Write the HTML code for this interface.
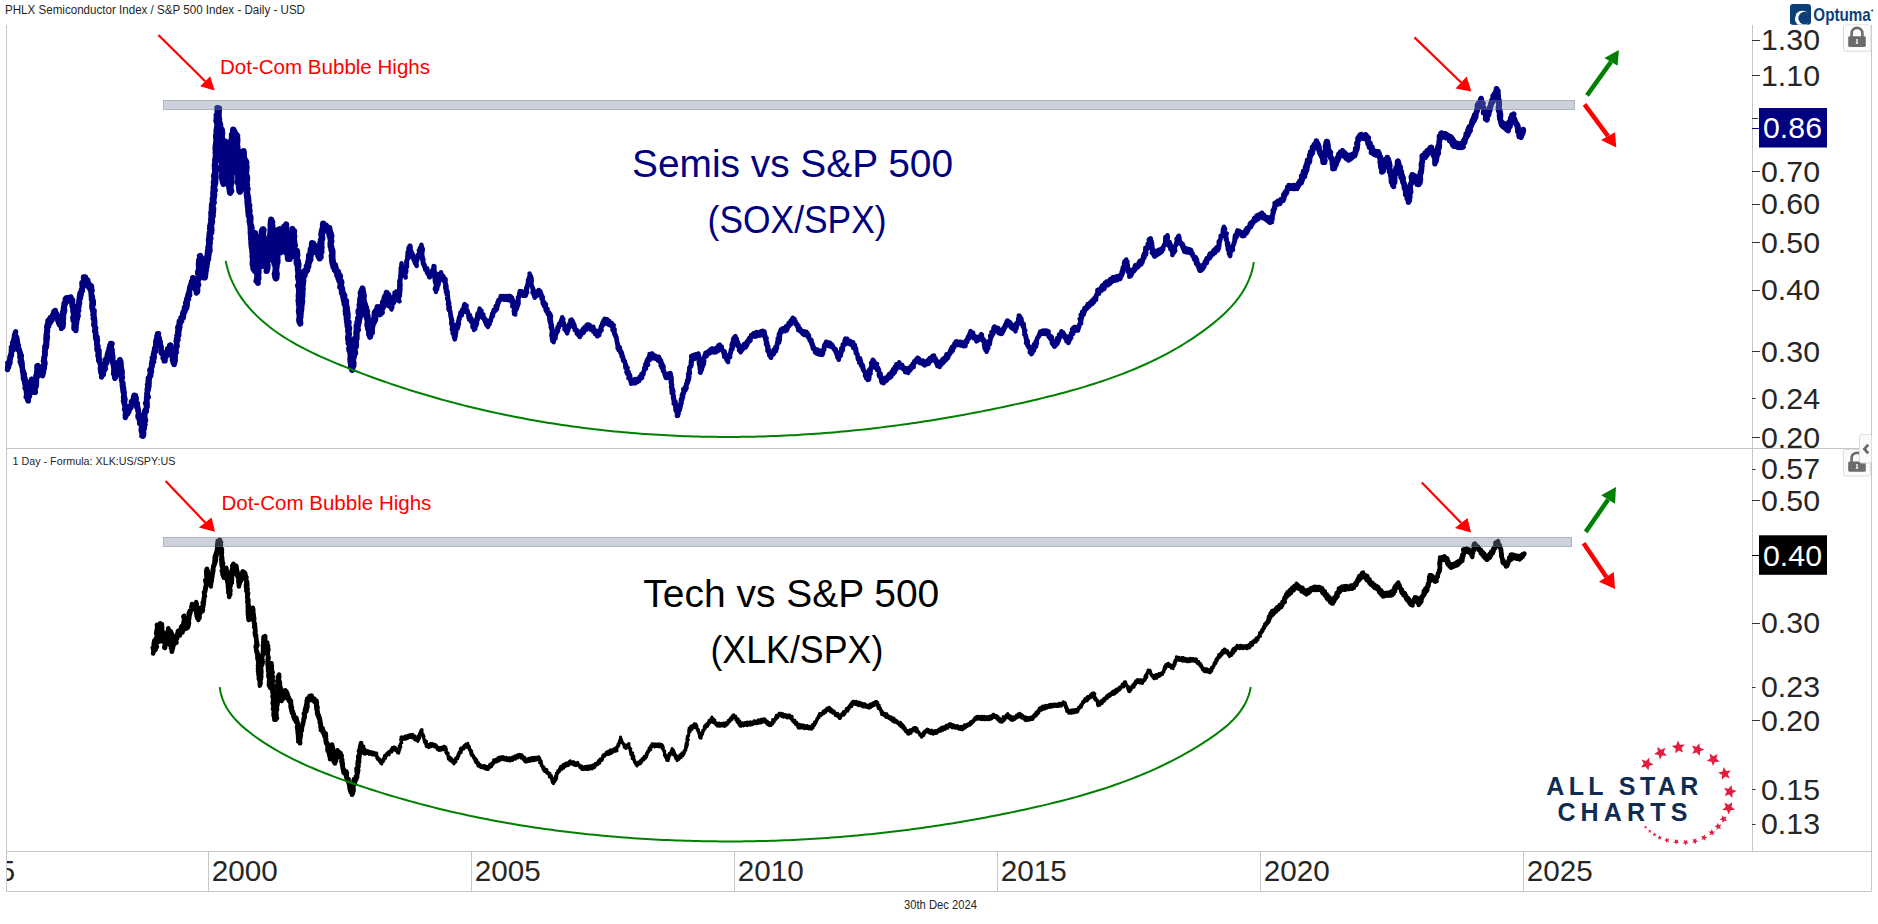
<!DOCTYPE html>
<html><head><meta charset="utf-8"><title>SOX/SPX vs XLK/SPX</title>
<style>html,body{margin:0;padding:0;background:#fff;width:1878px;height:924px;overflow:hidden}svg{display:block}</style>
</head><body>
<svg width="1878" height="924" viewBox="0 0 1878 924">
<rect width="1878" height="924" fill="#fff"/>
<text x="5" y="13.6" font-size="12" fill="#262626" font-family="Liberation Sans, sans-serif" textLength="300" lengthAdjust="spacingAndGlyphs">PHLX Semiconductor Index / S&amp;P 500 Index - Daily - USD</text>
<text x="12.5" y="465" font-size="11" fill="#262626" font-family="Liberation Sans, sans-serif" textLength="163" lengthAdjust="spacingAndGlyphs">1 Day - Formula: XLK:US/SPY:US</text>
<g stroke="#c6c6c6" stroke-width="1" fill="none">
<path d="M6.5,25 V891.5 H1871.5 V25"/>
<path d="M6,448.5 H1871 M6,851.5 H1871 M1752.5,25 V851"/>
<path d="M208.5,851 V891"/>
<path d="M471.5,851 V891"/>
<path d="M734.5,851 V891"/>
<path d="M997.5,851 V891"/>
<path d="M1260.5,851 V891"/>
<path d="M1523.5,851 V891"/>
</g>
<text x="211.7" y="880.6" font-size="29" fill="#262626" font-family="Liberation Sans, sans-serif" textLength="66" lengthAdjust="spacingAndGlyphs">2000</text>
<text x="474.7" y="880.6" font-size="29" fill="#262626" font-family="Liberation Sans, sans-serif" textLength="66" lengthAdjust="spacingAndGlyphs">2005</text>
<text x="737.7" y="880.6" font-size="29" fill="#262626" font-family="Liberation Sans, sans-serif" textLength="66" lengthAdjust="spacingAndGlyphs">2010</text>
<text x="1000.7" y="880.6" font-size="29" fill="#262626" font-family="Liberation Sans, sans-serif" textLength="66" lengthAdjust="spacingAndGlyphs">2015</text>
<text x="1263.7" y="880.6" font-size="29" fill="#262626" font-family="Liberation Sans, sans-serif" textLength="66" lengthAdjust="spacingAndGlyphs">2020</text>
<text x="1526.7" y="880.6" font-size="29" fill="#262626" font-family="Liberation Sans, sans-serif" textLength="66" lengthAdjust="spacingAndGlyphs">2025</text>
<svg x="7" y="851" width="201" height="40"><text x="-8" y="29.6" font-size="29" fill="#262626" font-family="Liberation Sans, sans-serif">5</text></svg>
<text x="904" y="908.6" font-size="12" fill="#262626" font-family="Liberation Sans, sans-serif" textLength="73" lengthAdjust="spacingAndGlyphs">30th Dec 2024</text>
<line x1="1752" y1="40.5" x2="1760" y2="40.5" stroke="#333" stroke-width="1"/>
<text x="1761" y="50.1" font-size="29.5" fill="#262626" font-family="Liberation Sans, sans-serif" textLength="59" lengthAdjust="spacingAndGlyphs">1.30</text>
<line x1="1752" y1="75.5" x2="1760" y2="75.5" stroke="#333" stroke-width="1"/>
<text x="1761" y="85.6" font-size="29.5" fill="#262626" font-family="Liberation Sans, sans-serif" textLength="59" lengthAdjust="spacingAndGlyphs">1.10</text>
<line x1="1752" y1="171.5" x2="1760" y2="171.5" stroke="#333" stroke-width="1"/>
<text x="1761" y="181.5" font-size="29.5" fill="#262626" font-family="Liberation Sans, sans-serif" textLength="59" lengthAdjust="spacingAndGlyphs">0.70</text>
<line x1="1752" y1="204.5" x2="1760" y2="204.5" stroke="#333" stroke-width="1"/>
<text x="1761" y="214.3" font-size="29.5" fill="#262626" font-family="Liberation Sans, sans-serif" textLength="59" lengthAdjust="spacingAndGlyphs">0.60</text>
<line x1="1752" y1="242.5" x2="1760" y2="242.5" stroke="#333" stroke-width="1"/>
<text x="1761" y="253" font-size="29.5" fill="#262626" font-family="Liberation Sans, sans-serif" textLength="59" lengthAdjust="spacingAndGlyphs">0.50</text>
<line x1="1752" y1="290.5" x2="1760" y2="290.5" stroke="#333" stroke-width="1"/>
<text x="1761" y="300.4" font-size="29.5" fill="#262626" font-family="Liberation Sans, sans-serif" textLength="59" lengthAdjust="spacingAndGlyphs">0.40</text>
<line x1="1752" y1="351.5" x2="1760" y2="351.5" stroke="#333" stroke-width="1"/>
<text x="1761" y="361.5" font-size="29.5" fill="#262626" font-family="Liberation Sans, sans-serif" textLength="59" lengthAdjust="spacingAndGlyphs">0.30</text>
<line x1="1752" y1="398.5" x2="1755.5" y2="398.5" stroke="#333" stroke-width="1"/>
<text x="1761" y="408.9" font-size="29.5" fill="#262626" font-family="Liberation Sans, sans-serif" textLength="59" lengthAdjust="spacingAndGlyphs">0.24</text>
<line x1="1752" y1="437.5" x2="1760" y2="437.5" stroke="#333" stroke-width="1"/>
<text x="1761" y="447.6" font-size="29.5" fill="#262626" font-family="Liberation Sans, sans-serif" textLength="59" lengthAdjust="spacingAndGlyphs">0.20</text>
<line x1="1752" y1="118.5" x2="1758" y2="118.5" stroke="#333"/>
<line x1="1752" y1="469.5" x2="1755.5" y2="469.5" stroke="#333" stroke-width="1"/>
<text x="1761" y="479.2" font-size="29.5" fill="#262626" font-family="Liberation Sans, sans-serif" textLength="59" lengthAdjust="spacingAndGlyphs">0.57</text>
<line x1="1752" y1="500.5" x2="1760" y2="500.5" stroke="#333" stroke-width="1"/>
<text x="1761" y="510.7" font-size="29.5" fill="#262626" font-family="Liberation Sans, sans-serif" textLength="59" lengthAdjust="spacingAndGlyphs">0.50</text>
<line x1="1752" y1="623.5" x2="1760" y2="623.5" stroke="#333" stroke-width="1"/>
<text x="1761" y="633.4" font-size="29.5" fill="#262626" font-family="Liberation Sans, sans-serif" textLength="59" lengthAdjust="spacingAndGlyphs">0.30</text>
<line x1="1752" y1="687.5" x2="1755.5" y2="687.5" stroke="#333" stroke-width="1"/>
<text x="1761" y="697.2" font-size="29.5" fill="#262626" font-family="Liberation Sans, sans-serif" textLength="59" lengthAdjust="spacingAndGlyphs">0.23</text>
<line x1="1752" y1="720.5" x2="1760" y2="720.5" stroke="#333" stroke-width="1"/>
<text x="1761" y="730.8" font-size="29.5" fill="#262626" font-family="Liberation Sans, sans-serif" textLength="59" lengthAdjust="spacingAndGlyphs">0.20</text>
<line x1="1752" y1="789.5" x2="1755.5" y2="789.5" stroke="#333" stroke-width="1"/>
<text x="1761" y="799.9" font-size="29.5" fill="#262626" font-family="Liberation Sans, sans-serif" textLength="59" lengthAdjust="spacingAndGlyphs">0.15</text>
<line x1="1752" y1="824.5" x2="1755.5" y2="824.5" stroke="#333" stroke-width="1"/>
<text x="1761" y="834.2" font-size="29.5" fill="#262626" font-family="Liberation Sans, sans-serif" textLength="59" lengthAdjust="spacingAndGlyphs">0.13</text>
<line x1="1752" y1="128.5" x2="1759" y2="128.5" stroke="#000080"/>
<rect x="1759" y="108" width="68" height="39.5" fill="#000080"/>
<text x="1763" y="138.3" font-size="29.5" fill="#fff" font-family="Liberation Sans, sans-serif" textLength="59" lengthAdjust="spacingAndGlyphs">0.86</text>
<line x1="1752" y1="555.5" x2="1759" y2="555.5" stroke="#000"/>
<rect x="1759" y="535.3" width="68" height="39.5" fill="#000"/>
<text x="1763" y="565.6" font-size="29.5" fill="#fff" font-family="Liberation Sans, sans-serif" textLength="59" lengthAdjust="spacingAndGlyphs">0.40</text>
<path d="M7.5,369.6 L8,365.3 L8.7,367 L7.8,363 L8.4,365.1 L10,361.4 L9.9,363.3 L9.7,359.7 L9.9,361.7 L10,356.9 L10.4,358.7 L10.8,355 L10.2,356.6 L11.4,353.1 L11.4,355.5 L11.6,350.5 L11.2,353.4 L11.5,348.5 L12.5,350.5 L11.4,347.2 L13.1,348.8 L12.7,345.1 L12.7,346.7 L12.6,342.7 L13.2,345.3 L13.6,340.2 L14.2,343.3 L14,339 L14.6,341.2 L14.9,336.5 L14.7,338.3 L15.2,334.5 L14.4,336 L15.6,331.9 L14.5,336.9 L15.4,335 L15.4,339 L16.7,337.2 L16.5,340.3 L17,339 L17.5,343.4 L17.1,340.3 L17,344.5 L17.8,343.5 L17.4,347 L18.4,345.5 L17.6,349.6 L18.3,346.7 L19.7,351.2 L19.1,349.3 L19.7,353.5 L19.8,351.3 L20.8,355.5 L20.1,353.2 L19.9,357.3 L21.4,355.5 L20.8,359 L20.7,357.5 L20.2,361.8 L21.5,360.1 L21.7,363.7 L21.9,361.8 L22.2,366 L21.1,364.2 L22.5,368.3 L21.9,365.8 L22.7,369.6 L22.4,368 L22.6,372 L22.7,370 L23.7,373.4 L23.5,371.6 L23.2,375.6 L24.3,374.2 L23.3,377.9 L24.4,376.4 L23.9,379.9 L25,378.1 L25.3,381.7 L24.5,379.9 L25.7,384.1 L24.7,382.6 L25.4,385.8 L26.1,383.8 L25.1,388 L26.4,386 L26.6,390.1 L25.6,388.5 L26.9,392.1 L26.3,390.4 L26.6,394.3 L27.7,392.7 L26.2,396.9 L28,393.8 L27.3,399 L28.4,396.8 L28.3,400.9 L28.3,398.5 L27.8,400.3 L27.8,396.9 L28.6,398.1 L29.2,394.8 L29.5,396.5 L29.7,391.7 L29.8,394.2 L28.4,389.8 L28.8,391.8 L29.9,387.9 L29.6,390.5 L30.1,386 L29.6,388.3 L30.2,383.4 L30.1,385.4 L30.6,381.3 L30.1,384 L31.6,379.2 L31.6,381 L31.6,379.1 L30.9,383.4 L31.7,381.7 L32.3,385.9 L33.3,384.5 L32.4,387.6 L32.9,386.6 L34.8,390.7 L33.5,388.3 L34.3,392.2 L34.7,390.3 L35.3,392.3 L34.7,388.6 L34.7,390.5 L35.9,386.5 L34.8,388 L35.5,384.1 L36.3,386.1 L36.5,382 L36,384 L36.2,379.8 L36.2,382.3 L36.4,378.3 L36.6,380.2 L35.9,376 L36.7,378.4 L37.7,374 L37.8,376.2 L36.7,371.8 L36.6,374.1 L37.7,369.2 L38,371.9 L38.1,367.5 L37,369.7 L37,365.9 L38.5,367 L37.6,365.5 L39.4,368.3 L38.2,365.8 L38.7,370.2 L40.1,366.9 L41,371 L41,369 L41.3,372.1 L41.6,370.1 L42,373.7 L41.1,371 L42.4,374.8 L42.2,372.3 L42.5,375.7 L43.6,371.6 L43,373.4 L43,369.5 L42.7,371.4 L44.4,367.5 L44.1,369 L44.1,365 L44.1,367.4 L43.9,363.1 L44.7,364.9 L43.4,361 L45,363.3 L44.2,359 L43.9,361 L44,357.1 L44.3,358.9 L45.1,354.6 L44.5,357.4 L44.8,352.7 L45.2,354.8 L44.6,351.6 L45.2,352.9 L44.8,349.2 L45.1,351.3 L44.9,346.4 L45.6,349.1 L45.7,344.5 L46.4,347 L45.9,342.6 L46.7,344.8 L46.6,340.3 L46.2,342.6 L45.9,338.6 L46.8,341.4 L47.2,337.1 L46.1,338.5 L46.2,334.5 L47.5,337.2 L46.5,332.3 L46.7,334.6 L47.6,331.1 L46.6,333.1 L47,328.8 L47.6,330.8 L46.7,326.7 L47.6,328.6 L47.3,324.4 L48.7,326.4 L48.1,322.9 L47.9,325.1 L48,320.8 L49.8,323.3 L50.2,320.2 L50.2,322.8 L49.7,318.7 L50.7,321.7 L50.4,317.4 L52,320.3 L51.6,316.9 L51.8,318.8 L52.6,315.1 L52.7,317.4 L53.2,313.9 L52.7,317 L53.9,313.3 L54.7,314.9 L54,311.4 L54.8,314.2 L55.3,310.5 L55,313.9 L54.9,311.8 L56.5,316 L56.8,313.8 L56.3,317.4 L57.8,315.8 L57.5,318.8 L58.3,317 L57.8,320.6 L58.6,318.2 L58.6,322.7 L58.5,320.3 L58.8,323.5 L60.4,321.4 L59.7,325.2 L60.4,323 L61.5,327.4 L61.5,325.3 L61.5,328.4 L62,326.4 L61.6,328.2 L62.7,324.9 L62.9,326.9 L63.3,322.5 L62.7,324.4 L62.9,319.7 L63.1,322 L63.5,318.2 L63.2,320.5 L62.2,315.8 L63.5,318.1 L63.4,314.1 L62.9,316.1 L62.7,312 L63.9,313.9 L63.9,309.4 L64.6,311.5 L64.5,307.7 L63.3,309.7 L63.7,306.2 L64.4,308.2 L64.1,303.2 L64.9,305.2 L65.3,301.5 L65.5,303.8 L65.3,299.7 L65.6,302 L66,298.5 L66.2,301.3 L65.3,298.7 L65.6,300.8 L66.1,298 L67.5,301 L67.3,297.6 L67.4,300.7 L68.6,297.7 L67.9,301 L69.2,297.5 L69,300.4 L69.7,297.5 L69,299.8 L70.8,297.4 L70.5,299.6 L70.4,297.2 L71.1,299.3 L70.8,297 L71.4,299.5 L71.3,298.1 L72.1,301.5 L72.7,300.1 L72.2,303.5 L71.6,301.1 L72.1,305.2 L72.6,304.1 L73,307.6 L72.2,306.3 L73.4,309.6 L73.6,307.9 L73.9,311.7 L72.8,310.2 L73.9,314.1 L73.2,312.4 L73.9,316.6 L73.8,314.6 L72.9,317.6 L73.2,316.6 L73.1,320.3 L74.8,318.5 L75,322.2 L74.8,319.7 L75.1,323.8 L74.1,322.2 L75.3,325.9 L74.2,323.9 L74,328.3 L74.5,326.2 L75.7,330.1 L75.4,328.2 L75.8,330.6 L76.1,326.6 L75.3,328.1 L76.1,324.4 L75.4,326 L76.4,322.2 L76.5,324.2 L76.3,320.6 L76.8,321.7 L76.6,317.9 L77.1,319.7 L76.5,315.7 L77.4,318.5 L77.9,314.1 L78.1,316.3 L77.3,312.1 L77,313.9 L78.7,310.4 L78.2,311.5 L77.5,307.7 L77.9,309.3 L77.9,305.6 L78.9,307.2 L78.4,303.2 L78.5,305.8 L79,301.3 L79.5,304 L79.6,299.9 L79.1,301.1 L80.4,298 L79.1,300.1 L79.7,295 L79.7,297.4 L80.1,292.9 L81,295.5 L81.5,290.8 L81,293.3 L81.4,289.6 L82.3,291.2 L82.5,287.3 L82.2,289 L82.7,285.4 L82.2,286.9 L82,282.7 L83.4,284.7 L83.4,280.6 L82.9,282.5 L84.5,278.8 L83.7,280.1 L83.5,276.9 L85.1,280.3 L85.4,276.9 L85.3,281.5 L85.5,278.6 L86.6,282.5 L86.9,279.5 L86.9,282.9 L87.7,280 L86.8,284.5 L86.9,281.9 L88.3,284.8 L88.2,282.3 L87.7,286.3 L88.5,283.6 L89,287.3 L90,284.7 L89.2,287.8 L90.1,286 L90,289.3 L91.4,285.9 L92,291 L91,288.9 L91,292.6 L91.4,290.5 L91.2,295.1 L91.2,292.7 L92.4,297 L91.4,295 L92.4,298.2 L91.3,296.7 L92.1,300.4 L91.4,299.1 L92.8,302.8 L93.2,300.5 L93.3,304.4 L92,303.4 L92.5,306.8 L91.9,304.9 L92.1,308.8 L92.5,306.6 L92.9,310.8 L92.3,309.1 L93.5,313.3 L94.1,310.7 L93,314.7 L94,312.8 L93.7,317.6 L93.8,315.4 L93.2,318.7 L94.2,316.8 L94.8,321.2 L94.4,318.8 L94.8,323.4 L94.2,321.3 L93.8,325 L94.8,322.8 L94.7,327.3 L94.4,325.5 L95.4,329.4 L95.7,327.9 L94.7,331.5 L95,329.1 L95.9,334.1 L95.7,332.1 L95.8,335.7 L95.8,333.8 L96.3,338.1 L95.4,335.4 L96,339.7 L97.1,337.1 L96.8,341.4 L97.5,340.1 L96.7,344.2 L96.7,342 L98,346.3 L97,343.9 L97.1,347.5 L97.2,345.3 L97,349.6 L97.4,348.4 L98.2,352.2 L98.9,349.8 L99,353.4 L98.2,351.5 L98,355.8 L98.9,354.3 L99.1,357.6 L98.7,355.5 L98.7,360.6 L98.9,357.6 L100,362.4 L99.2,360.7 L100.4,363.9 L99.6,361.8 L101,365.8 L101.3,364.2 L100.4,367.9 L100.6,365.7 L100.5,369.9 L100.4,368.8 L101,372.9 L100.6,370.7 L102.3,375 L102.6,372.7 L101.6,377 L102,374.2 L102,375.9 L102.3,372.1 L103.4,374.5 L103.1,370.3 L103.3,372.4 L104.3,368.6 L104.2,370.8 L104.9,366.6 L105.4,368.6 L104.3,364.4 L104.7,365.7 L106.3,362.2 L106.4,363.7 L105.2,359.6 L106.9,362.6 L107,357.9 L107.4,359.5 L107.3,356 L106.9,358 L107.5,353.8 L107.9,355.6 L108.1,351.7 L109.5,354.3 L109.6,349.3 L108.9,352.3 L109.1,348.1 L109.8,349.9 L109.8,345.4 L110,348.1 L110.6,343.5 L111.1,346 L112,343.5 L111.1,347.7 L110.6,345.7 L112.1,350 L110.8,347.2 L111.5,352.3 L111.6,350 L112.1,354.2 L112,351.3 L112.6,355.7 L112,353.8 L112.3,357.7 L112.8,355.4 L112.8,359.5 L112.3,358.1 L113.1,361.6 L112.3,360.2 L112.8,363.5 L113.4,361.6 L113.5,366.4 L114.1,363.7 L114.4,368.1 L114.1,366.6 L114.6,370.1 L114,367.8 L113.8,372 L114.9,370.2 L113.6,373.8 L114.2,372.9 L115.2,376.1 L114.4,374.5 L114.9,378.4 L115.2,376.3 L115.2,378 L116.5,374.1 L115.1,376.3 L116.6,371.7 L115.7,373.7 L116.7,370.2 L117.8,372.5 L117,368.1 L117.8,370.4 L117.4,366 L117.5,368 L117.7,363.3 L118.9,365.8 L118.4,362 L119.4,364.1 L119.8,359.8 L120.9,361.7 L120.2,359.9 L119.9,364.1 L119.7,361.6 L120.7,365.5 L121,363.2 L121.3,368 L120.2,366.2 L120.8,369.6 L120.4,367.4 L120.6,372.3 L122,370.3 L122.1,373.8 L120.9,372.3 L120.7,376 L121.5,373.6 L122.4,377.6 L121.7,376.2 L121.4,379.9 L121.7,378 L121.9,381.8 L121.8,380.3 L122.6,384 L122.9,382.7 L123,386.5 L122.2,384.1 L122.7,388.5 L123.2,386.3 L123,390 L123.7,388.1 L123.3,392.7 L123,390.2 L123.9,394.4 L124.2,392.1 L123.5,397.4 L123.9,395.1 L124.4,398.7 L124.5,396.8 L123.5,401 L125,398.9 L124.5,403.4 L124.5,401 L124.8,405.5 L124.2,403.5 L125.4,407.2 L124.6,404.7 L125.8,409.3 L126.1,406.8 L125.8,411.1 L124.6,409.1 L126,413.2 L125.6,411.3 L125.3,415.7 L126,413.6 L125.3,417.6 L126,413.4 L126.1,415.9 L126.5,412.3 L127.5,414 L126.9,410.7 L127.5,412.9 L127.8,409.6 L128.8,411.9 L129.8,407.5 L129.3,409.3 L129.4,406.2 L130.9,407.8 L131.3,404.5 L130.7,406.5 L132,403.3 L131.7,405.2 L131.3,401.7 L133.1,404 L133,399.4 L132.2,402.4 L133.7,398.6 L133.5,401.1 L133.6,396.5 L133.7,399.3 L134.2,395.2 L134.8,398 L135.6,395.5 L135.7,399.5 L136.2,397.8 L135.9,401.7 L135.8,400.1 L135.6,403.8 L135.9,401.4 L136.6,406.3 L137.5,403.4 L136.8,407.3 L137.4,405.5 L138.2,409.5 L137.1,407.3 L138.3,411.9 L138.5,410.3 L138.4,414.1 L138.7,412.3 L138,416.1 L139.6,414.4 L138.2,417.6 L139.8,416.1 L139.4,420.7 L139.9,418.3 L140.3,421.6 L139.7,419.9 L139.7,423.6 L140.6,422.4 L141.6,425.8 L141.5,424.3 L141.7,428.2 L141.7,426.5 L141.1,430.3 L142.3,428.5 L141.5,432.3 L141.5,430.6 L142.5,434.5 L142.8,432.7 L141.9,435.9 L142.7,434.8 L143.2,436.2 L143.7,432.3 L143.6,434.7 L143.5,430.4 L143.2,431.8 L144.2,428.3 L143.1,430.8 L144,426 L143.9,427.8 L145,424.5 L144,426.7 L143.7,422 L144.4,423.7 L145.3,420.1 L143.8,421.9 L143.9,417.6 L145.6,420.4 L144.2,415.6 L144.8,417.8 L144.9,414 L144.7,415.9 L144.7,411.1 L144.7,414.2 L145.1,410.1 L146.2,411.6 L146.4,407.5 L146.2,409 L146.4,405.4 L147.1,406.9 L145.6,403.2 L147.2,405.3 L146.9,401.2 L146.5,403.3 L147,399.8 L146.5,401.5 L146.6,397.2 L146.7,399 L147.5,394.8 L148.2,397.1 L146.9,393.2 L146.8,394.7 L147.8,390.8 L147.3,392.6 L147.2,389.2 L148,390.6 L148.8,386.7 L147.9,388.7 L147.5,384.4 L148.9,386.6 L149,382.9 L148.2,384.3 L148.2,380.4 L149.1,382.8 L148.3,378.2 L149.2,380.4 L149.4,376.5 L149.1,378.3 L150.1,374.1 L150.7,376.1 L150.9,372 L150.8,374.9 L149.9,370 L151.5,371.9 L151.2,367.7 L150.8,370.7 L152.1,366.3 L151,367.9 L152.4,364.3 L151.7,366.1 L153,362.4 L151.5,364.7 L152.3,360.2 L153.7,361.8 L152.3,357.6 L152.7,359.7 L154.2,356.3 L154.3,357.8 L153.4,354.3 L154.1,356 L154,351.9 L154,354.3 L155.4,349.6 L155.4,351.4 L154.6,348.2 L154.6,350.4 L156.1,345.3 L155.7,347.3 L155.7,344.2 L156.7,345.5 L155.8,341.2 L155.9,344.2 L156.3,339.4 L156.1,342.1 L156.8,337.8 L157.5,339.7 L157,336 L157.7,337 L158.5,333.7 L157.4,335.3 L157.5,333.7 L158.6,337.5 L158.4,335.8 L158.9,340 L159.1,337.4 L159.4,341.3 L159.1,339.4 L159.9,343.7 L160.2,341.4 L160.2,345.8 L160.4,344.5 L161,348 L161.1,346.1 L161.3,350.3 L161,347.5 L161.1,352.6 L161.5,349.8 L161.9,353.8 L162.6,351.8 L163.4,356.8 L163.9,354.8 L163.1,357.9 L164,356.5 L164.2,360.8 L164.9,358.3 L165,360.8 L164,356.4 L164.3,358.6 L166,355.4 L166.1,356.9 L165.6,353.3 L165.6,355.8 L167.6,352.2 L167.5,354.4 L167.7,349.9 L168.2,351.9 L167.7,348.6 L169.4,350.5 L169.1,347.4 L169.9,349.1 L169.7,345.1 L169.3,347.8 L170.8,345.1 L170.1,349.3 L170.1,347.2 L170.8,351.6 L171.2,349.5 L171.1,353.7 L172.1,351.6 L171.5,355.5 L172.9,353.7 L172.5,358 L173.4,356.2 L172.3,359.8 L172.8,358.1 L173.1,362.9 L173.8,360.4 L174.1,364.6 L174.2,362.5 L174.2,364.5 L174.9,360.8 L174.9,362.2 L175.2,358.9 L174.6,360.3 L175.2,356.7 L174.5,357.9 L175.2,354.2 L174.3,355.9 L174.8,351.7 L175.4,354.3 L175.2,350 L176.3,352.4 L175,348.2 L176,349.6 L176.7,346.3 L175.9,348.2 L176.6,344 L177.2,346 L176.4,342.4 L176.9,343.8 L177,340.1 L176.2,341.4 L176.6,338.3 L178,339.9 L177,335.5 L177.9,337.3 L178.2,334 L178.8,335.3 L177.7,332 L178.8,334.1 L178.5,330 L178.3,331.9 L177.8,327.1 L179.3,330.1 L179.2,325.4 L179.9,327.3 L179,323.9 L179.1,325.9 L179.3,321.2 L180.2,324 L181.2,319.3 L181.7,321 L181,317.6 L181.7,319.7 L182.8,315.2 L183.3,317.7 L182.6,313.5 L183.6,315.9 L183.3,311.6 L184.1,313.2 L184.9,310.1 L184.9,311.5 L184.4,307.4 L185.3,310.1 L186.3,305.4 L186.7,308 L185.6,303 L187.1,306 L187.2,301.4 L186.4,303.5 L186.7,298.9 L187.5,301.5 L187.4,297.3 L188.6,299.2 L187.9,294.9 L188.2,297.1 L188.6,293.1 L189.7,295.3 L189.5,291 L188.7,293 L190.1,288.4 L189.2,290.8 L190,286.6 L190.5,288.4 L190.9,284 L191.9,285.7 L191.5,281.5 L191.9,284.1 L192.6,280.4 L192.9,281.9 L192.8,277.8 L193.2,279.1 L193.4,277.8 L194.4,282 L193.9,279.4 L194,283.9 L193.9,281.4 L195.3,286.3 L194.4,283.6 L194.6,288.2 L195.7,286.7 L195.9,290.7 L196.6,288.5 L197.3,292.3 L197.7,290.6 L196.3,293 L196.4,288.7 L197.7,290 L197.4,285.9 L197.6,288.2 L198,283.9 L197.7,286.5 L197.4,282.4 L198.7,284.8 L197,280.5 L197.4,282.5 L197.5,278.5 L198.6,279.8 L199.1,276.1 L199,278.5 L197.8,273.7 L198.3,275.7 L197.7,271.7 L198.7,273.8 L199.3,270.3 L198.7,271.4 L198.6,267.4 L199,269.5 L198.6,265.6 L198.7,268.3 L198.4,263.3 L199.5,266.1 L199.1,262.2 L198.9,263.8 L198.7,260.1 L200.2,262.1 L200.4,257.2 L199.9,260 L200.3,255.4 L199.9,257 L199.5,255.8 L200.3,259.1 L201.5,257.5 L201.3,262.1 L200.5,259.2 L202.1,263.4 L200.8,261.3 L202.3,266.1 L201.7,263.6 L201.4,267.5 L202.1,265.5 L201.7,270.4 L201.8,267.3 L202.4,272.3 L203.6,269.4 L203.2,274.2 L203.1,271.6 L203,276.5 L204.1,274.5 L204.9,277.9 L203.5,276.4 L203.6,277.8 L205,273.4 L205,276.4 L205.5,271.7 L204.9,273.6 L204.7,269.8 L204.9,272.1 L205.3,267.6 L205.9,269.9 L205.3,265.9 L206.4,267.3 L206.6,263 L206.2,266.1 L206.8,260.9 L206.8,263.7 L207.2,259.7 L207.1,261.5 L207.2,257.1 L208.1,259.6 L208.1,255.6 L208.1,257.3 L208.7,253.7 L207.5,255.6 L208,250.8 L208.5,252.9 L208.4,248.9 L209.6,251 L209.3,247.1 L209.3,248.9 L209.4,244.3 L208.4,247.3 L209.4,242.9 L209.3,244.2 L208.9,240.1 L209.9,243 L209,238.9 L209.5,240.4 L210.2,236.6 L210.4,238.4 L209.7,233.9 L209.4,236.4 L209.7,232.7 L210.3,234.2 L210.7,230.2 L211.3,232.4 L210,228.5 L211.6,229.9 L210.2,226.2 L211.3,227.5 L210.8,223.6 L210.9,225.9 L212.1,221.3 L211.6,223.8 L211.1,219.4 L211.9,221.7 L211.7,217.2 L211.3,219.7 L212.8,215.9 L211.5,217.9 L211.3,212.9 L212.3,214.8 L212.5,211.8 L212.9,213 L213.2,208.7 L211.8,211.1 L211.9,206.8 L211.9,208.6 L212,204.6 L212.4,206.8 L212.8,202.9 L212.8,205.5 L212.8,200.9 L213.8,202.6 L212.7,198.4 L213,201.3 L214,196.9 L213.2,198.3 L214.3,194.7 L213.4,196.3 L213.3,192.2 L213.2,194.7 L214.1,190.5 L214,192.4 L213.5,188.1 L214.8,190.5 L213.7,185.9 L213.7,188 L214.5,184 L214.5,185.9 L215.3,182.7 L214.2,184.9 L215.1,179.9 L213.8,182.7 L214.5,178.7 L215.3,180.7 L214,176.2 L215.6,177.9 L214.6,173.7 L214.9,176.7 L215.7,171.6 L215.5,173.7 L215.5,169.9 L215.2,172 L214.9,168.2 L216.1,169.8 L214.7,165.3 L215.5,168.1 L215.2,164.2 L215.3,166.2 L215.2,161.3 L215.4,164.2 L215.2,159.7 L215.2,161.3 L215.9,157.8 L216,159.3 L215.7,155.8 L216.8,157.1 L216,153.1 L216.3,155.2 L217.1,151.9 L215.6,152.9 L216.2,149 L215.9,151.2 L216.9,147.8 L215.5,149.6 L215.7,145.3 L215.8,147.4 L217.1,143.3 L216.1,145.4 L216.9,141.7 L216.1,143.1 L216.7,139.4 L217,140.9 L217.4,137.3 L216.2,138.6 L216.1,135.4 L217.5,137 L216.7,132.4 L217.7,135.3 L216.5,131.1 L217,132.7 L216.7,129.2 L216.6,131.2 L217.2,126.9 L217,129 L217.5,125.3 L217.8,126.7 L216.9,122.2 L217.7,124.6 L216.4,120.7 L217.2,122.5 L216.6,118.5 L216.9,120.9 L217.4,116.8 L218,118.5 L216.7,114.8 L216.7,116.4 L218.4,111.9 L218.1,114 L217.5,110.7 L217.9,112.5 L217.4,108.2 L218.3,110.4 L219.1,108.4 L218.7,112.1 L218.5,110.3 L217.9,114.6 L218.8,113 L218.4,117.1 L218.6,115.1 L218.6,118.9 L218.9,117.1 L218.8,120.8 L219.2,119 L218.5,123.4 L219,120.8 L220.2,125 L219.9,123.7 L218.8,128 L220.3,125.2 L219.8,130.2 L219.7,127.4 L219.9,132.1 L220.3,129.9 L219.2,133.8 L219.9,131.9 L220.4,136.2 L220.2,133.7 L220.2,137.5 L220.4,136.3 L220.6,140 L219.6,138.2 L220.2,141.9 L220.4,140.4 L220.7,143.9 L220,141.7 L220.3,146 L219.8,144.1 L219.3,147.9 L220.8,146.6 L219.5,150.6 L220,148.1 L220.5,152.5 L220,149.9 L219.5,154.7 L220.1,152.2 L220.1,156.7 L220.2,154.2 L220.2,158.8 L221,156.8 L221,161 L220.1,158.8 L221.4,161 L220,156.1 L221.5,158.1 L221.2,154.6 L221.3,156.4 L220.7,152.7 L221.1,154.5 L220.5,150.7 L220.1,151.9 L221.8,147.9 L221.7,150.4 L220.3,146.2 L221.8,148.5 L221.9,143.6 L221.4,146.3 L221.8,142 L220.3,143.7 L220.3,140.1 L221.4,141.6 L220.8,138.3 L221,139.8 L221.4,135.2 L220.5,137.4 L220.6,133.2 L221.6,135.8 L222,132.2 L222.2,133.4 L221.7,129.6 L221.9,131.3 L221.1,129.8 L222,133.6 L221,131.8 L221.7,135.5 L221.8,133.3 L221.9,138.1 L221.3,135.3 L222.5,139.9 L220.9,138.3 L222.2,142.3 L222.2,139.9 L221.9,143.6 L222,141.4 L221.3,146.2 L222.5,143.9 L221.6,147.9 L222.3,145.7 L222.6,150.1 L222.4,147.9 L221.8,152.6 L221.8,150.7 L221.1,154.7 L222.5,152.9 L221.3,156.3 L221.6,154.2 L221.6,158.7 L222.2,156.7 L222.8,160.6 L222.2,158.4 L222,162.4 L223.1,160.4 L222.3,164.8 L222.5,163 L221.5,166.9 L223.1,165.3 L223.2,168.8 L223.3,166.6 L222,170.7 L223.1,168.5 L223,173.2 L222.6,170.8 L223.1,175.6 L222.2,172.8 L223.4,177.4 L221.7,175.6 L222.9,179.3 L223.4,177.2 L223,181 L222.7,179.2 L223.5,184 L222.3,179.4 L223.6,181 L222,177.7 L223.3,179.2 L223.3,174.9 L223.5,176.8 L223.3,172.9 L223.3,175.7 L223.6,171.1 L223.7,173.3 L222.4,169.4 L223.9,170.9 L223.1,166.6 L223.5,169.4 L223.2,165 L222.5,166.7 L222.7,162.9 L223.4,164.4 L223.6,161.3 L223.2,162.3 L223.4,159.2 L224.3,160.7 L224.1,156.8 L223.2,159.1 L223.2,154.7 L223.9,157.3 L224,153.1 L223.6,155.1 L224.4,150.7 L223.1,152.3 L224.3,148.8 L224.7,150.1 L224.5,145.9 L223.9,148 L224.8,144.1 L224.8,145.8 L225.7,141.7 L224.3,145.6 L225.1,143.6 L225.7,147.3 L225.1,145.6 L224.5,149.6 L225,147.8 L225.6,152.3 L226,150.1 L225,154.3 L224.5,152.3 L224.5,156.4 L225.3,153.9 L224.6,158.4 L226.3,155.7 L226.2,160.1 L225.1,158.4 L225.2,161.7 L225.3,160.6 L224.7,164.6 L226.2,161.8 L225.4,166.1 L225.8,163.9 L225.4,168.3 L225.8,165.9 L225.5,169.8 L225.6,167.9 L225.3,172.5 L225.2,170.6 L226.2,174 L225.9,172.3 L225.8,176.8 L226.7,172.7 L226.6,174.7 L226.3,170.2 L226.3,172.6 L226.6,168.5 L226.5,170.5 L226.2,165.7 L226,168.2 L226.5,164 L225.8,166.3 L225.8,162 L226.4,164.2 L227.2,159.4 L226.1,162.4 L226.6,157.8 L225.8,160.3 L226.2,156 L226.4,157.5 L226.4,153.9 L226.9,155.5 L227.3,151.1 L227.7,153.5 L227.3,149.3 L227.4,151.4 L226.8,147.4 L228,149.8 L228.4,146.6 L228.6,150.6 L229,148.6 L228.5,152.6 L227.6,150.1 L227.7,154 L227.4,152.6 L228.9,156.5 L228.9,153.8 L227.7,158.9 L229.1,156.3 L228.1,160.2 L228.4,158.7 L228.1,162.8 L228.8,160.9 L228,164.7 L229,162.5 L228.9,167.2 L229.1,164.8 L229.1,169.1 L228.4,167.2 L228.5,171.2 L229.2,169.2 L228.9,172.5 L229,171.1 L229.3,175.5 L228.1,172.6 L228.3,177.7 L229.8,175.5 L228.6,178.8 L229.8,176.9 L229.9,181.7 L228.8,179 L228.8,183.2 L229,181.2 L228.8,185.6 L229.3,183.1 L229.4,187.6 L229.7,185.9 L230.3,189.7 L229.5,188.8 L230.1,192.9 L230.5,188.3 L231.2,190.8 L230,186.7 L230.5,188.1 L230.7,184.8 L230.3,186.6 L230.1,182.6 L231.1,183.9 L231.4,180 L231.4,182.2 L230.7,178.4 L230,180.6 L230.3,176.5 L231.6,178.1 L231,173.5 L231.4,175.7 L230.6,171.7 L231.3,173.6 L230.6,169.8 L230.3,172.2 L231.4,168.2 L231.3,169.9 L230.5,165.8 L231.8,167.7 L231.7,164 L232.2,165.9 L231.5,162.1 L231.2,163 L231.4,159.9 L231,161.3 L230.9,157.7 L231.6,159 L231.7,154.8 L232.1,157.9 L231,153.1 L231.3,155.8 L231.8,150.9 L232.3,152.8 L231.2,148.7 L232.5,151 L231.1,147.6 L232.5,149.2 L231.8,144.7 L232.6,146.4 L232.6,142.3 L232.8,145.3 L232.1,140.6 L231.6,143.1 L232.6,138.8 L231.5,140.3 L232.2,136.1 L232.4,139 L231.9,134.8 L232,136.3 L233.3,132.5 L232.7,134.4 L233.2,129.5 L234,132.2 L233.5,129.9 L233.6,134.5 L234.5,131.8 L233.7,135.5 L234.4,133.9 L233.7,137.7 L233.8,135.8 L233.5,139.9 L234,138.2 L233.1,141.8 L233.8,140 L233.8,143.8 L233.6,142.7 L234.6,146.1 L235,144.7 L233.6,148 L234.2,146.5 L234.8,150.8 L234.4,149.1 L235.1,152.4 L233.9,151.1 L234.6,155 L234.1,153.1 L233.6,157 L234.9,155.3 L234.1,159.3 L235,157.4 L235.5,161.3 L235.1,159.3 L235.5,163.1 L235,160.6 L235.4,164.9 L234.1,163.6 L234.2,167.8 L235,165.4 L234.7,169.4 L234.8,167.2 L234.8,171.9 L235.7,167 L235.5,169.1 L235,165 L234.9,167.5 L234.7,162.9 L234.9,165.2 L235.8,161.7 L234.4,163.2 L235.2,159.6 L235.2,161.5 L236.1,156.6 L235.9,158.6 L235.2,155.1 L234.6,157.4 L235.1,152.6 L235.9,154.7 L235.3,150.9 L235.1,152.3 L235.5,149.1 L235.2,151.2 L236.2,146.9 L234.9,149.1 L235.4,145.1 L236.3,147.2 L235.4,142.6 L236.6,144.6 L235.7,140.9 L235.1,143 L236.6,138.8 L236.4,140.1 L236.8,136.5 L236.8,138.3 L235.9,134.1 L237.1,135.6 L236,134.4 L237.3,138.7 L236.8,135.8 L237.3,140 L236.9,137.9 L237,142.3 L237.4,140.7 L237,144.4 L237.2,142.2 L236.7,146.5 L237.1,144.9 L237.7,149.1 L237.3,146.6 L237,150.6 L237,148.9 L238.1,152.5 L236.8,150.5 L236.5,154.6 L237.5,152.4 L237.1,156.3 L238.3,155.4 L237.3,158.9 L238.4,157.1 L237.1,160.7 L237.3,159.4 L238.3,163.1 L238.1,161.3 L238,165.6 L237.2,162.6 L237.3,167.5 L238.5,165.2 L238.6,169.2 L237.7,166.8 L238,170.8 L237.2,169.3 L237.6,172.9 L238.5,171.6 L238.7,175.3 L237.4,173.6 L238.7,178.1 L238.3,176 L238.4,179.6 L238.2,178.5 L237.7,182.6 L239.1,180.4 L239,183.8 L239.5,182.2 L239.4,186.4 L239.1,184.3 L239.1,188.4 L238.9,186.6 L239.4,190.8 L240.1,189.9 L239.9,191.8 L239.6,187.5 L240.9,189.8 L240.8,185.9 L241.1,187.4 L239.6,182.7 L239.6,185.8 L239.5,181.6 L240.3,183.3 L240.6,178.7 L239.7,181.3 L240.2,176.5 L240.7,179.2 L239.9,174.4 L240.2,176.6 L240.5,172.5 L240.4,174.8 L240.9,171 L240.1,172.7 L241.2,168.5 L240.3,170.9 L241.5,166.4 L240.3,168.1 L241.8,164.3 L240.6,166.8 L241.3,162.2 L241,164.5 L241.2,160.3 L241.2,162.4 L242.3,158.2 L241,159.6 L242.4,155.9 L241.2,158 L242.1,154 L243,155.5 L243.6,151.1 L243.9,154 L243.1,151.2 L243.4,155.8 L242.9,153.4 L242.7,158.1 L242.9,155.6 L244.1,160.1 L244.2,157.8 L242.8,162.3 L243.3,159.3 L243.5,163.8 L243.8,161.8 L244.2,166 L243.1,163.8 L243.1,168.4 L243.2,166.1 L244,169.8 L244.6,167.7 L243.6,172 L244.4,170.1 L244.2,174 L244.1,172 L244.8,176 L244.6,174.5 L243.7,178 L244.9,176.7 L243.8,180.3 L244.6,178.1 L243.6,182.3 L244.7,180.8 L243.7,184.8 L243.5,182.9 L243.8,186.9 L244.2,182.5 L244.6,184.9 L243.7,180.6 L244.4,182.4 L244,178.2 L244.8,179.7 L244.4,176.6 L245.5,177.5 L244.2,173.8 L244.4,176 L244.6,171.2 L245.1,173.6 L244.4,169.7 L245.6,171.9 L245.5,167.5 L245.9,169.4 L245.3,164.9 L245.8,167.4 L245.8,163 L245,165.2 L245.9,161.3 L245.2,163.2 L244.7,159.4 L246.4,162.9 L246.2,161.7 L245.3,165.3 L245.4,162.8 L246.6,167.1 L245.2,164.9 L246.4,169.5 L245.1,168 L246.3,171.8 L246,169.8 L245.7,173.5 L246,171.5 L246,175.6 L245.8,173.6 L247.1,177.5 L246.8,175.7 L245.9,179.6 L247.1,178.4 L245.8,181.6 L247.1,180.2 L245.7,183.9 L246.7,182.2 L246.1,186.7 L247.1,184.5 L246.5,188.1 L246,186.3 L246.5,190.7 L247.6,188.7 L246.7,192.4 L247.2,191.2 L247.1,194.5 L246.7,192.4 L247.9,196.9 L246.8,194.7 L247.5,199.5 L248.1,197.4 L248.4,201.3 L247.7,198.9 L247.8,203 L247.4,201.3 L247.9,205.1 L247.6,203.2 L248.1,208.1 L249.3,205.3 L248.2,210.3 L249,207.4 L249.6,211.7 L248.8,209.5 L248.7,213.6 L248.4,212 L249,216.6 L248.6,214.2 L249.9,218.3 L250.3,216 L250.4,220.8 L250.5,218.2 L249.8,222.4 L249.6,220.7 L250.2,224.4 L250.1,223 L251.3,226.4 L250.5,224.8 L250.7,229 L251.5,226.6 L251.6,230.6 L250.9,229 L251.9,232.5 L250.7,230.6 L250.8,234.5 L251.1,233 L251.4,236.8 L251.3,235.3 L251.1,239.2 L251.3,237.5 L252.7,241.7 L251.8,239.2 L251.3,242.8 L252.2,240.8 L251.5,245.4 L252.8,244 L252.5,247.3 L252.9,245.2 L253.2,249.9 L251.8,247.4 L252.7,251.5 L252.2,249.7 L252.6,253.7 L253.7,252.1 L253.6,255.5 L253.3,253.9 L252.9,257.9 L252.5,256.3 L253.1,259.7 L253.9,257.8 L253.6,262.4 L252.8,260.7 L252.7,264.7 L253.5,261.7 L253.3,266.2 L254,263.9 L253.7,268.4 L253.6,266.7 L254.7,270.9 L253.9,268.9 L254.7,270.5 L254.5,266.5 L253.4,268.7 L253.5,263.9 L253.6,266.2 L253.4,262.6 L254.6,263.8 L253.7,260.7 L253.5,262.3 L253.9,257.9 L254.8,260.2 L255.3,255.6 L254.2,258.5 L255,254.4 L255.2,255.5 L255,251.5 L255,254.3 L255.1,250.1 L254.1,251.8 L254.5,247.5 L255.6,250.4 L254.7,245.4 L255.7,247.3 L255.1,244.2 L254.3,245.7 L255.5,242.1 L254.9,243.7 L255.3,240.1 L254.7,241.1 L255,237 L254.8,239.9 L255.7,235.1 L256,237 L255.2,233.1 L255.8,238 L254.7,235.1 L255.4,239.9 L255.8,237.7 L255.8,241.1 L256.5,239.2 L256.1,243.8 L256.3,241.7 L255.4,245.9 L256.8,243.3 L256.5,247.4 L255.7,246 L256.2,250.3 L256.3,247.7 L256,251.5 L255.7,249.3 L256.9,254.1 L256.6,252.2 L255.4,255.4 L255.5,254.3 L257.2,258.1 L255.9,256.4 L255.6,259.5 L255.8,258.2 L255.9,261.8 L256.8,260.5 L256,264.4 L256.3,261.9 L256.3,266.4 L255.9,264.4 L257.4,268 L257.1,266.5 L256.2,270.2 L256.8,268.8 L257,272.2 L256.7,270 L257.7,274.2 L256.7,272 L257.6,276.4 L257.4,274.5 L257.6,278.5 L257.9,276.6 L256.5,280.9 L257.5,278.1 L257.8,282.8 L257.1,280.1 L257.7,282.4 L256.9,278.9 L257.1,280.2 L257.3,276.2 L258.5,278.4 L258,274.8 L258.1,276.3 L258.3,272.4 L258.1,274.2 L258.4,270.2 L258.6,272.6 L258.1,268.1 L258.4,270.1 L259,265.5 L258.2,268.3 L257.5,263.5 L258.5,265.4 L257.4,261.5 L258.9,264 L258.3,260.1 L258.5,262.3 L258.8,258.3 L258.1,259.3 L259.3,255.3 L259.5,257.6 L258.4,254.1 L258.4,255.5 L258.6,251.8 L259.3,254 L258.7,249.1 L258.6,251.3 L259.6,250 L258.4,254.2 L259.3,251.8 L259.9,256.3 L259.3,253.5 L259,258.4 L259.6,256.1 L259,259.6 L259.8,258.6 L260.4,262.8 L259.8,260 L260.4,264.5 L260.9,262.4 L261.1,266.1 L260.9,262.4 L260.1,264.2 L261.5,260.2 L260.8,262.4 L261.5,258.2 L260.4,260.9 L261.6,255.9 L261.4,258.5 L260.8,253.7 L261.6,255.8 L261.8,252.2 L260.5,254.6 L260.9,250.2 L260.7,252.1 L261.6,247.7 L262.4,250.5 L262,246.1 L262.5,247.7 L261.5,243.8 L261.6,246 L261.2,242.2 L261.1,243.8 L261.6,239.4 L261.7,241.5 L262.6,238.1 L262.9,239.8 L261.7,235.5 L263.3,237.5 L262.6,233.6 L263.3,236.2 L261.8,231.7 L263.2,233.5 L262.7,229.4 L261.9,231 L263.6,229.6 L262.8,233.7 L263.4,231.1 L262.3,235.8 L262.2,233.6 L263.7,237.7 L262.9,235.4 L263.5,240.3 L263.3,238.1 L263.6,241.9 L262.5,240.4 L264.2,244.2 L262.6,241.7 L264,245.6 L264.4,244.5 L263.6,248.4 L263.6,246.4 L263.7,250.4 L264.6,247.8 L264.7,252.7 L263.8,250.5 L264.6,254.9 L263.6,252.1 L263.7,256 L264.1,251.9 L264.3,254.7 L264.9,249.9 L264.1,252.7 L263.8,248.1 L263.9,250 L265.4,245.6 L265.7,248 L265,244.2 L265,246.3 L264.9,241.3 L264.9,244 L264.8,239 L264.8,241 L265.7,239.2 L266,243.5 L266.1,241.9 L265.4,245.4 L265.3,244.2 L265.3,247.8 L266.1,245.9 L266.2,249.6 L266.6,248.4 L266.6,252.3 L266.3,249.7 L267.1,253.5 L265.5,251.9 L266.7,256.1 L266.3,254.1 L266.3,258.5 L265.7,255.9 L265.8,260.6 L266.2,257.8 L266.3,262.4 L266.7,259.7 L266.7,264.3 L266.8,262.6 L267.7,266.2 L266.3,264.7 L267.4,268.9 L267.2,265.9 L266.6,271 L267.6,266.8 L266.5,268.4 L267.1,264.4 L267.7,266.1 L266.9,262.5 L266.8,264.2 L267.6,260.5 L266.8,262.5 L266.8,257.7 L267.8,259.8 L266.8,255.7 L266.8,258.4 L267.8,253.8 L267.3,256.3 L267.4,251.8 L268.7,254.1 L267.3,250.2 L267.8,252.3 L268.6,247.9 L268.3,249.6 L268.1,245.9 L269,247.6 L267.9,243.5 L267.8,245.2 L268.3,241.2 L268.2,243.3 L268.1,239.4 L268.1,241.6 L268.6,240.1 L268.4,244 L268.3,241.4 L268.2,245.8 L268.9,243.7 L268.3,247.5 L269.1,245.5 L269.4,250.5 L269.5,247.6 L268.8,252.7 L269.2,250.6 L269.8,254.3 L270.8,251.9 L270.4,256.2 L269.6,252.5 L269.8,254.2 L269.6,250.7 L269.8,252 L269.9,247.8 L270.9,250.5 L271.1,245.8 L269.6,247.8 L270.1,244.2 L271.4,245.8 L270.9,241.9 L270.1,244.6 L271.3,240.7 L270.9,242.2 L271.2,238.6 L271,239.6 L269.9,236.2 L270.5,238.1 L270.3,233.5 L270.8,236.1 L270.7,231.6 L270.4,234.6 L270.5,229.6 L271,232.1 L270.7,227.6 L270.7,230.3 L271.5,225.4 L272.2,228.3 L270.7,223.5 L270.6,226.2 L272.2,222.2 L270.6,224.2 L271.2,219.6 L272.1,224.4 L271.6,221.5 L272.4,226.3 L271.4,223.5 L271.6,228.5 L271.5,226.1 L270.9,229.7 L272.6,228.2 L272.3,232.2 L272.3,230.2 L271.3,234.1 L272.2,232.7 L272.8,235.9 L272.2,234 L272.5,238.1 L271.4,236.3 L272,240.1 L271.6,238.4 L271.4,242.5 L273.1,241 L273,244.2 L271.9,243.3 L272.8,247 L273,244.5 L272.9,248.5 L272.5,247.5 L273.1,250.9 L272.6,248.6 L273.6,253.3 L272.5,250.7 L273.4,254.9 L272.7,252.7 L273.7,257.8 L272.9,255.7 L273.6,259.1 L273.1,257.6 L273.6,261.4 L272.8,257 L273.5,260 L272.5,255.8 L273.6,257.4 L274,253.3 L272.6,255.2 L273,250.8 L274.1,253.6 L272.9,249 L273.1,251.7 L273.1,246.8 L274.1,248.7 L274,245.4 L273.1,246.7 L273.2,242.9 L274.3,245.3 L273.6,240.8 L274.5,242.6 L273.8,238.8 L274.9,240.5 L274.8,237 L274,238.4 L273.9,234.9 L274.3,236.9 L274.8,233.9 L274.2,238.4 L274.1,236.6 L273.9,241 L274.5,239.2 L274.7,242.7 L274.2,241 L275.1,245.4 L275,243.1 L274,246.7 L274.4,245 L274.8,248.7 L274.3,246.5 L275.8,251.3 L275.7,249 L275.4,253.1 L275.3,250.7 L275.4,255.6 L275.3,253.4 L275.7,257.8 L274.7,255.7 L274.3,259.1 L274.7,257.7 L274.7,261.2 L274.7,258.9 L274.6,263 L276.1,261.7 L275.8,265.4 L274.5,264.1 L276.2,267.2 L275.4,266 L275.8,269.6 L276.1,268.1 L275.6,272.4 L275.7,269.3 L274.8,274.4 L275.5,271.3 L276.1,275.7 L276.2,274.4 L275.8,278.4 L275.2,276.6 L276.5,277.7 L276.4,274 L275.4,276.4 L275.8,272.1 L276.8,274.4 L275.8,269.2 L275.5,272.1 L276.4,268 L276.1,269.4 L276.7,265.7 L276.3,267.7 L276.2,263.9 L276.5,265.9 L276.1,261.6 L277.4,263 L277.5,259.5 L276.2,261.5 L277.5,257.2 L276.4,258.7 L276,254.8 L277.4,256.8 L277,252.6 L277.4,255.1 L277.9,251.1 L278,253 L276.9,248.5 L276.9,250.6 L277.9,246.3 L277.6,249 L278.1,244.7 L276.7,247 L276.8,242.5 L277,244.4 L278.3,240.8 L277.9,242.1 L278.3,237.7 L278.5,239.6 L278,236 L277.7,238.4 L278.2,234 L278.1,235.9 L279.2,232.1 L278.8,233.4 L278.1,229.7 L279.2,231.7 L280,229.3 L280,233.9 L279.6,231.2 L280,236 L279.2,234 L280.2,237.3 L279.5,235.4 L279.4,239.9 L279.6,237.7 L280.5,241.5 L279.9,239.6 L280,244.6 L279.8,242.1 L279.7,246.6 L280.4,243.8 L280.9,248 L281.3,246.8 L281.5,250.7 L280.4,248.3 L280.6,252.4 L281.8,250.5 L281.3,251.9 L280.4,248.4 L281.2,250.9 L281.5,245.8 L281.7,248.8 L281.3,244.7 L282.2,246.3 L281.3,242.4 L281.9,244.5 L282.4,240 L282.3,241.8 L282.1,238.2 L282.7,239.3 L282.5,236.2 L281.9,238 L283.3,233.6 L283.6,235.9 L283,231.4 L282.1,233.1 L283.8,229.7 L284.6,231.4 L283.7,228.1 L285.2,229.9 L284.3,226.4 L285.3,227.5 L286.2,224.5 L286,228.6 L285.3,226.1 L286,230.3 L285.6,227.9 L285.4,232.5 L285,230.4 L286.8,234.4 L286.4,232.8 L285.9,236.5 L286.8,234.9 L285.4,238.8 L286.4,236.7 L286.3,240.7 L286.8,239.2 L286,242.7 L285.7,241.4 L286.9,245 L286.6,243.5 L286.3,247.5 L287.6,245.7 L287.2,249.9 L287,247 L286.4,251.9 L286.6,249.9 L286.8,253.2 L288.2,252.1 L287.8,256.4 L287.8,253.8 L288,258.9 L289.5,256.5 L289.7,258.9 L289.8,254.6 L288.9,256.2 L289,252.2 L289.8,254.1 L289.4,250.5 L289.2,251.7 L289.5,248 L289.7,250.5 L289.6,246.3 L290.5,247.9 L289.2,243.9 L290.2,245.7 L289.4,242.3 L290.1,243.7 L290.6,240.1 L290.3,241.3 L289.6,238.1 L290.5,239.9 L290.2,235.2 L291,238 L290.8,233.5 L290.5,237.9 L290.3,235.9 L291.7,240.2 L291.2,237.4 L290.2,242.2 L291.3,240.1 L290.9,244.2 L292.1,241.8 L290.6,246.3 L291.3,244.5 L290.9,248.4 L291.4,246.5 L291.9,250.9 L291.6,248.4 L292.3,250.8 L292.7,246.7 L292.8,247.9 L292.2,244 L293,246.1 L292.7,241.9 L291.6,244.4 L293.1,240.5 L292.2,242 L293.4,237.4 L292.1,239.8 L292,236.4 L292.2,238.3 L293.5,234.1 L293.1,235.9 L292.8,231.2 L292.2,233.4 L292.3,229.1 L293.6,231.5 L292.4,229.1 L293.8,234 L294.1,231.4 L293.4,236 L292.8,233.3 L293.2,237.7 L294.3,236.3 L293.4,240.2 L293.6,237.4 L294.3,241.6 L294,240.1 L294.3,244.3 L294.1,242.5 L294.9,245.7 L294.5,243.7 L294.3,247.7 L294.5,246.6 L293.9,249.9 L294,248.2 L295.1,252.3 L295.6,250.8 L294.5,254.2 L295,252.2 L294.6,256.4 L295.1,252.8 L294.9,255.1 L295.2,251 L295.9,253 L296.9,250.8 L297.3,255.3 L296.4,253.7 L296.2,257.7 L296.8,255.3 L296.8,259.1 L296.7,257.5 L297.3,261.2 L296.7,259.7 L296.7,263.3 L297.9,260.9 L297.6,265.5 L298.4,263.3 L298.1,267 L298.5,265.1 L297.9,269.7 L297.9,267.9 L298.2,271.6 L298.3,269.8 L299.4,273.8 L298.2,272.1 L299,276.2 L299,273.5 L299.5,278 L298,275.8 L298.6,279.9 L298.2,277.7 L299.2,281.7 L299.1,280.1 L299.2,284 L299.7,282 L298.1,285.6 L299.3,284.5 L299.5,288.2 L298.7,286.3 L299.7,290.3 L298.9,288.3 L299.2,292.3 L299.5,290.4 L298.8,294 L299.1,292.8 L298.7,296.1 L299,294 L299.3,298.3 L299.3,296.6 L298.5,301 L299.4,298.1 L299.6,302.4 L300.3,301.2 L298.9,304.4 L298.9,303.2 L300.2,306.5 L299.5,305.3 L299.2,308.5 L299.4,307.2 L300,311.6 L299.1,309.1 L299.9,313.7 L298.9,310.9 L299.6,315.2 L300.2,313 L299.6,317.6 L300,315.6 L299.3,319 L300.5,316.9 L299.3,321.5 L299.2,319.9 L300.3,323.6 L299.9,319.5 L300,321.3 L299.8,316.9 L299.5,319.5 L299.7,315.5 L299.6,317 L300.7,313.9 L300.4,315.5 L300.7,311.7 L300.5,313.1 L301.3,308.8 L300.9,311.6 L300.7,306.6 L301.3,309.7 L300.4,304.9 L301.3,307.4 L301.8,303.4 L300.5,305.2 L300.7,300.5 L302,303.1 L301.9,298.9 L302.2,301.1 L301,296.4 L301.1,298.6 L302.1,294.8 L302.4,296.6 L302.5,292.5 L302.1,294.4 L302.4,291 L301.3,292.7 L302.8,289 L302,291.3 L302.5,286.9 L301.9,288.8 L302.4,284.5 L302.6,286.4 L303.1,282.3 L302.5,284.3 L302.5,280.2 L302.2,282.4 L303,278.3 L303.3,280.5 L303.2,276.9 L302.1,278.8 L302.5,274.1 L302.7,276.3 L304,273.6 L304.6,275.4 L303.3,272.3 L303.8,274.4 L304.8,271.1 L304.6,274.4 L304.9,270.8 L305.5,272.3 L307,269.8 L305.8,272.1 L306.7,268.9 L307.2,270.1 L306.7,266.4 L307.2,268.2 L307.9,263.7 L308.4,266.4 L308.1,262.3 L308.3,264.6 L309.7,259.8 L309,262.4 L309,257.7 L310.5,259.7 L309.1,255.4 L310.2,258.3 L311,253.6 L309.9,255.6 L310.6,251.4 L311.5,253.5 L310.7,249.4 L312.2,251.2 L311.5,248.1 L311.9,249.1 L312.1,246 L311.7,248.1 L312.1,243 L313.4,245.3 L313.1,243.3 L313.3,246.9 L313.4,244.3 L314.4,247.8 L315.6,246 L315.3,249.7 L315.9,246.9 L315.7,250.6 L316.6,248.8 L316.6,252.4 L316.8,249.6 L317.5,253.6 L317.2,250.8 L318.5,254.8 L317.7,251.7 L318.3,256.1 L318.1,253.3 L319.4,257.7 L319.2,255.4 L319.7,258.4 L320.4,254.7 L320.7,256.9 L319.4,251.8 L319.6,254.1 L319.7,250 L321.4,252.1 L320.8,247.7 L321.3,250 L320.8,245.7 L321.6,248.2 L321.2,244.6 L321,246.5 L320.4,242.4 L321.5,243.5 L320.9,239.7 L321,242 L322.4,237.9 L322.1,239.4 L321.9,235.8 L321.9,237.9 L321.3,233.7 L321.9,236 L321.8,231.3 L322.3,234.1 L322.5,229.9 L322.4,231.4 L322.7,227.8 L322.3,230.2 L323.7,225.5 L323,227.9 L323.2,223.6 L323.4,227.2 L322.9,224.2 L323.3,227.5 L323.5,224.7 L324.1,227.8 L326,225.6 L325.2,229 L325.3,226.2 L326,229.4 L326,226.8 L326.1,229.6 L327,227 L327.2,230.5 L328.4,227.9 L328.6,231.3 L329.4,228 L329.2,231.8 L329.1,228.4 L329.1,232.1 L329.3,229.5 L330.8,233.7 L329.3,231.1 L329.5,235.3 L330.3,234.2 L331,237.9 L331.4,235.5 L330.5,239.4 L330.4,237.6 L331.4,241.4 L331,239.6 L330.5,244.1 L330.7,242 L330.7,246.4 L330.5,244.1 L331.6,248 L331,246 L331.5,250.1 L331.6,248.4 L332.1,251.9 L332.4,250.3 L332.6,253.9 L332.3,251.6 L331.8,256.6 L332.3,254.8 L332.5,258.2 L331.7,255.9 L332.9,260.9 L332,258.5 L332.9,262.2 L332.1,260.6 L332.8,264.5 L332.9,262.6 L333.4,266.5 L333.3,264 L334.7,268.1 L334.9,265 L334.7,269.7 L335.6,267.2 L335.9,270.9 L335.9,269 L336.6,272.2 L336.4,270.1 L337.4,274.5 L337.9,271.5 L337.2,275.5 L338.2,273.4 L339,276.8 L338.7,274.2 L338.5,278.4 L340,276 L339.4,280.8 L339.9,279.1 L340.7,283.1 L341,281 L340.6,285.1 L341.4,282.3 L340.2,287 L341,285.2 L341.5,288.4 L341.4,286.9 L341.8,290.7 L342.2,288.9 L341.9,292.7 L342.4,291.6 L343,295.6 L342.8,292.6 L343.3,297.1 L344.3,295.2 L344,299.7 L343.5,297.3 L344.1,301.3 L344.8,299.1 L344.6,303.9 L346.1,301 L345.7,305.8 L344.9,303.3 L345.9,307.3 L346.4,305.7 L346.9,309.1 L345.9,307.6 L345.7,311.2 L346.8,309.9 L345.9,314 L347.3,311.6 L347,315.5 L347.6,313.4 L347.6,317.9 L346.6,315.9 L347,320.1 L346.7,318.3 L347.5,321.6 L346.9,319.9 L347.5,324.4 L348.6,322 L348.1,326 L348.1,324.3 L348.7,328.2 L347.6,326.3 L348.8,329.7 L349.2,328 L348.4,332.1 L348.1,330.5 L349,334.5 L348.7,332.5 L348.7,336 L348.7,334.2 L348.1,339 L348.2,336.6 L348.8,340.6 L348.9,338.5 L348.6,343.1 L350.3,340.2 L350,344.3 L349.9,342.6 L350.3,346.7 L350.4,345 L349.2,348.5 L351,347 L349.5,350.5 L351.1,348.6 L350.3,352.5 L351,351.6 L351,355 L350.4,353.6 L351.1,357.6 L350.8,354.7 L350.4,359 L351,357.5 L352.1,361.3 L350.4,359.1 L350.8,363.2 L352.1,361.5 L351.2,365.8 L351.3,362.9 L351,367 L352.8,365.3 L352.1,369.9 L351.8,365 L351.9,367.9 L352.4,362.9 L353.4,365.7 L352.1,361.3 L353.6,363.2 L352.5,359.2 L352.5,360.7 L353.4,357.7 L353.2,358.9 L354.1,355.2 L353.6,357.2 L353.2,353 L353.4,354.8 L354.7,350.4 L355.1,353.2 L353.6,348.9 L354.3,350.7 L354.6,346.5 L353.9,348.8 L354.1,344.4 L355.9,346.8 L355.7,342 L356.1,344.3 L355.7,340.5 L355.7,342.4 L354.9,338.6 L355.1,340.8 L356.6,336.8 L356.5,338.8 L356.6,334.1 L356.5,336.1 L356.3,332.6 L356.4,333.8 L356.8,330.2 L356.7,332.7 L356.7,328.1 L357.9,329.8 L356.6,325.8 L357.3,328.3 L357.4,324 L357.9,326 L357.4,322.3 L358.6,323.5 L359.1,319.3 L358.5,321.2 L358.1,318.2 L358.9,319.7 L359.3,315.7 L359.7,318 L359.5,313.4 L360,315.4 L358.5,310.9 L358.7,313.2 L359.4,308.9 L359.9,311.3 L360.7,306.8 L360.2,309.1 L359.6,304.7 L360.6,307.6 L360.2,302.5 L359.7,304.8 L361.4,300.6 L360.1,302.8 L360.3,298.7 L361.3,301 L360.9,297.3 L360.9,299.3 L361.7,294.6 L361.6,296.6 L360.7,293 L361.3,294.1 L361.5,290.8 L361.7,292.5 L362.5,288.5 L362.9,292.6 L362.1,290.6 L362.9,294.2 L363.2,292.1 L363.4,296.9 L363.8,295.3 L363.5,298.7 L363,296.9 L363,301.1 L363.3,299 L363.5,303.5 L363.9,300.9 L363.7,304.8 L364.6,303.6 L365.7,307.3 L364.4,305.2 L364.7,309.1 L366.1,307.5 L366.4,311.3 L366.2,308.7 L365.6,313.6 L367.1,311.4 L366.1,315.8 L366.7,314 L367.7,317.1 L367.6,315.9 L367.3,319.7 L367.1,317.6 L368.5,321.5 L368,319.2 L367.4,324.3 L368.9,321.7 L367.5,325.7 L368,324 L368.1,328.6 L369.7,326.6 L369.6,330.1 L369.2,328.3 L369.1,332.3 L369.7,330.5 L369.2,334.3 L369.3,332.3 L370.1,336.8 L370.5,332.3 L370.1,334.3 L370.1,330 L371.9,332.6 L371.4,328.5 L371.8,330.6 L372,326.1 L371.5,327.9 L372.6,323.7 L372.4,326.1 L372.8,322.5 L373,324.3 L373.4,320 L374,322.1 L374.4,317.7 L375.2,320 L374.9,315.3 L374.9,317.8 L374.6,313.6 L375.8,316.2 L375.1,311.9 L376.6,314 L376.7,309.9 L377.5,311.6 L377.6,307.1 L377.7,311.1 L378,309.1 L378.6,312.7 L378.7,309.6 L379.3,313.6 L378.6,310.5 L380.1,314.2 L380.1,312.5 L379.9,314 L380.7,309.8 L381.8,312.6 L381.1,308.5 L381,310.4 L381.9,306.3 L382.3,308.6 L383.3,304.5 L383.1,306.7 L383,302.4 L383.1,304.4 L384.1,300.6 L384.3,303.1 L384.5,298.4 L385.7,300.5 L385.2,296.5 L386.1,299 L386.9,295.3 L386.1,297.5 L386.7,292.8 L386.9,296.6 L388.2,294.8 L387.5,298.7 L388.7,297.4 L389,300.9 L389.7,299.6 L388.9,303 L389.7,301 L389.1,305.4 L390.9,303.5 L390.8,307.7 L390.3,305 L391.5,309.5 L390.8,305.8 L392.3,307.4 L392,303.3 L391.4,304.8 L391.9,300.6 L393.8,302.9 L393.5,298.8 L394.5,301.4 L393.3,296.2 L394.5,298.5 L395.1,295.1 L395.5,296.9 L394.5,292.6 L396.5,294.8 L396.2,291.5 L395.6,295.8 L397.4,294.2 L396.8,297.1 L397.7,294.7 L397.9,299.5 L397.5,297 L399.5,301.3 L398.5,298.9 L398.6,301 L398.4,296.7 L398.8,298.4 L399.7,294.3 L399.8,296.3 L399.9,292.5 L399.6,294.2 L399.3,290.6 L400.2,292.1 L400.4,288 L398.9,290.7 L400.3,286 L399.3,288.5 L399.4,283.6 L400.6,285.6 L399.7,281.4 L400.5,283.7 L399.9,279.5 L399.2,281.6 L400.6,278 L400.5,279.8 L400.3,275.6 L400.8,277.4 L400.6,273.2 L401.3,275.3 L400.6,272.1 L401.5,273.5 L401.4,269.8 L401.5,271.2 L400.8,267.5 L400.7,269.4 L401.5,266 L401.5,268 L401.6,263.3 L401.2,267.4 L401.3,265.7 L402.1,268.9 L401.6,267.1 L403.7,271.5 L402.4,269.7 L402.8,273.3 L404.4,271.2 L403.5,275.6 L405.1,273.4 L405.7,277.5 L404.8,272.9 L404.4,274.7 L404.9,270.3 L406.1,272.5 L406.2,269.1 L405.2,270.6 L406.7,266.1 L405.9,268.3 L406.3,264.6 L407,266.5 L406.3,262.6 L407,263.9 L406.5,260.6 L406.7,261.7 L407.5,258 L407.2,260.7 L407.4,256.1 L408.2,258.2 L408.8,254.5 L407.5,255.5 L407.7,252 L408.6,254.2 L409.3,249.6 L408.9,251.7 L408.5,248 L408.9,249.2 L409.6,245.8 L410.3,247.3 L410.3,245.8 L409.7,249.5 L410.6,246.9 L410.3,251 L410.5,249.1 L410.8,254 L411.3,251 L412,256 L412.5,253.6 L412,257.4 L413.2,255 L413.6,259.9 L413.9,257.3 L414.5,261.1 L414.8,259.2 L414.8,263.2 L414.7,261.6 L416.5,265.5 L415.5,263.5 L416.7,265.9 L415.9,261.4 L416.1,263.1 L417.2,259.6 L416.9,261.6 L417.4,256.8 L417.5,258.7 L417.9,254.7 L418.1,256.7 L419.3,253 L420.1,254.7 L418.9,250.6 L419.9,252.8 L419.8,248.2 L421.2,250.4 L420.7,247 L422.1,248.2 L421.4,244.8 L421.7,248.7 L421.3,246.5 L422.2,250.4 L422.8,248.9 L422.2,253.4 L421.8,251.4 L421.8,254.5 L421.6,252.5 L422.6,256.7 L422.3,255.2 L421.9,258.9 L421.8,256.7 L422.7,261.4 L423.4,259.3 L422.9,263.7 L423.1,261.7 L423.8,264.8 L423.8,263.3 L424.1,266.3 L424.4,264.5 L425.1,267.8 L424.4,265.6 L425.3,269.7 L426,267.6 L426.3,270.3 L427.2,268.4 L427,272.1 L426.4,270.1 L427.2,273.2 L428.8,271.6 L428.3,274.7 L429.2,273.1 L429.8,276 L428.9,274.1 L429.3,277.3 L430.5,276 L430,277.1 L429.9,273.8 L431.2,275.2 L431.4,272 L432.7,274.5 L432.4,269.8 L431.7,272.2 L433.6,267.8 L433.7,270.6 L434.4,266.3 L433.4,268.7 L433.6,266.1 L433.6,271 L434.5,268.4 L433.8,272.7 L434.5,270.1 L434.9,275.1 L435.5,272.9 L434.9,276.9 L434.7,275.1 L434.6,278.5 L435.8,277.2 L435.7,280.9 L434.8,279.6 L435.2,282.8 L435.1,280.8 L436.2,284.7 L435.9,282.8 L436.2,287.7 L436.1,285.3 L434.9,289 L436.4,287.5 L435.9,291.7 L435.8,289.8 L435.9,291.9 L436.5,287 L437.2,289.1 L437,285.2 L437.5,287.2 L437.2,283.1 L438.5,284.7 L438.2,280.5 L438.9,282.9 L438.2,278.5 L439.7,280.2 L438.9,276 L439.7,278.8 L439.3,273.9 L440.6,276 L441,272.2 L440.6,276.4 L440.6,273.5 L442.4,277.4 L441.6,274 L441.8,278 L443.4,276.1 L442.9,279.2 L443.6,277 L443.5,280.4 L444.2,277.8 L443.9,281.1 L445.5,279 L445.5,283.4 L444.5,281.7 L446.3,285.4 L445.4,283.1 L445.3,288.1 L446.4,285.9 L446.6,289.7 L445.9,288.1 L445.9,291.8 L446.5,289.3 L446.5,294 L447.6,291.6 L447.4,296.5 L447.6,293.7 L447.8,297.8 L447.9,295.9 L448.2,300.2 L447.1,298.2 L448.7,302.8 L448.5,300.4 L448,304.2 L449.2,303.1 L448.7,306.3 L448.9,304 L448.4,308.9 L449.8,307.1 L449,310.4 L449.1,308.8 L450.5,313.3 L450.2,310.8 L450.4,314.6 L450.5,313 L450.6,316.8 L450.9,314.8 L451.2,318.8 L450.9,317 L451.4,320.5 L451.8,318.8 L451.2,323.5 L452.2,320.6 L451.9,325.6 L451.8,323.1 L452.4,326.9 L452.5,324.6 L451.9,329.5 L452.3,327.2 L453.4,331.3 L453.9,328.9 L452.6,333 L454,331.1 L453.8,334.9 L453.4,333.6 L454.2,337.7 L453.9,335.3 L454.8,339.4 L455.4,335.7 L455.5,337.1 L455.8,333.4 L455.2,335.7 L455.6,330.9 L456.1,332.7 L456,329.4 L455.9,330.6 L457,327 L457.4,328.9 L456.5,324.5 L458.1,327.3 L457.8,323.1 L458.9,324.3 L458.5,321.2 L458.3,323.2 L459.6,318.6 L458.4,320.6 L460.2,316.1 L458.9,318.2 L460,315.2 L460.2,317 L460.3,312.8 L461.9,315.1 L461.5,311.2 L461.2,313.7 L462.3,309.5 L462.7,312.6 L463.3,308.7 L463.7,310.5 L463.7,306.7 L464.1,308.8 L464.2,304.7 L464.1,307.2 L464.8,304.1 L464.6,307.6 L466.6,305.6 L465.7,309.2 L466.1,307.3 L466.5,312.3 L467.4,310.4 L468.4,314 L467.2,311.6 L468.6,315.5 L468.5,313.8 L468.5,317.7 L470,315.1 L469.2,319.7 L470.3,317.3 L471,321.3 L471.3,318 L471.1,321.9 L472.2,320 L472.7,324.6 L472.4,322.3 L473.2,325.2 L472.6,323.5 L472.5,327.1 L473.9,325.5 L474.1,328.6 L473.5,326.2 L474,330 L475,326.4 L475.2,328.9 L475,324.2 L476.2,326 L476.1,322.4 L477,323.7 L476,319.8 L476.1,322.3 L476.8,317.8 L477.6,320.2 L478.5,316.2 L477.2,317.6 L477.4,313.9 L479.4,315.4 L478.6,312.2 L479.5,313.5 L479.5,309 L479.3,311.7 L479.6,308.6 L481.3,312.7 L481.5,310.8 L480.3,314 L481.1,312.1 L481.4,315.1 L481.8,312.8 L482,316.8 L483.4,314.4 L482.4,317.8 L482.8,315.9 L484.2,319.6 L484.1,317.5 L484.7,321.2 L484.8,318.2 L485.3,321.9 L486.4,320.1 L485.8,323.8 L485.6,320.4 L486.7,324.5 L487.7,321.7 L486.7,325.6 L486.9,323.7 L488.1,327 L488.6,323.9 L487.9,325.5 L488.7,321.9 L489.7,324.1 L488.9,320.6 L489.3,322.7 L491.3,318.1 L490.7,321.1 L491.3,317.4 L490.8,319.5 L491.9,315.1 L492,317.3 L492.1,313.7 L492.9,316 L493.2,311.8 L492.9,314.8 L493.5,310.6 L493.9,312.3 L493.9,309.7 L495.1,311 L495.7,307.6 L496.4,309.7 L495.7,306 L497,309 L497.6,304.5 L496.3,307.2 L497.8,303 L497.8,305.6 L497.4,302.4 L497.8,304.4 L498.3,300.3 L498.6,303.2 L499.2,299.5 L499.4,301.5 L500.8,297.8 L500.6,299.9 L500.7,296.1 L500.6,299.7 L502.2,296.4 L501.7,299.2 L502.7,296.3 L502.1,299.3 L503.6,297 L504.1,299.7 L503.2,296 L503.8,299.7 L504.4,296.9 L504.5,299.1 L505.5,296 L504.7,299.2 L505.7,296.4 L506,299.7 L507.4,296.9 L506.3,299.5 L507.5,296.2 L507.6,300 L508.8,296 L508,300.1 L508.7,296.1 L509.5,299 L510.2,296.1 L509.9,299.8 L509.7,296.4 L510.1,299.3 L510.5,296.6 L511.6,299.5 L510.7,296.2 L512.1,300 L512.2,298.1 L511.5,302.1 L512.7,299.7 L513.3,303.2 L513.4,302 L512.2,306.2 L513.9,304.3 L513.8,308.4 L514.4,305.8 L514.5,310.3 L514.2,307.4 L513.8,311.7 L514.4,309.6 L514.1,313.9 L515,311.5 L515.3,314.6 L514.8,310.1 L515.1,311.6 L516.7,308.1 L516.2,309.9 L515.6,305.3 L517,308.3 L516.3,303.6 L517.8,306 L517.3,301.3 L518.5,303.9 L518.5,300 L518.4,301.8 L518,297.3 L518.1,299.8 L518.8,296 L518.9,297.8 L519.3,293.3 L519.7,294.9 L520,291.3 L520.8,294.1 L519.8,291.1 L521.4,294.1 L520.8,291.3 L521.4,294.6 L522.3,291.5 L522.8,294.5 L522.6,291.6 L523.4,295.4 L523.8,292.1 L523,295.9 L523.6,292.6 L524.1,295.2 L524.3,292.8 L525.6,295.8 L525.5,292.6 L526,295.2 L526.3,291.1 L527.1,292.6 L526.1,288.3 L526.7,291 L527.1,287 L527.1,288.5 L527.4,284.6 L526.9,286.2 L528.4,282.4 L527.8,284.7 L528.1,279.9 L529.6,282.4 L528.9,277.7 L529.5,279.7 L529.6,275.7 L530.2,278.4 L529.6,273.5 L530.7,277.9 L530.9,276.1 L530.1,280.2 L531.4,277.8 L531.5,282.7 L531.7,279.6 L531.3,284 L531.3,282.3 L531.6,286.2 L531.2,284.2 L532.4,288.1 L532,285.7 L533.1,290.7 L533.2,288.8 L532.6,292.7 L533.7,290.8 L533.6,294.7 L534.2,292.9 L534.3,296.6 L534.8,295 L534.8,297.7 L535.3,294.2 L534.9,297.2 L535.5,293.4 L535.6,296 L535.4,292.9 L537.2,295.9 L536.3,291.9 L537.9,294.5 L537.2,291.5 L537.5,294.5 L538.7,291.1 L539.2,294.3 L538.4,290.2 L538.6,293.3 L538.8,289.9 L540.4,292.7 L540.2,290.9 L541.3,294.8 L540.5,292.3 L541.8,297 L541.6,294.6 L541.5,298.7 L542.8,297.1 L542.5,300.6 L542.6,298.9 L542.7,303.4 L543.7,301.4 L544,306 L545.4,303.5 L545.5,307.3 L545.9,304.5 L545.4,309 L545.7,306.4 L545.9,310.9 L547.5,308.7 L547.4,311.6 L546.6,310.4 L547.8,314.1 L547.5,311 L548.4,315 L549.2,312.7 L549.2,316.9 L550.3,314.2 L549.3,318.7 L551,316.1 L549.6,321.1 L550.7,318.1 L550.3,323.3 L551.1,321 L550.8,324.3 L551.3,322.7 L550.7,326.9 L551.9,325.2 L551.2,328.7 L552,327.3 L552.4,331.2 L552.6,329.3 L551.6,332.8 L552.4,331.6 L551.4,335.6 L552.8,332.8 L552.6,337 L552,334.9 L552,339.1 L553.3,337 L552.4,341.1 L553.8,339.8 L553.6,342.2 L552.9,338.2 L554.1,339.6 L555.3,336.1 L555.5,338.5 L554.7,334.7 L555.5,336.5 L556.6,332.9 L555.8,334.6 L556.9,330.7 L557,332.8 L557.4,329.2 L558,331.2 L557.5,327.1 L557.3,330.2 L559,325.5 L558.8,327.8 L558.9,324 L558.9,326.8 L560.6,322.5 L560.8,325 L561.3,320.2 L560.1,323.3 L561.9,318.5 L562,320.8 L562.2,317.2 L561.9,320.9 L563.3,319.1 L562.5,323.2 L563.1,320.7 L564.1,325 L563.7,322.7 L564.6,327.3 L564.9,325.5 L564.4,329.2 L565.1,326.7 L565.9,331 L567,328.9 L567.2,333.4 L567.4,330.7 L567.1,333.2 L567.3,328.8 L567.9,331.2 L568.7,327.9 L567.9,329.9 L568.5,325.4 L569.2,327.6 L569.3,323.5 L569.3,325.4 L571,321.5 L570.9,323.6 L570.3,320.3 L572.3,322.6 L571.6,319.5 L572.1,323.8 L572.4,320.7 L572,325.2 L573,321.9 L573,325.8 L574.1,323.9 L573.7,327.3 L574.4,325 L575,329.3 L574.7,326.6 L574.7,329.9 L575.1,328.6 L576.9,332.4 L576.7,329.8 L576.7,333.6 L577.5,331 L577.9,334.7 L578.8,332.7 L578.8,335.6 L579.4,333.4 L579.8,337.1 L579.7,334.2 L579.6,336.8 L579.9,332.6 L579.6,335.6 L580.1,331.8 L581.3,335 L581.4,331.5 L580.9,333.8 L581.9,330.5 L582.8,332.7 L582.3,330 L583.7,332.7 L582.9,328.9 L583.3,331.1 L584.3,327.3 L584,330.1 L585.6,327.3 L586,330 L586.1,326.3 L586,328.9 L586.3,325.4 L586.9,328 L587.3,324.5 L586.6,327.2 L588.1,324.6 L588.9,327.5 L589,325.5 L588.3,327.7 L589.5,324.8 L589.2,328.3 L589.1,326.1 L589.9,328.5 L590.7,326.2 L590.1,329.6 L591.1,326.6 L592.3,329.5 L592.5,327.3 L593.1,329.7 L593.3,326.7 L592.7,330.6 L593.6,327.6 L593.3,331.8 L593.9,329.5 L594.7,333 L594.7,330.1 L595.2,334.1 L595.7,330.6 L596.3,334 L596.5,331.4 L596.8,335.2 L597,332.4 L597.1,336.3 L598.4,333.7 L597.7,336.2 L597.5,333 L599.3,335.1 L599.3,330.5 L599.1,333.9 L600.1,330.1 L600,332.1 L600.5,328.3 L601.6,330.3 L600.9,326.5 L601.1,328.7 L602.1,325.7 L601.5,327.1 L602.2,323.7 L602.2,326.4 L602.5,322.6 L604,324.3 L603.5,320.6 L603.4,322.7 L604.6,318.7 L604.8,321.8 L605.6,319.2 L605.9,322.4 L606.8,319.2 L606.5,322.8 L607.4,319.5 L607.8,323.7 L607.3,319.9 L608,324.2 L608.5,320.7 L608.9,324.2 L609.2,321 L608.6,324.9 L609.7,321.8 L610.4,325.2 L609.5,322.8 L611.4,326.2 L611.8,323 L612.1,326.3 L611.8,323.4 L611.8,326.6 L611.7,324.2 L612.3,327.4 L613.7,325.2 L612.5,329.7 L613.6,327.9 L613.3,331.2 L614.6,329.1 L614.3,334.1 L614.4,332.2 L615.6,335.6 L615.1,333.8 L616.5,337.4 L615.2,335.7 L616.7,339.3 L616.5,337.3 L616.7,341.5 L616.7,339.6 L617.2,344 L617.2,341.5 L618,346.3 L617.8,343.9 L617.6,348.2 L618.8,346.4 L618.6,350.1 L619.8,347.3 L620.2,352.2 L620,350 L620.6,353.1 L621,351.1 L622.1,355.6 L622,353 L621.6,356.4 L621.6,354.5 L622.9,358.3 L622.9,356.3 L623,360.5 L623.4,358.4 L624.2,361.8 L623.5,359.5 L625.2,363.1 L624.7,361 L625.5,365.7 L625.2,363.3 L625.4,367.9 L626,365 L626.7,368.9 L627.6,367.7 L626.4,372 L627.1,370 L627.2,373.8 L628.5,371.6 L628.4,375.4 L629.5,374.1 L628.4,378.1 L630.1,375.4 L630.6,380.2 L629.8,378.2 L630.5,381.3 L630.6,380.3 L631.5,383.4 L631.9,380.3 L631,383.7 L631.3,380.8 L631.6,383.4 L632.1,380.3 L633.6,383.3 L634.3,379.7 L634.5,382.8 L634.5,379.4 L635.4,383.2 L634.6,379.1 L635.2,382.9 L634.7,379.3 L636.2,382.8 L636.6,379.3 L636.5,382.2 L636.2,379.1 L638.1,381.5 L638,379.2 L637.4,381.1 L638.1,378.8 L637.7,381.9 L638.7,378.6 L638.7,380.7 L639.3,378 L639.3,381.1 L639.7,376.8 L640.2,379.4 L641.4,375.8 L642.1,377.9 L641.4,374 L642,376.7 L643,372.8 L643.4,374.6 L643.7,371.1 L643.2,373.5 L644.5,368.9 L644.2,371 L644.4,367.5 L644.8,369.7 L645.6,365.4 L646,368.5 L645.3,364.2 L646.1,366.1 L646.3,362.2 L648,364.8 L646.7,360.9 L647.1,363.1 L647.4,359.2 L648.1,361.3 L648.3,357.9 L649.6,360.3 L649,356.4 L650,358 L649.6,354 L650.8,356.4 L651.7,353.6 L651.5,356.9 L652.2,353.5 L651.4,357.3 L652.7,354 L653.3,357.1 L652.4,354.4 L653.1,358.4 L653.8,355.1 L653.8,357.8 L654.3,355.3 L654.2,358.4 L655.3,355.7 L655.7,358.6 L656.4,356.3 L657.1,359 L655.7,356.2 L657.7,359.5 L657.1,356.8 L657.8,360.3 L658.8,356.7 L657.4,360 L658.7,357.8 L658.4,360.9 L659.1,357.4 L660.6,361.7 L659.9,358.8 L660.4,362.6 L661.2,360.8 L660.6,365.3 L662,363.4 L661.6,367.5 L663,365.4 L662.6,368.9 L663.6,366.6 L662.9,371.1 L663.4,369.2 L664.5,372.6 L663.9,370.7 L664.7,374.9 L664.6,373.1 L665.5,377.4 L666.5,374.6 L666.2,378 L666.7,374.1 L667.4,377.9 L667.7,374.3 L667.4,377.2 L668.6,373.7 L667.6,377.5 L667.9,374 L668.1,376.3 L669.2,373.3 L669.1,376.2 L670.5,373.1 L671.1,376.7 L670,374.6 L670.2,378.7 L671.4,376.6 L671.7,380.9 L670.7,378.3 L670.9,383.1 L671.5,380.5 L671.5,384.7 L671.7,382.4 L671.1,387.2 L672.1,384.9 L671.7,388.9 L671.7,386.6 L671.5,390.7 L672.7,388.8 L671.7,393.1 L673.3,390.8 L673,395.4 L672.8,393 L673.9,397.6 L673.6,395.2 L674.1,399.5 L673,397.1 L673.9,401.9 L674.5,400.1 L673.7,403.8 L675.6,401.7 L675.7,405.7 L675.5,403.5 L675.3,407.8 L676.7,406.2 L675.5,409.9 L676.1,407.8 L676.5,412.3 L676.4,409.8 L678,413.9 L677.5,411.7 L676.9,415.9 L677.6,414.4 L678.1,415.7 L678.1,412.7 L678.5,414 L678.8,410 L678.3,412.4 L679.6,408.5 L679.6,410.5 L680.7,405.5 L679.5,408.3 L680.4,403.6 L680.8,406.2 L680.7,402.2 L681.6,403.3 L680.9,399.3 L681.1,401.7 L682.5,397.2 L682.2,399.9 L681.8,395.4 L683,397.1 L682.5,393.5 L682.6,396.1 L684.1,392.1 L683.7,393.6 L683.3,389.2 L684.4,391.3 L684.6,388 L685.5,390.3 L685.5,386.2 L686.6,388.1 L686.2,383.5 L686.2,386.2 L687.9,382.2 L687.2,383.7 L687.1,380.3 L687.9,381.3 L688.6,378.2 L688.7,380.3 L689.3,376.1 L688.2,377.9 L688.2,373.6 L688.5,375.7 L689.3,371.4 L689.9,373.3 L689.4,369.5 L689.1,370.9 L689.5,367.3 L689.3,369.6 L690.9,364.5 L691.1,366.5 L691,362.5 L691.5,365.2 L691.7,360.6 L690.8,362.6 L691.5,358.5 L691.7,360.1 L691.2,356.1 L692.1,359.3 L692.2,356.6 L692.9,359.4 L692.4,356.2 L693,359.1 L692.7,355.2 L694.8,358.9 L694.5,355.5 L695.2,357.7 L694.2,355 L694.8,357.7 L694.8,354.5 L696.6,357.8 L695.4,354.3 L697,357.3 L696.4,354.5 L696.9,356.8 L698.5,353.7 L698,356.7 L697.6,353.7 L698.4,356.9 L698.4,353.5 L699.2,357.7 L698.9,355.8 L699.8,359.9 L699.5,357.6 L699,362.3 L698.8,359.8 L698.9,363.3 L700.3,361.8 L699.7,366.3 L699.1,364.2 L700.9,368.4 L700.2,365.8 L701.1,370 L699.7,367.8 L700.6,372.7 L700.9,370.6 L700,372.4 L701.1,368.4 L701.8,370 L702.3,366.6 L701.1,367.9 L701.7,363.5 L702.8,366.5 L702.4,361.5 L703.9,364.3 L703.8,360.2 L704.3,361.3 L703.6,358 L703.5,360.2 L704.7,355.1 L704.5,357.4 L705.6,352.9 L705.8,356.7 L706.3,352.7 L706.8,356.1 L705.5,352.8 L706.5,354.9 L708,351.5 L707.5,354.4 L707.1,351.9 L707.6,353.9 L709.2,351.1 L708.9,353.8 L710.1,350.1 L709.2,353.1 L709.6,350.2 L710.8,352.7 L710.4,349.2 L710.3,352.2 L711.9,348.6 L711.7,351.8 L712.5,348.5 L712.1,351.9 L712.1,349.3 L713.5,352.2 L712.8,349.4 L713.2,352.3 L713.4,349.4 L714.2,352.5 L715.5,349.2 L715.7,351.8 L715,349.2 L716,352.3 L716.6,349 L715.8,351 L716.2,347.8 L718,351 L718,347.1 L717.5,350.3 L718.5,345.8 L718.8,348.7 L718.4,345.2 L718.7,348.2 L719.6,345 L720.8,348 L719.7,344.6 L720.8,348.4 L721.7,346.6 L721.3,349.8 L721.8,348 L722.9,351 L722.2,349.1 L723.4,352.7 L723.5,350.7 L723.9,354.1 L724.5,351.2 L724,355.4 L724.9,352.5 L724.3,356.7 L725.8,354.7 L726.4,358.1 L726.2,356.1 L726.2,359.3 L726.1,356.3 L727.1,360.4 L727.9,357.7 L727.3,361.3 L727.6,359.8 L728.1,362.1 L727.8,357.5 L728.1,359.2 L729.8,355.2 L730.1,357.1 L730,353.6 L730.1,354.8 L730.7,351.1 L730.7,353.3 L730.9,349.5 L731.1,351.5 L731.8,346.9 L732.5,349.1 L731.6,344.7 L733,346.6 L732.2,343.1 L733.8,344.5 L733.7,341.2 L732.7,343 L733.3,338.6 L734.4,340.3 L734.6,337 L734,338 L735.4,336.1 L735.4,340.2 L736.6,338.4 L736.7,342.7 L737,339.6 L736.7,344.1 L737.9,342.2 L737.6,346 L738.4,343.6 L739.1,348 L739.5,345 L739,350 L739.5,347.7 L739.9,351.3 L739.6,348.8 L740.7,352.3 L740.6,348.4 L741.2,351.4 L741.8,348.2 L742.2,350 L741.7,347.5 L742.9,349.2 L743.6,346.5 L742.6,349.2 L744.3,345.4 L743.6,348.2 L744.4,345.2 L744.1,347.8 L744.1,344.1 L745.7,347.4 L745.3,343.4 L745.8,346.4 L746,343 L747.1,345.3 L747.7,342.2 L746.8,344.7 L747,341.2 L747.7,343.4 L748.2,339.9 L748.5,342.1 L748.9,338.9 L749.8,341.1 L749.4,337.7 L750.5,340.7 L750.5,336.9 L750.8,338.4 L751.3,335 L751.1,337.4 L752.2,334.5 L752.1,336.8 L753.2,333.6 L752.2,336.6 L753.5,333.7 L753.4,336.5 L754.9,333.4 L755.1,336.2 L754.6,333 L755,336.7 L755.2,332.7 L756.5,335.6 L755.8,333.2 L756.5,336.4 L757,332.7 L756.7,335.5 L756.6,332.1 L757,335.7 L757.4,332.3 L759.1,335.4 L759.6,332.6 L760,335.7 L760.4,332.2 L759.9,335.5 L760.5,331.6 L759.7,334.5 L760.4,332 L761.5,334.3 L762,330.9 L761.9,334 L762.6,330.8 L762.3,334.8 L763.7,331.1 L763,334.1 L763.9,331.3 L764.8,334.1 L764.5,331.4 L764,336 L764.6,333.8 L765.9,337.6 L764.6,336.5 L765.7,340.6 L766.6,338.1 L765.9,342.5 L766.2,340.9 L766,344.4 L767.1,342.3 L767.6,346.1 L766.9,345 L767.6,349.1 L768.3,346.7 L767.4,350.7 L768.7,349.2 L768.6,352.8 L768.6,351 L769.3,355.5 L770.1,353.1 L770.5,357.3 L770.3,355 L771.1,357.8 L770.5,354 L771,356.7 L772,353.2 L771,356 L772.3,352.6 L773.4,354.5 L772.7,351.2 L773.1,354.1 L774.2,350.4 L774.2,353.6 L773.7,349.6 L773.8,352 L775.4,348.5 L776.1,351.1 L775.7,348.4 L775.2,350.7 L775.4,347 L777,348.2 L776.8,344.5 L776.8,346.3 L778.2,341.8 L777,344 L777.8,339.8 L779.1,342.6 L777.8,338.3 L779.7,340.3 L779.9,336.1 L778.7,338 L778.9,334 L779.7,335.3 L780.1,331.3 L780.4,333.9 L780.9,329.6 L781.2,332.4 L782.4,329.4 L781.6,332.3 L783.3,328.3 L782.1,331.6 L782.3,328.6 L783,331 L783.1,328.4 L785.1,331.1 L784.9,328 L784.6,331 L786,327.4 L784.9,330.2 L786.3,326.7 L786.8,330.4 L786,326.2 L786.9,329.6 L787.5,325.8 L787.6,328.8 L787.8,325.2 L788,327.1 L788.5,323.2 L789.1,326.1 L789.3,322.6 L789.6,325 L790.5,321.4 L790.9,324.4 L790.7,320.8 L791.4,322.6 L792,319 L792.4,321.5 L792.7,318.5 L791.9,321.4 L792.8,317.8 L793.2,321.1 L794.5,318.9 L794.6,321.7 L793.7,320.1 L795.1,323.5 L795.6,321.1 L795.7,324.4 L795.6,322 L796.9,325.2 L796.1,323.6 L797.1,326.2 L797.3,324.1 L797.5,327.4 L797.7,325.1 L798.6,329.2 L798.5,325.8 L798.2,330 L799.1,327.8 L799.8,331.1 L799.6,328 L800.7,331.6 L800.6,329.2 L801.8,332.4 L801.2,330.5 L802.7,334 L802.2,330.9 L802.5,333.8 L802.5,331.6 L804.3,334 L803.8,331.3 L803.5,334.2 L803.7,331.5 L804.2,335 L805.9,332.3 L806.2,335.2 L805.2,331.9 L806,334.9 L806.3,331.7 L806.7,335.3 L806.6,331.9 L807.3,335.3 L807.5,332.9 L807.7,337 L808.9,335.1 L809.3,339.2 L808.7,336 L809.8,340.7 L809.5,338.5 L811.2,341.5 L811.5,339.9 L811.8,343.8 L810.9,340.7 L811.9,345.4 L811.7,342.7 L812.5,346.2 L812.6,343.8 L812.8,348.7 L813.4,346.1 L814.2,349.9 L814.1,347.7 L815,350.9 L814.6,348.6 L815,352.3 L816.5,349.7 L815.3,352.7 L816.7,349.3 L817.6,352.9 L817.4,349.6 L816.6,353.6 L817.1,350.5 L817.5,353.7 L819.3,350.4 L818.1,353.1 L818.6,351 L819,354.4 L819.9,351.4 L821.1,354 L819.8,351.8 L820.7,354.6 L821.8,351.5 L822.5,354.9 L822.7,351.8 L822.1,354.6 L823.2,352.5 L822.8,353.9 L823,349.8 L823.4,351.5 L823.7,348.3 L824.3,349.4 L824.1,345.8 L824.1,347.3 L825,343.8 L825.6,345.5 L826.1,341.8 L826.3,344.2 L827.3,342.1 L826.2,345.5 L827.2,342.5 L826.9,344.8 L828,342.6 L828.3,346 L829.1,342.8 L829.1,346 L829.9,342.6 L830.5,346.6 L830.2,343.3 L830.9,346.8 L830.4,343.2 L831.7,346.8 L831,344.2 L832,346.7 L831.5,344.5 L832.9,347.6 L832.1,344.6 L832.7,347.6 L832.6,345.6 L834.1,349.5 L833.2,346.7 L834.7,350.4 L835.3,348.8 L835.4,351.8 L835.8,349.5 L836.7,353.8 L835.8,351.7 L837,355.4 L836.9,352.9 L837.3,356.3 L838.3,353.9 L837.4,357.5 L837.7,355.7 L838.8,359.8 L839.2,355.6 L839,358 L840.1,354.3 L840.8,355.8 L839.9,352.3 L841,354.3 L841.8,350.5 L841.3,352.6 L841.3,348.2 L842.9,350.1 L842.8,346.1 L842.9,349 L842.7,344.4 L843.1,346.4 L844.6,342.7 L845,344.7 L844.5,340.7 L844.7,343.5 L845.6,338.9 L846.4,341.1 L845.4,338.5 L846.6,342.1 L847.2,338.8 L847.2,342.2 L846.9,339.4 L847.4,343 L847.2,339.9 L847.8,343.4 L849,340.9 L849.2,343.9 L850.1,340.8 L849.9,343.7 L849.3,341.5 L851,344.7 L850.1,341.6 L850.6,344.4 L851.5,341.9 L852.3,344.6 L851.1,342.2 L852.6,345.4 L853.1,342.3 L853.9,345.5 L852.6,344.2 L853.2,347.8 L854.9,344.9 L855.2,348.8 L854,347.1 L855.8,351.4 L856.1,348.5 L855.8,353.2 L856.3,350.3 L856.6,354.2 L856.1,351.5 L857.4,355.7 L857.5,354.2 L857.7,358.1 L857.5,355.5 L858,359.5 L858.1,357 L859.5,360.7 L860,358.3 L859.2,362.8 L860.6,360 L861.2,364.7 L860.4,361.6 L861.1,365.6 L862,363.9 L862.5,367.5 L862.9,365.7 L863.5,369.3 L862.2,366.8 L863.2,370.2 L863.1,367.8 L864.2,371.6 L863.6,369.6 L865.4,373.7 L865.6,371.8 L865,375.9 L865.7,372.6 L866.7,377.4 L866.6,374.8 L866.1,378.3 L867.8,376.4 L867.7,380 L867.7,377.3 L869.1,379.4 L869.4,375.7 L868.9,377.8 L868.9,373.9 L869.2,375.7 L870,371.4 L870.6,373.5 L869.4,369.5 L870.6,371.4 L870.7,367.3 L870.4,369.1 L871.6,365.6 L872.2,367.7 L871.1,363 L872.8,366.1 L872.3,361.2 L871.8,363.2 L872.7,359.8 L873.6,363 L873.4,360 L873.7,363.9 L874.4,361.6 L875,364.6 L875,362.9 L875.6,365.5 L875.3,363.3 L876,366.7 L877,363.9 L875.8,368.1 L876.7,365 L877.1,370 L878.1,367.8 L878.9,371 L878.6,368.9 L879.6,372.9 L878.9,371.2 L878.9,375.8 L880.7,373.7 L880,377.2 L880.9,375.5 L881.5,379.1 L881.1,376.7 L881.1,381.1 L881.3,378.5 L881.7,382.6 L883,381 L883.8,383.2 L883.6,380.3 L883,383 L883.2,379.1 L884.5,381.9 L884.6,378.8 L885.5,381.3 L885.3,377.8 L886.3,380.9 L885.4,378 L886.9,380 L886.3,377.6 L886.9,380.3 L887.6,376.8 L887,379.7 L888,375.8 L888.1,378.7 L889.7,375.1 L889,378.4 L888.8,374.6 L890.7,377.2 L890,373.5 L890.9,376.9 L890.9,373.6 L891.5,376.3 L891.5,372.4 L892.7,374.6 L891.8,371.4 L893.4,373.9 L892.7,370.6 L893.3,373.4 L893.1,369.2 L894.9,372.3 L894.5,367.8 L894.4,370.4 L894.8,367.6 L896.2,369.6 L895.1,366.6 L896,369.4 L896.1,365.6 L896.3,367.6 L896.3,364.3 L897.1,366.8 L898.1,363.9 L897.5,365.5 L899.2,362.3 L898.7,365.3 L899.3,363.5 L900.2,366.9 L899.7,363.8 L899.7,367.4 L900,364.3 L900.3,367.3 L902.1,364.8 L901,367.7 L901.2,365.3 L902.7,368.4 L902,366.3 L903.9,369.6 L903.4,367 L903.3,369.3 L903.8,367.6 L904.7,370.7 L904.4,367.8 L904.7,370.8 L906.3,368.7 L905.2,372.1 L906.8,368.5 L905.8,372.2 L906.3,369.3 L908.1,372.7 L908.5,370.1 L908.1,373 L907.7,370.4 L907.9,372.1 L909.8,368.7 L909.6,370.9 L909.2,367.6 L910.7,369.9 L911.3,366.8 L910.4,370 L911.3,365.7 L911.7,368.2 L912.5,364.6 L911.5,367.4 L912.7,363.7 L913.6,367 L912.9,363.5 L913.3,365.2 L914.7,362.3 L914.1,364.5 L914.2,361.2 L914.3,363.1 L916.1,359.6 L915.2,362.5 L916.1,359.4 L916.6,361.2 L917.5,357.8 L916.7,361.1 L918.2,358 L917.1,361.3 L917.9,358.7 L918.9,362.2 L919.1,358.8 L919.8,361.9 L919.5,360.1 L919.7,363 L919.3,360.3 L920.2,362.5 L920.7,360.4 L920.7,362.8 L921.3,360.8 L921.9,363.3 L923.1,360.5 L922.4,364.1 L922.4,360.7 L924,364.8 L923.1,361.6 L923.6,364.7 L924.2,361.3 L924.6,365.4 L925.6,362.2 L924.7,365.4 L924.9,361.9 L925.2,364.6 L926.1,361.6 L927.4,363.9 L927,361 L927.2,364.3 L927.6,360.6 L928.9,363.6 L929.2,360 L929.6,362.2 L928.7,359.1 L930.1,361.9 L930.4,358.3 L930.2,361.4 L929.9,357.9 L931.4,360.7 L931.6,356.8 L931,359.7 L932.7,356.6 L932.7,359.4 L932.8,355.7 L933.5,357.6 L934,355.5 L932.9,359.3 L933.6,356.7 L933.7,359.9 L935.5,358.3 L934.9,361.1 L935.7,358.9 L936,362.9 L935.6,359.9 L937.1,363.4 L936.6,361.4 L936.9,364.8 L938.3,361.6 L937.4,366.1 L938.7,363.4 L938.9,366.5 L939.6,363.8 L939.7,367 L939.9,363.8 L939.5,366.1 L939.8,362.4 L941,365.2 L941.5,362.2 L941.9,364.1 L941.1,361.1 L941.5,364.3 L942.2,359.8 L942,363.2 L942.3,359.4 L943.8,362.4 L944.3,358.8 L944.3,361.2 L943.7,358.2 L944.3,360 L945,357.4 L946.2,360 L946.1,356.6 L947.2,358.5 L946.2,355.2 L946.6,358.7 L946.5,354.3 L948.2,357.7 L948.4,353.9 L948.4,355.9 L949.6,352.3 L949.1,355.4 L950.2,351.3 L950.2,353.6 L950.1,350.7 L950.2,353.2 L951.3,349.1 L951.5,352.2 L950.9,348.8 L952.7,350.9 L952,346.7 L952.8,349.4 L953.3,346.7 L953.2,348.5 L954.1,344.6 L953.9,348 L954.4,344.6 L954.4,346.9 L954.4,343.6 L955.4,345.5 L955.8,341.6 L956.5,344.1 L956.1,341.4 L956.5,345.2 L956.8,341.3 L957.5,344.9 L958.3,341.9 L958.9,344.6 L958.4,342.2 L959.6,345.2 L959.6,341.8 L959.7,345.1 L960,342.5 L960.3,345.5 L960.6,341.8 L961.4,345.2 L960.8,342.2 L962.3,345.5 L961.3,342 L962.5,345.1 L961.8,342.5 L963.4,346.2 L964.1,342.3 L964.3,345.9 L964.7,342.6 L964.3,345.4 L964.6,342.4 L965.5,346.1 L965.7,341.9 L965.3,344.8 L965.7,340.8 L965.6,343.3 L967.4,339.3 L967.3,342 L967.3,338.6 L967.5,340.5 L968,336.8 L969.1,338.6 L969.5,334.6 L968.5,337.4 L969.5,334 L970.4,335.9 L970,332.5 L970.7,334.7 L970.6,330.9 L971.8,334.7 L971.4,331.9 L972.2,335.9 L973.1,332.6 L972.3,336.1 L972.4,334.3 L973.7,337.2 L973.2,335.2 L973.5,338.3 L974.7,335.8 L975.4,339.2 L974.4,337.1 L976.3,340.6 L975.7,338.1 L976.5,341.4 L976,338.8 L977.4,340.9 L977.7,338.1 L977.1,340.8 L977.1,337 L979,339.6 L978.5,337.2 L979.5,339.7 L980.1,335.7 L978.8,339 L980.6,335.4 L979.9,337.9 L981,335.3 L980.3,338.1 L981.3,334.1 L981.1,337 L981.9,334.6 L981.8,339.6 L982.2,336.9 L983,340.9 L983.9,339.6 L984.6,343.9 L984.5,341.2 L984.5,345.1 L984,344.2 L984.6,348.2 L985.8,345.9 L985.5,350.2 L985.8,347.6 L986.6,351.8 L987.3,348.5 L987.3,350.2 L986.8,346 L988.3,348.1 L987.4,344.2 L988.2,346.3 L987.9,341.5 L989.8,344.2 L990.2,340.4 L989.9,342.3 L990.9,337.3 L990.6,339.5 L990.2,335.7 L990.9,338.3 L992.1,333.9 L992.2,335.6 L991.5,332 L993.4,333.7 L993.3,329.8 L993.5,331.1 L993.4,328 L994.7,330 L994.3,326.6 L995.3,330.1 L994.7,326.5 L994.6,330.4 L995.5,327.5 L996.2,330.7 L996,327.8 L997.5,331.3 L997.6,327.8 L997.8,331.9 L998.3,328.1 L998.3,331.4 L998.3,329.5 L999,332.7 L999.6,329.9 L998.6,333.1 L1000.5,330.1 L1000.4,333.7 L1001.1,330.8 L1000.8,334.1 L1001,330.8 L1002,333.8 L1001.8,330.1 L1002.7,332.5 L1002.8,329.3 L1002.5,330.9 L1003.3,328.1 L1003.7,330.6 L1004.5,326.9 L1004.6,328.7 L1004.8,325.4 L1004.9,327.1 L1005.7,323.9 L1005.7,326.8 L1006.6,322.3 L1005.9,324.7 L1006.7,321.3 L1007.6,324.2 L1007.5,320.4 L1008,324.1 L1008.8,321.4 L1007.8,324.1 L1008.9,321.5 L1009.2,325.6 L1010.3,322.4 L1009.8,325.6 L1010.5,322.8 L1010.6,327 L1010.6,323.6 L1011.7,326.9 L1012.3,324.9 L1011.3,327.8 L1013.2,325.6 L1012.6,328.7 L1013.8,326.2 L1014.2,329.4 L1013.8,326.8 L1014.8,329.9 L1014.3,327.4 L1015.5,331.4 L1015.1,326.8 L1016.5,328.5 L1016.6,325 L1016.9,326.5 L1016.1,323.4 L1016.9,325.2 L1017.8,321.2 L1018.2,323.3 L1018.2,318.7 L1019.1,321.1 L1019.1,316.8 L1019.2,319.1 L1018.8,315.5 L1019.6,317 L1019.4,315.8 L1021.5,319.2 L1020.9,318.1 L1022,322.1 L1021.5,320.2 L1021.2,324.1 L1021.6,322.2 L1022.9,326.5 L1023.7,324 L1024,328.2 L1023.5,326 L1024.2,330.2 L1024.1,327.9 L1024.4,332.2 L1025.2,330.3 L1024.3,334.6 L1024.5,332.6 L1025.6,336.2 L1025.8,335.2 L1026.4,338.3 L1025.6,337.4 L1026.6,340.8 L1026.4,338.4 L1026.1,343.2 L1027.7,340.8 L1027.5,345.6 L1027.1,343 L1028.6,347.5 L1027.9,344.4 L1029.6,348.4 L1029.6,346.8 L1030.3,350.6 L1030.2,348.9 L1029.8,352.3 L1031.4,350 L1031.4,354.2 L1031.7,350.7 L1032.2,353.4 L1032.7,349.3 L1031.5,352.2 L1032.6,348.4 L1033.8,350.7 L1034.3,346.2 L1033,349.4 L1033.6,345.2 L1034.8,347.9 L1034.2,344 L1036,346.7 L1036.3,343.3 L1035,345.4 L1035.7,341.5 L1036.9,343.4 L1036.5,340.1 L1036.6,341.3 L1037.4,337.8 L1037,339.5 L1038.4,336.4 L1037.9,337.8 L1038.9,334.9 L1039.2,336.2 L1039.9,332.2 L1039.8,334.6 L1040.3,331.4 L1040.5,334.1 L1041.2,331.4 L1040.7,334.3 L1042.4,331.1 L1041.3,333.8 L1042.6,331 L1042.3,333.5 L1043.2,330.8 L1042.8,333.7 L1044.7,330.6 L1044.6,334 L1044.6,331.3 L1045.3,333.7 L1044.9,331 L1045.1,334.1 L1045.8,330.5 L1045.8,333.6 L1045.8,330.9 L1047,333.5 L1047.2,330.8 L1047.8,333.5 L1048.6,331.4 L1048,335.1 L1048.6,333.3 L1048.7,336.6 L1048.6,333.7 L1049.5,337.9 L1049.3,335 L1050.6,339.3 L1051.4,336.3 L1051.1,339.8 L1052,337.6 L1052,341 L1052,338.7 L1051.9,343.1 L1052.9,340.7 L1052.7,344.4 L1053.1,341.1 L1053.8,345.4 L1053.9,342.2 L1053.9,346 L1054.3,343.6 L1054.7,346.7 L1056.5,342.7 L1056.1,345.3 L1057,341.5 L1057.4,343.7 L1056.8,339.9 L1057.8,342.3 L1057.2,337.9 L1058.7,340.9 L1059.1,337.3 L1059.2,339.3 L1060,336.2 L1059.5,338.3 L1059,334.4 L1059.8,336.8 L1060.8,333.3 L1060.5,335.2 L1061.3,331.5 L1061.2,333.7 L1061.5,331.3 L1062.2,334.8 L1062.1,331.9 L1062.9,335.3 L1063.2,332.5 L1064.1,336 L1064.3,334.3 L1064,336.8 L1064.4,335.1 L1065.1,338.4 L1064.6,335.8 L1066.5,338.5 L1066.2,336.2 L1066.4,339.8 L1067,337.2 L1066.5,341.2 L1066.9,337.9 L1068,342 L1068,338.9 L1068.2,343 L1068.6,339.3 L1068.6,342.9 L1068.8,339.7 L1069.2,341.4 L1069.7,337.4 L1070.4,339.1 L1070,335.8 L1071.2,337.6 L1071,333.2 L1071.3,335.2 L1072.3,331.4 L1073.1,333.8 L1072.1,329.1 L1072.8,331.8 L1074.3,327 L1073.7,330.8 L1073.4,327.7 L1073.9,330.4 L1074.6,327.3 L1075.4,330.8 L1076.3,327.4 L1076.5,330.5 L1076.7,327.7 L1076.8,330.1 L1076.2,327 L1076.7,329.8 L1078.5,327.3 L1077.9,330.5 L1077.5,327.7 L1078.1,330.3 L1078.2,327.7 L1078.3,329.5 L1078.9,325.7 L1079,327.4 L1080,323.3 L1079.1,325.3 L1080.8,321.1 L1081.1,323.3 L1079.7,318.8 L1081.3,320.5 L1081.3,316.2 L1081.8,318.6 L1080.7,314.8 L1082.3,316.4 L1082,312.1 L1082.1,315.3 L1082.1,312.1 L1083.7,314.7 L1083.2,310.9 L1083.8,313.8 L1083.8,310.1 L1084.5,312.1 L1084.3,308.4 L1084.3,311.9 L1084.8,307.8 L1085.2,310.4 L1086.3,307.5 L1086.3,309.2 L1087,306.5 L1087.1,308.7 L1087.4,304.7 L1086.8,308.3 L1088.7,304.2 L1087.8,306.7 L1087.8,304 L1089,306.8 L1090.1,303.2 L1089.5,306 L1090.4,302.4 L1089.7,305.1 L1091.1,302.3 L1092,304.2 L1091.6,301.1 L1092.4,303.8 L1091.6,300.9 L1092.7,302.9 L1093.2,299.2 L1093.2,302.9 L1093.9,298.9 L1094.1,302 L1094.9,298.5 L1094.2,300.7 L1094.9,297.2 L1096.1,299.8 L1096.2,295 L1096.2,297.1 L1096.6,294.2 L1096.3,296.5 L1098,292.3 L1097.5,294 L1097.4,290.1 L1099,293.8 L1098.6,289.7 L1098.2,292.4 L1099.7,289.4 L1099.3,291.4 L1100.2,288.5 L1100.6,291 L1100.9,287.7 L1101.5,290.8 L1101.5,287.1 L1101.1,290.1 L1102.1,286.1 L1102.9,289.3 L1102,285.8 L1104.1,289.1 L1103.2,284.7 L1104.7,288.2 L1104.9,284.8 L1104.5,286.7 L1105.2,283.9 L1104.8,286.8 L1104.9,282.8 L1105.9,285.6 L1105.9,283.1 L1106.4,285.5 L1106.4,281.6 L1108.1,285.2 L1106.9,281.5 L1107.3,284.3 L1108.4,281.2 L1109.5,283.4 L1109.6,280.1 L1110,283.8 L1109.6,279.9 L1109.7,282.9 L1109.8,279.4 L1111.7,282.2 L1110.6,278.8 L1111.1,281.5 L1112.2,278.1 L1113,280.9 L1112.8,277.3 L1113.9,280.6 L1113.5,277.8 L1114.5,280.8 L1114.2,277.1 L1114,280.7 L1115,277.4 L1115.5,280.5 L1116.3,277.1 L1115.1,280.4 L1115.8,277.1 L1117.4,280.2 L1116.8,276.3 L1116.4,279.3 L1117.3,276.3 L1117.2,279.9 L1118.7,276.3 L1118.8,278.8 L1118.9,275.8 L1119.4,279.1 L1119.3,275.5 L1120.4,278.9 L1120.9,276.1 L1120,278.1 L1121.8,273.4 L1121.8,275.8 L1121.6,272.1 L1122.7,273.8 L1122.4,269.5 L1123.2,271.6 L1122.8,267.6 L1123.7,269.7 L1124.4,265.2 L1124.8,267.8 L1124,263.2 L1124.2,265.3 L1124.5,261.3 L1125.1,262.8 L1126.2,259.5 L1126.9,262.8 L1127.4,261.6 L1127.1,265.1 L1127.3,263.4 L1127,267.6 L1127.8,265.1 L1127.5,269.2 L1128.4,268.2 L1127.9,271.7 L1128.7,270.2 L1129.2,274.4 L1129.6,272.4 L1130.1,276.1 L1129.7,274 L1129.3,276.7 L1130.1,273.1 L1130.9,276 L1131.1,272.5 L1131.5,274.8 L1132.1,271.2 L1132.4,273.1 L1132.4,269.8 L1132.9,272.1 L1133.8,268.7 L1134.2,271 L1134.8,268.2 L1133.8,270.7 L1134.9,266.8 L1134.9,269.9 L1134.8,266 L1136,268.8 L1135.2,265.1 L1136.6,267.9 L1137,265.4 L1137.9,267.2 L1138.3,264.1 L1138.4,266.9 L1138.3,263.8 L1138.3,266.8 L1139.6,262.7 L1139.7,265.1 L1139,262 L1139.9,265.2 L1140.6,261 L1141.3,264.4 L1140.1,260.7 L1141.6,263 L1142.3,260.2 L1141.3,262.9 L1142.6,259 L1142.3,262.5 L1143.7,257.7 L1142.7,259.9 L1143.2,255.9 L1144.4,257.9 L1143.9,253.7 L1144.8,255.9 L1145.4,252.3 L1146.1,254.6 L1146.2,249.8 L1145.2,251.7 L1145.4,247.7 L1146,250.1 L1147.5,246.6 L1147.5,248.8 L1147.7,243.8 L1148.1,246.8 L1149.1,241.7 L1149.5,243.6 L1148.8,239.6 L1150.2,242.2 L1149.5,238.7 L1150.2,240.6 L1150.8,238.4 L1150.1,241.9 L1151.5,240.8 L1150.4,244.6 L1152,242.8 L1152.2,246.5 L1151.5,244.6 L1151.4,248.8 L1152.2,245.9 L1153.1,251.1 L1152.6,248.4 L1151.8,252.8 L1153.6,250.1 L1153.5,254.1 L1152.6,252.4 L1154.2,256.3 L1154.8,253 L1154.7,256.8 L1154.9,253.3 L1154.2,255.7 L1154.5,253 L1155.6,256.1 L1155.6,252.8 L1157,254.7 L1155.9,251.8 L1156.7,254.8 L1156.8,251.2 L1157.6,254.7 L1157.4,250.6 L1159.1,253.8 L1158.8,251 L1158.8,253.4 L1158.8,249.8 L1160.1,253.2 L1160.5,250.3 L1159.8,252.4 L1160.6,249.3 L1161.1,252.4 L1161.4,249.5 L1160.9,252.3 L1162,248.4 L1162,251.5 L1162.6,247.7 L1163.1,249.6 L1163.6,246.3 L1162.9,247.9 L1164.6,244 L1164.9,245.3 L1165.3,241.3 L1165.4,244.2 L1165.3,240 L1165.2,241.1 L1165.4,237.1 L1165.9,239.7 L1167.4,235.2 L1166.5,238.9 L1167.8,236.6 L1167.5,240.7 L1167.6,239.2 L1167.9,242.9 L1167.8,240.9 L1168,244 L1169.8,242.1 L1169,246.1 L1170.6,244.2 L1170.7,248.2 L1170,245.5 L1170.4,249.2 L1171.9,247.4 L1171.9,251.7 L1172.7,249.7 L1172.9,253.3 L1173.3,250.5 L1172.4,255 L1173.7,250.6 L1174.1,252.5 L1174.5,248.5 L1175.2,250.9 L1174.5,246.8 L1174.2,248.4 L1175.7,244.8 L1175.1,246.5 L1176.6,242.1 L1176.4,244.8 L1177.1,240.1 L1176.8,242 L1176.6,238.7 L1178.6,240.1 L1178.9,235.8 L1178,237.8 L1178,236.4 L1178.6,240 L1179.5,237.7 L1179.4,241.1 L1179.3,238.8 L1179.8,242.7 L1180.3,241.3 L1180.9,244.2 L1180.9,242.4 L1182.4,246.7 L1182.6,243.8 L1182.7,247.9 L1183.4,245.4 L1183.7,250.1 L1183.1,247.4 L1184.3,251.6 L1183.6,247.9 L1184.5,251.4 L1185.6,248.3 L1184.5,251.1 L1185.8,248.2 L1185.9,252.3 L1186.1,248.4 L1186.3,251.4 L1188,248.8 L1187.7,252.5 L1187.5,249.6 L1189,251.8 L1188.5,249 L1189.6,252.7 L1189.9,249.5 L1190.2,252.1 L1189.3,249.4 L1190.7,252.4 L1190.8,249.7 L1190.4,252.7 L1191.2,250.2 L1191.5,254.1 L1191.6,251.6 L1192.1,255.2 L1192.5,253.2 L1193.5,256.6 L1193,255.3 L1194.5,258.4 L1193.3,256.7 L1194.4,259.7 L1195.6,257 L1195.5,261 L1196.4,258.4 L1196,262.4 L1197,259.8 L1196,263.6 L1197.4,261.7 L1197.3,265.3 L1197.8,262.9 L1198.3,267.3 L1198.4,264.1 L1199.4,267.5 L1199.7,266 L1199.1,269.5 L1199.8,267.2 L1199.6,270.7 L1201.3,268.9 L1200.6,270.8 L1202.1,267.2 L1201.6,270.1 L1202.2,266 L1203,268.8 L1202.4,265 L1202.9,267.7 L1203.3,264.7 L1204.3,266.9 L1204.5,263.1 L1203.7,266.1 L1204.8,261.8 L1204.2,264.8 L1205.5,261.3 L1204.9,263.3 L1205.8,260.2 L1206.8,263.1 L1206.4,258.8 L1207.1,261.9 L1207,258.1 L1207.1,260.9 L1207.9,257.7 L1208.2,259.4 L1209.1,256.2 L1208.9,258.9 L1209.1,255 L1210,258.2 L1209.9,253.7 L1210.2,257.2 L1211.1,253.8 L1211,256.4 L1211.1,253.1 L1211.5,255.8 L1212.8,252 L1213.1,254.3 L1213,251.4 L1213.2,254.5 L1213.2,251.1 L1214,252.9 L1213.6,250.3 L1215.4,252.7 L1215.7,248.6 L1215.9,251.6 L1215.2,248.9 L1216.6,250.9 L1216.4,247.4 L1217.4,250.7 L1217.7,247 L1218,250.1 L1217.7,246.4 L1218.8,248.6 L1219.5,244.1 L1218.9,246.3 L1218.7,241.6 L1219.1,244.2 L1219.8,240.4 L1219.8,241.9 L1220.6,238.3 L1220.5,239.6 L1220.7,235.7 L1220.9,237.4 L1222.8,233.4 L1223.2,235.6 L1223,230.9 L1222.7,233.3 L1223,228.9 L1223.3,231.8 L1224.3,227.5 L1225.1,229.1 L1223.9,226.8 L1224.8,231.6 L1224.2,229.2 L1224.6,233.1 L1224.8,231.6 L1225.4,235.5 L1226.7,233.4 L1225.5,236.8 L1225.7,235 L1225.8,239.5 L1226.3,236.9 L1226.8,241.2 L1226.7,239.9 L1227.1,243.3 L1226.9,241.4 L1227.2,245.7 L1228.2,243.2 L1227.6,247.5 L1228.1,245 L1227.9,249.8 L1228.3,247.8 L1229.6,251.1 L1229.6,249.2 L1228.9,253.6 L1229.7,251.6 L1229.6,255.3 L1229.7,253.5 L1230.2,256.1 L1230.6,251.9 L1230.4,253.4 L1231.1,249.8 L1230.9,251.5 L1231.4,247.7 L1232.9,249.9 L1232.6,245.7 L1232.2,247.5 L1233.9,243.7 L1233.5,245.3 L1234.7,241.5 L1233.8,243.1 L1235,239.3 L1234.8,240.7 L1235.9,237.3 L1234.5,239.3 L1235.1,235.2 L1236.6,237.2 L1236.8,232.9 L1236.1,235.4 L1237.4,231.1 L1236.6,233.1 L1237.5,230.4 L1238.1,233.7 L1238.2,230.8 L1239.3,233.1 L1239.4,231 L1239.9,233.6 L1239.7,231.2 L1240.6,233.8 L1239.6,231.1 L1240.2,234.2 L1240.7,232.2 L1241.2,234.8 L1242.2,232.4 L1241.8,235.9 L1242.7,232.8 L1243.1,235.4 L1243.7,232.8 L1243.1,236.3 L1243.9,233.1 L1244.5,235.7 L1244,232.8 L1244.8,234.7 L1245.8,231.3 L1245.2,234.3 L1245.5,230 L1246.7,233.1 L1245.8,229.4 L1246.5,232.2 L1246.9,228 L1247.8,231.3 L1248.5,227.4 L1248.5,229.9 L1249.1,226.3 L1248.2,229.2 L1250,225.5 L1249.7,227.7 L1249.7,224.1 L1250.9,227.2 L1250.1,223.4 L1251.7,225.5 L1250.8,222.4 L1251,224.2 L1252.8,221.3 L1252.7,223.8 L1253.6,219.6 L1253.5,222.8 L1254.2,218.2 L1253.1,221.2 L1254.6,217.8 L1254.9,220.6 L1255.4,218.1 L1255.9,220.8 L1255.2,217.7 L1256.7,219.7 L1257.1,216.9 L1257.2,219.4 L1256.6,215.5 L1258.4,219.2 L1258.6,215.3 L1257.9,218.6 L1258.2,214.8 L1259.2,217.7 L1260,214 L1259.1,217.5 L1260,214.4 L1261.2,217.1 L1260.8,213.4 L1261.1,215.7 L1262.2,212.9 L1262.6,216.6 L1261.5,212.9 L1263.2,216.3 L1262.2,213.6 L1262.8,217.4 L1263.3,215.1 L1262.9,218.3 L1263.9,214.6 L1265,219 L1264.5,215.6 L1265.5,219.3 L1266,216.8 L1265.1,219.2 L1266.7,217.1 L1266.9,220.6 L1267.2,217.3 L1267,220.3 L1268.4,217.5 L1268,221.3 L1267.5,218.9 L1268.3,221.4 L1268.9,219.2 L1269,222.4 L1268.8,219.7 L1270.5,222.4 L1270.7,220.1 L1270.2,222.9 L1271.8,220.2 L1272,222.1 L1271.7,219 L1272.2,220.3 L1271.5,216.2 L1272.6,218.7 L1272.5,214.1 L1272.4,216.5 L1272.7,212.5 L1273.3,214.1 L1272.7,210.3 L1273.7,212.3 L1274.6,207.8 L1273.3,210.3 L1274.5,206.1 L1275,208.6 L1274.6,204.8 L1275.7,205.9 L1274.6,203.1 L1275.5,205.4 L1276.9,202.9 L1275.7,205.2 L1276.2,202.1 L1276.3,205.2 L1277.3,202.2 L1278.4,204.3 L1277.6,200.9 L1278.5,204 L1278.6,200.9 L1279.8,203.8 L1279.3,200.3 L1280.3,203.8 L1281,200.2 L1279.9,203.1 L1280.1,200.2 L1280.3,202.4 L1280.8,199.1 L1281,201.9 L1283.1,199 L1283.4,200.7 L1283.2,197.4 L1284.2,199.2 L1283.2,195.1 L1284.4,197.5 L1283.5,194.1 L1284.8,196.4 L1284.4,192.7 L1285.5,195 L1285.4,191.3 L1286.6,193.7 L1286.6,189.5 L1287.3,192 L1286.9,188.9 L1287.2,190.5 L1287.2,186.8 L1289.1,188.8 L1288.8,185.1 L1289.3,188.4 L1288.9,185.2 L1289.7,188.8 L1289.4,185.2 L1291,188.3 L1290.6,185.2 L1290.4,188.3 L1292,186 L1291.1,188.6 L1292.6,185.8 L1293,188.7 L1293.3,185.3 L1292.8,188.6 L1293.4,185.1 L1294.3,189.1 L1293.5,185.2 L1293.8,188.6 L1294.2,185 L1294.8,189 L1296.4,185.9 L1295.4,188.4 L1296.1,185.2 L1297.2,188.7 L1297.3,185.9 L1297.3,188.9 L1298.5,185 L1298,187.6 L1297.9,183.2 L1298.8,186.2 L1300,182.1 L1299.1,184.5 L1299.5,180.8 L1301.2,182.8 L1301.2,179.4 L1301,181.8 L1301.9,177.9 L1302.2,180 L1301.6,175.9 L1301.8,178.3 L1303.4,174.9 L1304.1,176.9 L1303.2,172.8 L1304.6,176.2 L1303.5,171.4 L1305.3,173.5 L1305.7,169.9 L1305.9,171.9 L1305.3,168 L1306.8,169.9 L1306,165.9 L1307,167.8 L1307.6,163.7 L1306.4,166 L1307.4,161.3 L1308.1,163.8 L1307.5,160.1 L1309.4,161.9 L1309.8,157.3 L1309.7,160.1 L1309.6,155.2 L1309.8,157.1 L1310.7,153.4 L1310.5,156.4 L1310.5,152.2 L1311.5,154.3 L1312,150 L1312.5,152.9 L1312.5,148.4 L1312.8,150.8 L1312.4,147.3 L1313,149 L1314,145.1 L1314.3,148 L1314.1,144.6 L1314.3,145.7 L1315.9,142.6 L1316,144.2 L1316.4,140.9 L1316.7,144.9 L1317.6,143.1 L1317.7,146 L1318.2,144.4 L1317.9,148.4 L1318.9,146.2 L1318.8,149.8 L1319,147.8 L1319.6,151.9 L1318.9,150 L1320.1,153.6 L1319.8,151.8 L1320.9,155.3 L1321.7,153.7 L1322.1,157.6 L1321.9,154.5 L1322.9,158.5 L1323.2,157.1 L1323.3,160.7 L1322.8,159 L1323,162.4 L1324.5,159.8 L1324.6,162.2 L1324.6,158 L1325,160.7 L1324.2,156.6 L1324.3,157.9 L1325.1,154 L1325.6,155.6 L1324.8,152 L1325.1,153.6 L1325.6,150.2 L1324.9,151.5 L1325.6,148.5 L1325.8,149.5 L1325.3,146 L1325.5,147.9 L1327.1,143.8 L1325.9,145.8 L1326.5,141.4 L1326,143.5 L1327.4,141.6 L1328.1,145.7 L1327.6,144.2 L1327.2,148.2 L1328.1,145.9 L1327.6,150 L1327.9,147.9 L1329.8,151.9 L1328.4,150.1 L1330,154.3 L1330.5,152.4 L1329.7,155.9 L1329.6,154.5 L1330.9,158.4 L1330.9,156.7 L1332.1,160.8 L1332,158.7 L1332.7,162.6 L1332.7,160.6 L1332.4,165 L1332.2,162.8 L1333.5,167.3 L1332.9,165.5 L1332.9,168.8 L1334,166 L1334.6,168.4 L1334.6,163.8 L1334.6,165.9 L1334.6,162.8 L1336,165.3 L1336.1,160.8 L1336.4,163.8 L1336.4,160.2 L1336.7,162.5 L1337.1,158.3 L1337.8,160.7 L1338,156.7 L1338.3,159.1 L1339.3,155.4 L1338.8,157.5 L1338.8,154.3 L1339.5,156.8 L1340.4,152.2 L1340.3,155.1 L1341.5,151.5 L1340.9,153.8 L1342.5,150.7 L1342,154 L1342.4,151 L1343.1,154.4 L1343.1,151.9 L1343,155.6 L1343.4,152.1 L1344.7,155.8 L1344.4,152.8 L1344.2,156.3 L1345.3,153.5 L1346,156.7 L1346.1,154.1 L1346.6,157.9 L1346.2,154.6 L1346.1,158.1 L1346.5,155 L1347.6,158.9 L1347.9,156 L1348.7,159.1 L1348.1,156.7 L1348.6,160 L1350,156.5 L1349.6,159.4 L1349.2,155.5 L1351.1,158.3 L1350.2,155.3 L1350.7,158.1 L1351.2,155.3 L1351.3,158 L1352.8,154.9 L1352,157.4 L1353,154.2 L1352.7,157 L1354.4,153.6 L1354.3,155.7 L1355,153.1 L1354.7,155.8 L1355.7,152 L1354.6,154.3 L1355.5,150.3 L1355.8,152.8 L1355.6,148.7 L1356.7,150 L1357.2,146.3 L1357.1,148.7 L1357.6,144.2 L1357.4,146.3 L1357,142.6 L1356.7,143.7 L1358.4,140.4 L1357.6,141.8 L1358.9,138.4 L1358.5,140.4 L1359.4,136.1 L1358,138.3 L1359.9,135.5 L1359.3,137.5 L1360.1,135.1 L1360.3,138.3 L1360.8,135.1 L1360.8,137.5 L1361.4,134.4 L1362.2,138 L1362.3,135.5 L1361.8,138 L1363.4,135.3 L1362.7,138.3 L1363.7,135.5 L1364.4,138.5 L1363.8,135.3 L1363.9,137.8 L1364.4,135.5 L1364.8,137.8 L1365.8,134.8 L1365.2,137.5 L1365.6,134.9 L1366.6,137.7 L1366.4,135.7 L1367,139.8 L1368.4,137.7 L1367.7,141.9 L1367.6,139.6 L1368.1,144.1 L1368.8,141.8 L1369.6,145.6 L1370.1,143.2 L1369.4,147.3 L1369.6,144.7 L1371.2,149.2 L1372,146.9 L1371.8,150.5 L1372.1,148.3 L1371.3,152.5 L1372.4,150.2 L1373.6,153.8 L1373.9,151 L1374.3,153.6 L1374,151.2 L1374.7,154.4 L1374.8,151.3 L1375.2,153.8 L1376.1,151.6 L1376.2,153.9 L1376.6,151.8 L1376.1,155.2 L1376.7,152.3 L1377.8,154.6 L1377.4,152.2 L1378,155.6 L1378.3,151.7 L1379.1,155.7 L1378.2,152.1 L1379,155.3 L1379.1,153.3 L1379.9,158 L1379.2,155.3 L1380.2,159.6 L1380.7,157.2 L1380.8,161.9 L1380.9,159.5 L1380.3,163.5 L1380.1,161.8 L1381.8,166.2 L1380.5,163.5 L1381,168 L1380.9,165.8 L1382.3,170.4 L1381.6,168.5 L1382.7,171.7 L1382,170.2 L1381.7,172.1 L1383.3,168.9 L1383.3,171.2 L1384.3,167.3 L1383.7,169.5 L1385,165.2 L1384.1,167.4 L1384.8,163.8 L1385.1,165.5 L1386.3,161.6 L1385.1,164.1 L1385.7,160.3 L1387.1,162.6 L1386.1,158.8 L1387,160.6 L1387.3,157.4 L1388,159.9 L1387.7,157.9 L1388.6,162.1 L1388.5,159.7 L1388.2,163.3 L1389.1,161.7 L1389.9,165.7 L1388.9,164.2 L1389.9,168.3 L1389.1,165.7 L1389.9,170.5 L1389.6,167.9 L1389.5,171.8 L1390.4,170.6 L1390.6,174.6 L1391.2,172.5 L1390.8,176 L1391.3,174.8 L1392.1,178.9 L1391,176.2 L1392.1,180.9 L1391.2,178.5 L1391.4,182.2 L1392.8,180.4 L1392.6,185.1 L1392.2,182.1 L1393.6,186.5 L1392.4,182.4 L1393,184.6 L1393.4,180 L1394.7,182.7 L1393.8,178.1 L1394.8,180.9 L1394.7,175.7 L1394.4,178.3 L1394.7,174 L1394.6,176.1 L1395,171.5 L1395.8,174.3 L1396.4,170.2 L1395.6,172.3 L1396.1,167.6 L1397.1,170.2 L1397.5,165.5 L1397.6,167.6 L1397.4,163.1 L1397.7,165.8 L1397.5,161.6 L1397.6,162.9 L1398.1,161.1 L1398.8,165.7 L1398.7,162.9 L1399.2,167.2 L1399.1,165.2 L1398.8,169.9 L1400.4,167 L1400.6,171.4 L1400.1,169 L1400.9,173.1 L1401.5,171.9 L1401.3,175.7 L1401.1,173.3 L1401,177.2 L1402.2,175.1 L1402,179.2 L1403.2,177.6 L1402.9,182 L1403,179.4 L1403.8,183.9 L1402.8,182 L1404.7,186.2 L1404.3,183.5 L1404.3,187.9 L1404.2,185.8 L1405.3,190.4 L1405.1,187.6 L1406,192.1 L1405.7,189.7 L1405.6,194.5 L1406.8,191.9 L1407.1,196 L1407.5,194.4 L1407.1,198.3 L1407.4,196.4 L1408.1,200.2 L1408.8,198 L1408.4,202.3 L1407.9,197.8 L1409.4,200.7 L1408.2,196.4 L1409.8,197.7 L1409.8,194.2 L1408.7,195.8 L1409.6,192.4 L1409,193.9 L1410.5,190.3 L1410.8,191.9 L1409.5,187.6 L1410.5,189.7 L1409.9,186 L1410.1,187.5 L1410.7,183.6 L1410.4,185.5 L1411.9,181 L1411.4,183.7 L1412.4,179.2 L1412,181.6 L1411.2,177 L1412.3,179.2 L1412.2,174.7 L1413.1,177 L1412.4,174.8 L1412.5,177.6 L1413.1,175.1 L1414.1,179.1 L1413.8,175.9 L1415.1,179.7 L1415.4,176.3 L1415.5,180.1 L1415.4,178.2 L1415.4,181.5 L1416.8,178.3 L1417.3,182.5 L1417.5,179.4 L1418,183.2 L1417.2,179.8 L1417.1,184.1 L1418.7,181.5 L1418.8,184.6 L1419,181.6 L1419.8,183.3 L1419.6,179.2 L1420.2,181.9 L1419.5,177.3 L1420.5,179.8 L1420.2,175.3 L1419.5,177 L1421,173.1 L1420.3,175.5 L1421.4,171.8 L1420.2,173 L1421.7,169.2 L1421.4,171 L1421.7,167.1 L1421.3,169 L1422,165.4 L1421.4,166.4 L1421.6,162.5 L1421.3,164.9 L1422.2,160.7 L1422.4,162.5 L1422.2,158.4 L1422.3,160 L1422.2,156 L1422.7,159.4 L1422.8,155.4 L1423.4,158.2 L1424.3,154.5 L1425.2,157.7 L1425,153.3 L1425.1,156.6 L1425.3,152.8 L1426.7,155.6 L1427.3,152.7 L1427.3,154.7 L1427.8,151.6 L1427.2,153.5 L1427.2,150.6 L1428.2,152.6 L1429.1,149.8 L1428.7,152.3 L1429.8,148.1 L1429.3,151.3 L1430.1,147.9 L1430.7,150.6 L1431.3,147.2 L1431.6,149.9 L1431.6,147.4 L1432.2,151.2 L1432.3,149.9 L1432.6,153.8 L1432.4,151.6 L1433.6,155.2 L1432.8,153.8 L1434.4,157.3 L1433.9,155 L1435.2,159.7 L1435,157.9 L1434.9,161.4 L1435.4,159.3 L1434.9,163.9 L1436.2,159 L1436.3,160.9 L1436.7,157.5 L1436.4,159.1 L1437.2,155.1 L1436.6,157.6 L1436.6,153.1 L1437.3,154.8 L1437.5,151 L1438.4,153.2 L1437.5,148.4 L1437.4,150.4 L1438,146.3 L1438.9,148.8 L1439.5,145.1 L1439.4,146.2 L1439,142.2 L1439.1,143.9 L1439.2,140.6 L1439.6,141.8 L1439.5,138.5 L1439.7,140.3 L1439.3,136.2 L1440.8,137.9 L1440.9,133.5 L1441,135.6 L1441.5,133.5 L1440.8,136.5 L1441.6,133 L1442.5,136.3 L1442.3,133.9 L1442.4,136.3 L1444,134 L1443.5,136.8 L1443.8,133.9 L1444.6,136.7 L1445.1,134 L1445.7,136.9 L1444.6,133.9 L1445,137 L1446.1,134 L1445.7,137.9 L1446.4,134.4 L1447.1,137.5 L1446.9,134.7 L1447.8,137.6 L1447.3,135.3 L1447.6,137.4 L1448.3,135.5 L1449.6,138.4 L1448.8,136.1 L1450.5,139.8 L1451,136.8 L1449.8,141 L1451.2,137.7 L1451.1,141.2 L1452.4,138.6 L1452,142.8 L1452.5,139.8 L1452.7,143.7 L1453.5,140.5 L1452.4,144.2 L1454.2,141.5 L1453.1,145.5 L1454,142.2 L1454.2,146.4 L1454.7,142.4 L1455.8,145.7 L1455,142.8 L1456.7,146.3 L1456.2,143.2 L1456.6,146.5 L1456.3,143.9 L1457.4,147 L1457,143.4 L1458.4,146.6 L1458,143.5 L1458.8,147.4 L1458.5,144.1 L1458.8,146.9 L1459.2,143.8 L1460.6,147.2 L1460.6,144.6 L1461.2,147.5 L1462.1,144.5 L1461,147.3 L1461.3,144.7 L1463.2,146.9 L1461.9,143.4 L1462.6,145 L1463.4,141.1 L1463.1,143.6 L1464.1,140 L1464.7,142.7 L1465,138.3 L1465,141.1 L1465.8,136.4 L1465.2,139.4 L1466.7,135.5 L1466.6,137.2 L1466.1,133.9 L1467.9,135.2 L1467.6,131.6 L1468.3,133.9 L1467.9,130 L1469.1,132.3 L1468.4,128.9 L1470.2,130.7 L1469.2,126.8 L1470,129.6 L1470.7,125.9 L1470,127.4 L1471.8,124.2 L1471.4,125.7 L1472.3,122.5 L1471.5,124.2 L1472.3,120.4 L1472.5,123.3 L1473.2,118.6 L1473.9,121.1 L1473.6,117.7 L1474.5,119.7 L1474.5,115.2 L1475.7,117.5 L1476,113.8 L1475.5,115.8 L1476.8,111 L1475.8,113.2 L1477.4,109.5 L1476.9,111.8 L1477.2,107.8 L1477.5,108.7 L1477.3,104.9 L1479.2,107 L1478.7,103.1 L1479,104.8 L1480.3,100.6 L1480.2,102.6 L1481.1,98.5 L1480.4,100.5 L1481.5,99.2 L1481.4,103.3 L1481.3,100.6 L1481.9,105.2 L1483,103.2 L1482.3,106.7 L1481.8,105.2 L1483.5,108.8 L1483.8,107.7 L1483.9,111.4 L1483.9,109.8 L1483.5,112.9 L1484.5,111.5 L1485.7,115 L1485.6,113.5 L1486.1,117.2 L1485.9,115.2 L1485.5,119.1 L1486,118 L1487.1,120 L1487.3,114.9 L1486.6,117.7 L1487.6,113.3 L1488.7,114.8 L1489,111.4 L1487.8,113.6 L1489.5,109.2 L1489.9,110.6 L1489.9,106.7 L1489.3,108.8 L1490.7,105.5 L1490.6,107.1 L1490.8,103.5 L1491.2,105 L1491.7,100.5 L1491.7,103.6 L1492.8,99.6 L1493,101.7 L1493.1,98.1 L1493,99.7 L1493.1,95.7 L1493.5,98.5 L1494.3,93.9 L1494.5,96.5 L1495.4,92.4 L1495.6,94.9 L1496.2,91.2 L1496.2,93 L1496.4,88.7 L1496.4,90.9 L1496.8,88.8 L1496.7,93.2 L1498,90.7 L1497.9,95 L1498,93.6 L1497.4,97.1 L1498.4,96 L1497.9,99.7 L1497.4,98 L1498.3,101.4 L1499.1,100.1 L1499.4,104.1 L1498.6,101.6 L1499.3,105.8 L1499,104.1 L1498.4,107.8 L1499.3,106.1 L1498.4,110 L1498.6,107.9 L1498.9,111.8 L1499.8,109.8 L1500.1,114.3 L1500.2,112.1 L1499.4,115.6 L1500.6,114.1 L1500.5,117.6 L1499.6,116.8 L1500.6,120.6 L1499.8,118.8 L1501.3,121.9 L1500.2,119.8 L1501.5,124.9 L1501.4,121.4 L1502.5,125.6 L1501.7,122.1 L1502.6,126.2 L1503.2,123.2 L1502.2,125.6 L1503.3,123.1 L1503.7,126.9 L1504.1,123.5 L1504.7,127.8 L1505.5,124.8 L1505.7,128.5 L1505,124.9 L1506.3,128 L1506.4,126.3 L1506,128.6 L1507.2,126 L1507.1,130.1 L1507.1,127.2 L1508.3,130.7 L1507.8,125.8 L1509.1,127.9 L1509.4,124 L1510.1,126.3 L1509.1,121.8 L1510.2,124.7 L1510.6,119.9 L1511,122.5 L1510.6,118.3 L1512.1,119.9 L1512.4,116.6 L1512.2,118.4 L1511.9,115 L1512.2,116.3 L1513.8,114.2 L1513,118.2 L1513.3,116.7 L1513.3,120.1 L1513.7,117.6 L1514.9,122.1 L1514.7,119.2 L1515.9,124.2 L1515.3,121.6 L1517.1,125 L1517,123.9 L1517.4,127.9 L1518,125.9 L1518,129.2 L1518,127.2 L1517.7,131.6 L1519.2,129.6 L1519.9,134 L1518.9,132.3 L1519.1,136.5 L1519.6,134.4 L1521,137.4 L1521.6,134.3 L1521.6,136.1 L1522.1,132.5 L1521.8,135.5 L1521.8,131 L1522.8,133.4 L1523.3,129.4 L1523.5,130.6" fill="none" stroke="#000080" stroke-width="4.5" stroke-linejoin="round" stroke-linecap="round"/>
<path d="M205,273.4 L205,276.4 L205.5,271.7 L205.3,267.6 L205.9,269.9 L205.3,265.9 L206.4,267.3 L206.6,263 L206.2,266.1 L206.8,260.9 L206.8,263.7 L207.2,259.7 L207.1,261.5 L207.2,257.1 L208.1,259.6 L208.1,255.6 L208.1,257.3 L208.7,253.7 L207.5,255.6 L208,250.8 L208.5,252.9 L208.4,248.9 L209.6,251 L209.3,247.1 L209.3,248.9 L209.4,244.3 L208.4,247.3 L209.4,242.9 L209.3,244.2 L208.9,240.1 L209.9,243 L209,238.9 L209.5,240.4 L210.2,236.6 L210.4,238.4 L209.7,233.9 L209.4,236.4 L209.7,232.7 L210.3,234.2 L210.7,230.2 L211.3,232.4 L210,228.5 L211.6,229.9 L210.2,226.2 L211.3,227.5 L210.8,223.6 L210.9,225.9 L212.1,221.3 L211.6,223.8 L211.1,219.4 L211.9,221.7 L211.7,217.2 L211.3,219.7 L212.8,215.9 L211.5,217.9 L211.3,212.9 L212.3,214.8 L212.5,211.8 L212.9,213 L213.2,208.7 L211.8,211.1 L211.9,206.8 L211.9,208.6 L212,204.6 L212.4,206.8 L212.8,202.9 L212.8,205.5 L212.8,200.9 L213.8,202.6 L212.7,198.4 L213,201.3 L214,196.9 L213.2,198.3 L214.3,194.7 L213.4,196.3 L213.3,192.2 L213.2,194.7 L214.1,190.5 L214,192.4 L213.5,188.1 L214.8,190.5 L213.7,185.9 L213.7,188 L214.5,184 L214.5,185.9 L215.3,182.7 L214.2,184.9 L215.1,179.9 L213.8,182.7 L214.5,178.7 L215.3,180.7 L214,176.2 L215.6,177.9 L214.6,173.7 L214.9,176.7 L215.7,171.6 L215.5,173.7 L215.5,169.9 L215.2,172 L214.9,168.2 L216.1,169.8 L214.7,165.3 L215.5,168.1 L215.2,164.2 L215.3,166.2 L215.2,161.3 L215.4,164.2 L215.2,159.7 L215.2,161.3 L215.9,157.8 L216,159.3 L215.7,155.8 L216.8,157.1 L216,153.1 L216.3,155.2 L217.1,151.9 L215.6,152.9 L216.2,149 L215.9,151.2 L216.9,147.8 L215.5,149.6 L215.7,145.3 L215.8,147.4 L217.1,143.3 L216.1,145.4 L216.9,141.7 L216.1,143.1 L216.7,139.4 L217,140.9 L217.4,137.3 L216.2,138.6 L216.1,135.4 L217.5,137 L216.7,132.4 L217.7,135.3 L216.5,131.1 L217,132.7 L216.7,129.2 L216.6,131.2 L217.2,126.9 L217,129 L217.5,125.3 L217.8,126.7 L216.9,122.2 L217.7,124.6 L216.4,120.7 L217.2,122.5 L216.6,118.5 L216.9,120.9 L217.4,116.8 L218,118.5 L216.7,114.8 L216.7,116.4 L218.4,111.9 L218.1,114 L217.5,110.7 L217.9,112.5 L217.4,108.2 L218.3,110.4 L219.1,108.4 L218.7,112.1 L218.5,110.3 L217.9,114.6 L218.8,113 L218.4,117.1 L218.6,115.1 L218.6,118.9 L218.9,117.1 L218.8,120.8 L219.2,119 L218.5,123.4 L219,120.8 L220.2,125 L219.9,123.7 L218.8,128 L220.3,125.2 L219.8,130.2 L219.7,127.4 L219.9,132.1 L220.3,129.9 L219.2,133.8 L219.9,131.9 L220.4,136.2 L220.2,133.7 L220.2,137.5 L220.4,136.3 L220.6,140 L219.6,138.2 L220.2,141.9 L220.4,140.4 L220.7,143.9 L220,141.7 L220.3,146 L219.8,144.1 L219.3,147.9 L220.8,146.6 L219.5,150.6 L220,148.1 L220.5,152.5 L220,149.9 L219.5,154.7 L220.1,152.2 L220.1,156.7 L220.2,154.2 L220.2,158.8 L221,156.8 L221,161 L220.1,158.8 L221.4,161 L220,156.1 L221.5,158.1 L221.2,154.6 L221.3,156.4 L220.7,152.7 L221.1,154.5 L220.5,150.7 L220.1,151.9 L221.8,147.9 L221.7,150.4 L220.3,146.2 L221.8,148.5 L221.9,143.6 L221.4,146.3 L221.8,142 L220.3,143.7 L220.3,140.1 L221.4,141.6 L220.8,138.3 L221,139.8 L221.4,135.2 L220.5,137.4 L220.6,133.2 L221.6,135.8 L222,132.2 L222.2,133.4 L221.7,129.6 L221.9,131.3 L221.1,129.8 L222,133.6 L221,131.8 L221.7,135.5 L221.8,133.3 L221.9,138.1 L221.3,135.3 L222.5,139.9 L220.9,138.3 L222.2,142.3 L222.2,139.9 L221.9,143.6 L222,141.4 L221.3,146.2 L222.5,143.9 L221.6,147.9 L222.3,145.7 L222.6,150.1 L222.4,147.9 L221.8,152.6 L221.8,150.7 L221.1,154.7 L222.5,152.9 L221.3,156.3 L221.6,154.2 L221.6,158.7 L222.2,156.7 L222.8,160.6 L222.2,158.4 L222,162.4 L223.1,160.4 L222.3,164.8 L222.5,163 L221.5,166.9 L223.1,165.3 L223.2,168.8 L223.3,166.6 L222,170.7 L223.1,168.5 L223,173.2 L222.6,170.8 L223.1,175.6 L222.2,172.8 L223.4,177.4 L221.7,175.6 L222.9,179.3 L223.4,177.2 L223,181 L222.7,179.2 L223.5,184 L222.3,179.4 L223.6,181 L222,177.7 L223.3,179.2 L223.3,174.9 L223.5,176.8 L223.3,172.9 L223.3,175.7 L223.6,171.1 L223.7,173.3 L222.4,169.4 L223.9,170.9 L223.1,166.6 L223.5,169.4 L223.2,165 L222.5,166.7 L222.7,162.9 L223.4,164.4 L223.6,161.3 L223.2,162.3 L223.4,159.2 L224.3,160.7 L224.1,156.8 L223.2,159.1 L223.2,154.7 L223.9,157.3 L224,153.1 L223.6,155.1 L224.4,150.7 L223.1,152.3 L224.3,148.8 L224.7,150.1 L224.5,145.9 L223.9,148 L224.8,144.1 L224.8,145.8 L225.7,141.7 L224.3,145.6 L225.1,143.6 L225.7,147.3 L225.1,145.6 L224.5,149.6 L225,147.8 L225.6,152.3 L226,150.1 L225,154.3 L224.5,152.3 L224.5,156.4 L225.3,153.9 L224.6,158.4 L226.3,155.7 L226.2,160.1 L225.1,158.4 L225.2,161.7 L225.3,160.6 L224.7,164.6 L226.2,161.8 L225.4,166.1 L225.8,163.9 L225.4,168.3 L225.8,165.9 L225.5,169.8 L225.6,167.9 L225.3,172.5 L225.2,170.6 L226.2,174 L225.9,172.3 L225.8,176.8 L226.7,172.7 L226.6,174.7 L226.3,170.2 L226.3,172.6 L226.6,168.5 L226.5,170.5 L226.2,165.7 L226,168.2 L226.5,164 L225.8,166.3 L225.8,162 L226.4,164.2 L227.2,159.4 L226.1,162.4 L226.6,157.8 L225.8,160.3 L226.2,156 L226.4,157.5 L226.4,153.9 L226.9,155.5 L227.3,151.1 L227.7,153.5 L227.3,149.3 L227.4,151.4 L226.8,147.4 L228,149.8 L228.4,146.6 L228.6,150.6 L229,148.6 L228.5,152.6 L227.6,150.1 L227.7,154 L227.4,152.6 L228.9,156.5 L228.9,153.8 L227.7,158.9 L229.1,156.3 L228.1,160.2 L228.4,158.7 L228.1,162.8 L228.8,160.9 L228,164.7 L229,162.5 L228.9,167.2 L229.1,164.8 L229.1,169.1 L228.4,167.2 L228.5,171.2 L229.2,169.2 L228.9,172.5 L229,171.1 L229.3,175.5 L228.1,172.6 L228.3,177.7 L229.8,175.5 L228.6,178.8 L229.8,176.9 L229.9,181.7 L228.8,179 L228.8,183.2 L229,181.2 L228.8,185.6 L229.3,183.1 L229.4,187.6 L229.7,185.9 L230.3,189.7 L229.5,188.8 L230.1,192.9 L230.5,188.3 L231.2,190.8 L230,186.7 L230.5,188.1 L230.7,184.8 L230.3,186.6 L230.1,182.6 L231.1,183.9 L231.4,180 L231.4,182.2 L230.7,178.4 L230,180.6 L230.3,176.5 L231.6,178.1 L231,173.5 L231.4,175.7 L230.6,171.7 L231.3,173.6 L230.6,169.8 L230.3,172.2 L231.4,168.2 L231.3,169.9 L230.5,165.8 L231.8,167.7 L231.7,164 L232.2,165.9 L231.5,162.1 L231.2,163 L231.4,159.9 L231,161.3 L230.9,157.7 L231.6,159 L231.7,154.8 L232.1,157.9 L231,153.1 L231.3,155.8 L231.8,150.9 L232.3,152.8 L231.2,148.7 L232.5,151 L231.1,147.6 L232.5,149.2 L231.8,144.7 L232.6,146.4 L232.6,142.3 L232.8,145.3 L232.1,140.6 L231.6,143.1 L232.6,138.8 L231.5,140.3 L232.2,136.1 L232.4,139 L231.9,134.8 L232,136.3 L233.3,132.5 L232.7,134.4 L233.2,129.5 L234,132.2 L233.5,129.9 L233.6,134.5 L234.5,131.8 L233.7,135.5 L234.4,133.9 L233.7,137.7 L233.8,135.8 L233.5,139.9 L234,138.2 L233.1,141.8 L233.8,140 L233.8,143.8 L233.6,142.7 L234.6,146.1 L235,144.7 L233.6,148 L234.2,146.5 L234.8,150.8 L234.4,149.1 L235.1,152.4 L233.9,151.1 L234.6,155 L234.1,153.1 L233.6,157 L234.9,155.3 L234.1,159.3 L235,157.4 L235.5,161.3 L235.1,159.3 L235.5,163.1 L235,160.6 L235.4,164.9 L234.1,163.6 L234.2,167.8 L235,165.4 L234.7,169.4 L234.8,167.2 L234.8,171.9 L235.7,167 L235.5,169.1 L235,165 L234.9,167.5 L234.7,162.9 L234.9,165.2 L235.8,161.7 L234.4,163.2 L235.2,159.6 L235.2,161.5 L236.1,156.6 L235.9,158.6 L235.2,155.1 L234.6,157.4 L235.1,152.6 L235.9,154.7 L235.3,150.9 L235.1,152.3 L235.5,149.1 L235.2,151.2 L236.2,146.9 L234.9,149.1 L235.4,145.1 L236.3,147.2 L235.4,142.6 L236.6,144.6 L235.7,140.9 L235.1,143 L236.6,138.8 L236.4,140.1 L236.8,136.5 L236.8,138.3 L235.9,134.1 L237.1,135.6 L236,134.4 L237.3,138.7 L236.8,135.8 L237.3,140 L236.9,137.9 L237,142.3 L237.4,140.7 L237,144.4 L237.2,142.2 L236.7,146.5 L237.1,144.9 L237.7,149.1 L237.3,146.6 L237,150.6 L237,148.9 L238.1,152.5 L236.8,150.5 L236.5,154.6 L237.5,152.4 L237.1,156.3 L238.3,155.4 L237.3,158.9 L238.4,157.1 L237.1,160.7 L237.3,159.4 L238.3,163.1 L238.1,161.3 L238,165.6 L237.2,162.6 L237.3,167.5 L238.5,165.2 L238.6,169.2 L237.7,166.8 L238,170.8 L237.2,169.3 L237.6,172.9 L238.5,171.6 L238.7,175.3 L237.4,173.6 L238.7,178.1 L238.3,176 L238.4,179.6 L238.2,178.5 L237.7,182.6 L239.1,180.4 L239,183.8 L239.5,182.2 L239.4,186.4 L239.1,184.3 L239.1,188.4 L238.9,186.6 L239.4,190.8 L240.1,189.9 L239.9,191.8 L239.6,187.5 L240.9,189.8 L240.8,185.9 L241.1,187.4 L239.6,182.7 L239.6,185.8 L239.5,181.6 L240.3,183.3 L240.6,178.7 L239.7,181.3 L240.2,176.5 L240.7,179.2 L239.9,174.4 L240.2,176.6 L240.5,172.5 L240.4,174.8 L240.9,171 L240.1,172.7 L241.2,168.5 L240.3,170.9 L241.5,166.4 L240.3,168.1 L241.8,164.3 L240.6,166.8 L241.3,162.2 L241,164.5 L241.2,160.3 L241.2,162.4 L242.3,158.2 L241,159.6 L242.4,155.9 L241.2,158 L242.1,154 L243,155.5 L243.6,151.1 L243.9,154 L243.1,151.2 L243.4,155.8 L242.9,153.4 L242.7,158.1 L242.9,155.6 L244.1,160.1 L244.2,157.8 L242.8,162.3 L243.3,159.3 L243.5,163.8 L243.8,161.8 L244.2,166 L243.1,163.8 L243.1,168.4 L243.2,166.1 L244,169.8 L244.6,167.7 L243.6,172 L244.4,170.1 L244.2,174 L244.1,172 L244.8,176 L244.6,174.5 L243.7,178 L244.9,176.7 L243.8,180.3 L244.6,178.1 L243.6,182.3 L244.7,180.8 L243.7,184.8 L243.5,182.9 L243.8,186.9 L244.2,182.5 L244.6,184.9 L243.7,180.6 L244.4,182.4 L244,178.2 L244.8,179.7 L244.4,176.6 L245.5,177.5 L244.2,173.8 L244.4,176 L244.6,171.2 L245.1,173.6 L244.4,169.7 L245.6,171.9 L245.5,167.5 L245.9,169.4 L245.3,164.9 L245.8,167.4 L245.8,163 L245,165.2 L245.9,161.3 L245.2,163.2 L244.7,159.4 L246.4,162.9 L246.2,161.7 L245.3,165.3 L245.4,162.8 L246.6,167.1 L245.2,164.9 L246.4,169.5 L245.1,168 L246.3,171.8 L246,169.8 L245.7,173.5 L246,171.5 L246,175.6 L245.8,173.6 L247.1,177.5 L246.8,175.7 L245.9,179.6 L247.1,178.4 L245.8,181.6 L247.1,180.2 L245.7,183.9 L246.7,182.2 L246.1,186.7 L247.1,184.5 L246.5,188.1 L246,186.3 L246.5,190.7 L247.6,188.7 L246.7,192.4 L247.2,191.2 L247.1,194.5 L246.7,192.4 L247.9,196.9 L246.8,194.7 L247.5,199.5 L248.1,197.4 L248.4,201.3 L247.7,198.9 L247.8,203 L247.4,201.3 L247.9,205.1 L247.6,203.2 L248.1,208.1 L249.3,205.3 L248.2,210.3 L249,207.4 L249.6,211.7 L248.8,209.5 L248.7,213.6 L248.4,212 L249,216.6 L248.6,214.2 L249.9,218.3 L250.3,216 L250.4,220.8 L250.5,218.2 L249.8,222.4 L249.6,220.7 L250.2,224.4 L250.1,223 L251.3,226.4 L250.5,224.8 L250.7,229 L251.5,226.6 L251.6,230.6 L250.9,229 L251.9,232.5 L250.7,230.6 L250.8,234.5 L251.1,233 L251.4,236.8 L251.3,235.3 L251.1,239.2 L251.3,237.5 L252.7,241.7 L251.8,239.2 L251.3,242.8 L252.2,240.8 L251.5,245.4 L252.8,244 L252.5,247.3 L252.9,245.2 L253.2,249.9 L251.8,247.4 L252.7,251.5 L252.2,249.7 L252.6,253.7 L253.7,252.1 L253.6,255.5 L253.3,253.9 L252.9,257.9 L252.5,256.3 L253.1,259.7 L253.9,257.8 L253.6,262.4 L252.8,260.7 L252.7,264.7 L253.5,261.7 L253.3,266.2 L254,263.9 L253.7,268.4 L253.6,266.7 L254.7,270.9 L253.9,268.9 L254.7,270.5 L254.5,266.5 L253.4,268.7 L253.5,263.9 L253.6,266.2 L253.4,262.6 L254.6,263.8 L253.7,260.7 L253.5,262.3 L253.9,257.9 L254.8,260.2 L255.3,255.6 L254.2,258.5 L255,254.4 L255.2,255.5 L255,251.5 L255,254.3 L255.1,250.1 L254.1,251.8 L254.5,247.5 L255.6,250.4 L254.7,245.4 L255.7,247.3 L255.1,244.2 L254.3,245.7 L255.5,242.1 L254.9,243.7 L255.3,240.1 L254.7,241.1 L255,237 L254.8,239.9 L255.7,235.1 L256,237 L255.2,233.1 L255.8,238 L254.7,235.1 L255.4,239.9 L255.8,237.7 L255.8,241.1 L256.5,239.2 L256.1,243.8 L256.3,241.7 L255.4,245.9 L256.8,243.3 L256.5,247.4 L255.7,246 L256.2,250.3 L256.3,247.7 L256,251.5 L255.7,249.3 L256.9,254.1 L256.6,252.2 L255.4,255.4 L255.5,254.3 L257.2,258.1 L255.9,256.4 L255.6,259.5 L255.8,258.2 L255.9,261.8 L256.8,260.5 L256,264.4 L256.3,261.9 L256.3,266.4 L255.9,264.4 L257.4,268 L257.1,266.5 L256.2,270.2 L256.8,268.8 L257,272.2 L256.7,270 L257.7,274.2 L256.7,272 L257.6,276.4 L257.4,274.5 L257.6,278.5 L257.9,276.6 L256.5,280.9 L257.5,278.1 L257.8,282.8 L257.1,280.1 L257.7,282.4 L256.9,278.9 L257.1,280.2 L257.3,276.2 L258.5,278.4 L258,274.8 L258.1,276.3 L258.3,272.4 L258.1,274.2 L258.4,270.2 L258.6,272.6 L258.1,268.1 L258.4,270.1 L259,265.5 L258.2,268.3 L257.5,263.5 L258.5,265.4 L257.4,261.5 L258.9,264 L258.3,260.1 L258.5,262.3 L258.8,258.3 L258.1,259.3 L259.3,255.3 L259.5,257.6 L258.4,254.1 L258.4,255.5 L258.6,251.8 L259.3,254 L258.7,249.1 L258.6,251.3 L259.6,250 L258.4,254.2 L259.3,251.8 L259.9,256.3 L259.3,253.5 L259,258.4 L259.6,256.1 L259,259.6 L259.8,258.6 L260.4,262.8 L259.8,260 L260.4,264.5 L260.9,262.4 L261.1,266.1 L260.9,262.4 L260.1,264.2 L261.5,260.2 L260.8,262.4 L261.5,258.2 L260.4,260.9 L261.6,255.9 L261.4,258.5 L260.8,253.7 L261.6,255.8 L261.8,252.2 L260.5,254.6 L260.9,250.2 L260.7,252.1 L261.6,247.7 L262.4,250.5 L262,246.1 L262.5,247.7 L261.5,243.8 L261.6,246 L261.2,242.2 L261.1,243.8 L261.6,239.4 L261.7,241.5 L262.6,238.1 L262.9,239.8 L261.7,235.5 L263.3,237.5 L262.6,233.6 L263.3,236.2 L261.8,231.7 L263.2,233.5 L262.7,229.4 L261.9,231 L263.6,229.6 L262.8,233.7 L263.4,231.1 L262.3,235.8 L262.2,233.6 L263.7,237.7 L262.9,235.4 L263.5,240.3 L263.3,238.1 L263.6,241.9 L262.5,240.4 L264.2,244.2 L262.6,241.7 L264,245.6 L264.4,244.5 L263.6,248.4 L263.6,246.4 L263.7,250.4 L264.6,247.8 L264.7,252.7 L263.8,250.5 L264.6,254.9 L263.6,252.1 L263.7,256 L264.1,251.9 L264.3,254.7 L264.9,249.9 L264.1,252.7 L263.8,248.1 L263.9,250 L265.4,245.6 L265.7,248 L265,244.2 L265,246.3 L264.9,241.3 L264.9,244 L264.8,239 L264.8,241 L265.7,239.2 L266,243.5 L266.1,241.9 L265.4,245.4 L265.3,244.2 L265.3,247.8 L266.1,245.9 L266.2,249.6 L266.6,248.4 L266.6,252.3 L266.3,249.7 L267.1,253.5 L265.5,251.9 L266.7,256.1 L266.3,254.1 L266.3,258.5 L265.7,255.9 L265.8,260.6 L266.2,257.8 L266.3,262.4 L266.7,259.7 L266.7,264.3 L266.8,262.6 L267.7,266.2 L266.3,264.7 L267.4,268.9 L267.2,265.9 L266.6,271 L267.6,266.8 L266.5,268.4 L267.1,264.4 L267.7,266.1 L266.9,262.5 L266.8,264.2 L267.6,260.5 L266.8,262.5 L266.8,257.7 L267.8,259.8 L266.8,255.7 L266.8,258.4 L267.8,253.8 L267.3,256.3 L267.4,251.8 L268.7,254.1 L267.3,250.2 L267.8,252.3 L268.6,247.9 L268.3,249.6 L268.1,245.9 L269,247.6 L267.9,243.5 L267.8,245.2 L268.3,241.2 L268.2,243.3 L268.1,239.4 L268.1,241.6 L268.6,240.1 L268.4,244 L268.3,241.4 L268.2,245.8 L268.9,243.7 L268.3,247.5 L269.1,245.5 L269.4,250.5 L269.5,247.6 L268.8,252.7 L269.2,250.6 L269.8,254.3 L270.8,251.9 L270.4,256.2 L269.6,252.5 L269.8,254.2 L269.6,250.7 L269.8,252 L269.9,247.8 L270.9,250.5 L271.1,245.8 L269.6,247.8 L270.1,244.2 L271.4,245.8 L270.9,241.9 L270.1,244.6 L271.3,240.7 L270.9,242.2 L271.2,238.6 L271,239.6 L269.9,236.2 L270.5,238.1 L270.3,233.5 L270.8,236.1 L270.7,231.6 L270.4,234.6 L270.5,229.6 L271,232.1 L270.7,227.6 L270.7,230.3 L271.5,225.4 L272.2,228.3 L270.7,223.5 L270.6,226.2 L272.2,222.2 L270.6,224.2 L271.2,219.6 L272.1,224.4 L271.6,221.5 L272.4,226.3 L271.4,223.5 L271.6,228.5 L271.5,226.1 L270.9,229.7 L272.6,228.2 L272.3,232.2 L272.3,230.2 L271.3,234.1 L272.2,232.7 L272.8,235.9 L272.2,234 L272.5,238.1 L271.4,236.3 L272,240.1 L271.6,238.4 L271.4,242.5 L273.1,241 L273,244.2 L271.9,243.3 L272.8,247 L273,244.5 L272.9,248.5 L272.5,247.5 L273.1,250.9 L272.6,248.6 L273.6,253.3 L272.5,250.7 L273.4,254.9 L272.7,252.7 L273.7,257.8 L272.9,255.7 L273.6,259.1 L273.1,257.6 L273.6,261.4 L272.8,257 L273.5,260 L272.5,255.8 L273.6,257.4 L274,253.3 L272.6,255.2 L273,250.8 L274.1,253.6 L272.9,249 L273.1,251.7 L273.1,246.8 L274.1,248.7 L274,245.4 L273.1,246.7 L273.2,242.9 L274.3,245.3 L273.6,240.8 L274.5,242.6 L273.8,238.8 L274.9,240.5 L274.8,237 L274,238.4 L273.9,234.9 L274.3,236.9 L274.8,233.9 L274.2,238.4 L274.1,236.6 L273.9,241 L274.5,239.2 L274.7,242.7 L274.2,241 L275.1,245.4 L275,243.1 L274,246.7 L274.4,245 L274.8,248.7 L274.3,246.5 L275.8,251.3 L275.7,249 L275.4,253.1 L275.3,250.7 L275.4,255.6 L275.3,253.4 L275.7,257.8 L274.7,255.7 L274.3,259.1 L274.7,257.7 L274.7,261.2 L274.7,258.9 L274.6,263 L276.1,261.7 L275.8,265.4 L274.5,264.1 L276.2,267.2 L275.4,266 L275.8,269.6 L276.1,268.1 L275.6,272.4 L275.7,269.3 L274.8,274.4 L275.5,271.3 L276.1,275.7 L276.2,274.4 L275.8,278.4 L275.2,276.6 L276.5,277.7 L276.4,274 L275.4,276.4 L275.8,272.1 L276.8,274.4 L275.8,269.2 L275.5,272.1 L276.4,268 L276.1,269.4 L276.7,265.7 L276.3,267.7 L276.2,263.9 L276.5,265.9 L276.1,261.6 L277.4,263 L277.5,259.5 L276.2,261.5 L277.5,257.2 L276.4,258.7 L276,254.8 L277.4,256.8 L277,252.6 L277.4,255.1 L277.9,251.1 L278,253 L276.9,248.5 L276.9,250.6 L277.9,246.3 L277.6,249 L278.1,244.7 L276.7,247 L276.8,242.5 L277,244.4 L278.3,240.8 L277.9,242.1 L278.3,237.7 L278.5,239.6 L278,236 L277.7,238.4 L278.2,234 L278.1,235.9 L279.2,232.1 L278.8,233.4 L278.1,229.7 L279.2,231.7 L280,229.3 L280,233.9 L279.6,231.2 L280,236 L279.2,234 L280.2,237.3 L279.5,235.4 L279.4,239.9 L279.6,237.7 L280.5,241.5 L279.9,239.6 L280,244.6 L279.8,242.1 L279.7,246.6 L280.4,243.8 L280.9,248 L281.3,246.8 L281.5,250.7 L280.4,248.3 L280.6,252.4 L281.8,250.5 L281.3,251.9 L280.4,248.4 L281.2,250.9 L281.5,245.8 L281.7,248.8 L281.3,244.7 L282.2,246.3 L281.3,242.4 L281.9,244.5 L282.4,240 L282.3,241.8 L282.1,238.2 L282.7,239.3 L282.5,236.2 L281.9,238 L283.3,233.6 L283.6,235.9 L283,231.4 L282.1,233.1 L283.8,229.7 L284.6,231.4 L283.7,228.1 L285.2,229.9 L284.3,226.4 L285.3,227.5 L286.2,224.5 L286,228.6 L285.3,226.1 L286,230.3 L285.6,227.9 L285.4,232.5 L285,230.4 L286.8,234.4 L286.4,232.8 L285.9,236.5 L286.8,234.9 L285.4,238.8 L286.4,236.7 L286.3,240.7 L286.8,239.2 L286,242.7 L285.7,241.4 L286.9,245 L286.6,243.5 L286.3,247.5 L287.6,245.7 L287.2,249.9 L287,247 L286.4,251.9 L286.6,249.9 L286.8,253.2 L288.2,252.1 L287.8,256.4 L287.8,253.8 L288,258.9 L289.5,256.5 L289.7,258.9 L289.8,254.6 L288.9,256.2 L289,252.2 L289.8,254.1 L289.4,250.5 L289.2,251.7 L289.5,248 L289.7,250.5 L289.6,246.3 L290.5,247.9 L289.2,243.9 L290.2,245.7 L289.4,242.3 L290.1,243.7 L290.6,240.1 L290.3,241.3 L289.6,238.1 L290.5,239.9 L290.2,235.2 L291,238 L290.8,233.5 L290.5,237.9 L290.3,235.9 L291.7,240.2 L291.2,237.4 L290.2,242.2 L291.3,240.1 L290.9,244.2 L292.1,241.8 L290.6,246.3 L291.3,244.5 L290.9,248.4 L291.4,246.5 L291.9,250.9 L291.6,248.4 L292.3,250.8 L292.7,246.7 L292.8,247.9 L292.2,244 L293,246.1 L292.7,241.9 L291.6,244.4 L293.1,240.5 L292.2,242 L293.4,237.4 L292.1,239.8 L292,236.4 L292.2,238.3 L293.5,234.1 L293.1,235.9 L292.8,231.2 L292.2,233.4 L292.3,229.1 L293.6,231.5 L292.4,229.1 L293.8,234 L294.1,231.4 L293.4,236 L292.8,233.3 L293.2,237.7 L294.3,236.3 L293.4,240.2 L293.6,237.4 L294.3,241.6 L294,240.1 L294.3,244.3 L294.1,242.5 L294.9,245.7 L294.5,243.7 L294.3,247.7 L294.5,246.6 L293.9,249.9 L294,248.2 L295.1,252.3 L295.6,250.8 L294.5,254.2 L295,252.2 L294.6,256.4 L295.1,252.8 L294.9,255.1 L295.2,251 L295.9,253 L296.9,250.8 L297.3,255.3 L296.4,253.7 L296.2,257.7 L296.8,255.3 L296.8,259.1 L296.7,257.5 L297.3,261.2 L296.7,259.7 L296.7,263.3 L297.9,260.9 L297.6,265.5 L298.4,263.3 L298.1,267 L298.5,265.1 L297.9,269.7 L297.9,267.9 L298.2,271.6 L298.3,269.8 L299.4,273.8 L298.2,272.1 L299,276.2 L299,273.5 L299.5,278 L298,275.8 L298.6,279.9 L298.2,277.7 L299.2,281.7 L299.1,280.1 L299.2,284 L299.7,282 L298.1,285.6 L299.3,284.5 L299.5,288.2 L298.7,286.3 L299.7,290.3 L298.9,288.3 L299.2,292.3 L299.5,290.4 L298.8,294 L299.1,292.8 L298.7,296.1 L299,294 L299.3,298.3 L299.3,296.6 L298.5,301 L299.4,298.1 L299.6,302.4 L300.3,301.2 L298.9,304.4 L298.9,303.2 L300.2,306.5 L299.5,305.3 L299.2,308.5 L299.4,307.2 L300,311.6 L299.1,309.1 L299.9,313.7 L298.9,310.9 L299.6,315.2 L300.2,313 L299.6,317.6 L300,315.6 L299.3,319 L300.5,316.9 L299.3,321.5 L299.2,319.9 L300.3,323.6 L299.9,319.5 L300,321.3 L299.8,316.9 L299.5,319.5 L299.7,315.5 L299.6,317 L300.7,313.9 L300.4,315.5 L300.7,311.7 L300.5,313.1 L301.3,308.8 L300.9,311.6 L300.7,306.6 L301.3,309.7 L300.4,304.9 L301.3,307.4 L301.8,303.4 L300.5,305.2 L300.7,300.5 L302,303.1 L301.9,298.9 L302.2,301.1 L301,296.4 L301.1,298.6 L302.1,294.8 L302.4,296.6 L302.5,292.5 L302.1,294.4 L302.4,291 L301.3,292.7 L302.8,289 L302,291.3 L302.5,286.9 L301.9,288.8 L302.4,284.5 L302.6,286.4 L303.1,282.3 L302.5,284.3 L302.5,280.2 L302.2,282.4 L303,278.3 L303.3,280.5 L303.2,276.9 L302.1,278.8 L302.5,274.1 L302.7,276.3 L304,273.6 L304.6,275.4 L303.3,272.3 L303.8,274.4 L304.8,271.1 L304.6,274.4 L304.9,270.8 L305.5,272.3 L307,269.8 L305.8,272.1 L306.7,268.9 L307.2,270.1 L306.7,266.4 L307.2,268.2 L307.9,263.7 L308.4,266.4 L308.1,262.3 L308.3,264.6 L309.7,259.8 L309,262.4 L309,257.7 L310.5,259.7 L309.1,255.4 L310.2,258.3 L311,253.6 L309.9,255.6 L310.6,251.4 L311.5,253.5 L310.7,249.4 L312.2,251.2 L311.5,248.1 L311.9,249.1 L312.1,246 L311.7,248.1 L312.1,243 L313.4,245.3 L313.1,243.3 L313.3,246.9 L313.4,244.3 L314.4,247.8 L315.6,246 L315.3,249.7 L315.9,246.9 L315.7,250.6 L316.6,248.8 L316.6,252.4 L316.8,249.6 L317.5,253.6 L317.2,250.8 L318.5,254.8 L317.7,251.7 L318.3,256.1 L318.1,253.3 L319.4,257.7 L319.2,255.4 L319.7,258.4 L320.4,254.7 L320.7,256.9 L319.4,251.8 L319.6,254.1 L319.7,250 L321.4,252.1 L320.8,247.7 L321.3,250 L320.8,245.7 L321.6,248.2 L321.2,244.6 L321,246.5 L320.4,242.4 L321.5,243.5 L320.9,239.7 L321,242 L322.4,237.9 L322.1,239.4 L321.9,235.8 L321.9,237.9 L321.3,233.7 L321.9,236 L321.8,231.3 L322.3,234.1 L322.5,229.9 L322.4,231.4 L322.7,227.8 L322.3,230.2 L323.7,225.5 L323,227.9 L323.2,223.6 L323.4,227.2 L322.9,224.2 L323.3,227.5 L323.5,224.7 L324.1,227.8 L326,225.6 L325.2,229 L325.3,226.2 L326,229.4 L326,226.8 L326.1,229.6 L327,227 L327.2,230.5 L328.4,227.9 L328.6,231.3 L329.4,228 L329.2,231.8 L329.1,228.4 L329.1,232.1 L329.3,229.5 L330.8,233.7 L329.3,231.1 L329.5,235.3 L330.3,234.2 L331,237.9 L331.4,235.5 L330.5,239.4 L330.4,237.6 L331.4,241.4 L331,239.6 L330.5,244.1 L330.7,242 L330.7,246.4 L330.5,244.1 L331.6,248 L331,246 L331.5,250.1 L331.6,248.4 L332.1,251.9 L332.4,250.3 L332.6,253.9 L332.3,251.6 L331.8,256.6 L332.3,254.8 L332.5,258.2 L331.7,255.9 L332.9,260.9 L332,258.5 L332.9,262.2 L332.1,260.6 L332.8,264.5 L332.9,262.6 L333.4,266.5 L333.3,264 L334.7,268.1 L334.9,265 L334.7,269.7 L335.6,267.2 L335.9,270.9 L335.9,269 L336.6,272.2 L336.4,270.1 L337.4,274.5 L337.9,271.5 L337.2,275.5 L338.2,273.4 L339,276.8 L338.7,274.2 L338.5,278.4 L340,276 L339.4,280.8 L339.9,279.1 L340.7,283.1 L341,281 L340.6,285.1 L341.4,282.3 L340.2,287 L341,285.2 L341.5,288.4 L341.4,286.9 L341.8,290.7 L342.2,288.9 L341.9,292.7 L342.4,291.6 L343,295.6 L342.8,292.6 L343.3,297.1 L344.3,295.2 L344,299.7 L343.5,297.3 L344.1,301.3 L344.8,299.1 L344.6,303.9 L346.1,301 L345.7,305.8 L344.9,303.3 L345.9,307.3 L346.4,305.7 L346.9,309.1 L345.9,307.6 L345.7,311.2 L346.8,309.9 L345.9,314 L347.3,311.6 L347,315.5 L347.6,313.4 L347.6,317.9 L346.6,315.9 L347,320.1 L346.7,318.3 L347.5,321.6 L346.9,319.9 L347.5,324.4 L348.6,322 L348.1,326 L348.1,324.3 L348.7,328.2 L347.6,326.3 L348.8,329.7 L349.2,328 L348.4,332.1 L348.1,330.5 L349,334.5 L348.7,332.5 L348.7,336 L348.7,334.2 L348.1,339 L348.2,336.6 L348.8,340.6 L348.9,338.5 L348.6,343.1 L350.3,340.2 L350,344.3 L349.9,342.6 L350.3,346.7 L350.4,345 L349.2,348.5 L351,347 L349.5,350.5 L351.1,348.6 L350.3,352.5 L351,351.6 L351,355 L350.4,353.6 L351.1,357.6 L350.8,354.7 L350.4,359 L351,357.5 L352.1,361.3 L350.4,359.1 L350.8,363.2 L352.1,361.5 L351.2,365.8 L351.3,362.9 L351,367 L352.8,365.3 L352.1,369.9 L351.8,365 L351.9,367.9 L352.4,362.9 L353.4,365.7 L352.1,361.3 L353.6,363.2 L352.5,359.2 L352.5,360.7 L353.4,357.7 L353.2,358.9 L354.1,355.2 L353.6,357.2 L353.2,353 L353.4,354.8 L354.7,350.4 L355.1,353.2 L353.6,348.9 L354.3,350.7 L354.6,346.5 L353.9,348.8 L354.1,344.4 L355.9,346.8 L355.7,342 L356.1,344.3 L355.7,340.5 L355.7,342.4 L354.9,338.6 L355.1,340.8 L356.6,336.8 L356.5,338.8 L356.6,334.1 L356.5,336.1 L356.3,332.6 L356.4,333.8 L356.8,330.2 L356.7,332.7 L356.7,328.1 L357.9,329.8 L356.6,325.8 L357.3,328.3 L357.4,324 L357.9,326 L357.4,322.3 L358.6,323.5 L359.1,319.3 L358.5,321.2 L358.1,318.2 L358.9,319.7 L359.3,315.7 L359.7,318 L359.5,313.4 L360,315.4 L358.5,310.9 L358.7,313.2 L359.4,308.9 L359.9,311.3 L360.7,306.8 L360.2,309.1 L359.6,304.7 L360.6,307.6 L360.2,302.5 L359.7,304.8 L361.4,300.6 L360.1,302.8 L360.3,298.7 L361.3,301 L360.9,297.3 L360.9,299.3 L361.7,294.6 L361.6,296.6 L360.7,293 L361.3,294.1 L361.5,290.8 L361.7,292.5 L362.5,288.5 L362.9,292.6 L362.1,290.6 L362.9,294.2 L363.2,292.1 L363.4,296.9 L363.8,295.3 L363.5,298.7 L363,296.9 L363,301.1 L363.3,299 L363.5,303.5 L363.9,300.9 L363.7,304.8 L364.6,303.6 L365.7,307.3 L364.4,305.2 L364.7,309.1 L366.1,307.5 L366.4,311.3 L366.2,308.7 L365.6,313.6 L367.1,311.4 L366.1,315.8 L366.7,314 L367.7,317.1 L367.6,315.9 L367.3,319.7 L367.1,317.6 L368.5,321.5 L368,319.2 L367.4,324.3 L368.9,321.7 L367.5,325.7 L368,324 L368.1,328.6 L369.7,326.6 L369.6,330.1 L369.2,328.3 L369.1,332.3 L369.7,330.5 L369.2,334.3 L369.3,332.3 L370.1,336.8 L370.5,332.3 L370.1,334.3 L370.1,330 L371.9,332.6 L371.4,328.5 L371.8,330.6 L372,326.1 L371.5,327.9 L372.6,323.7 L372.4,326.1 L372.8,322.5 L373,324.3 L373.4,320 L374,322.1 L374.4,317.7 L375.2,320 L374.9,315.3 L374.9,317.8 L374.6,313.6 L375.8,316.2 L375.1,311.9 L376.6,314 L376.7,309.9 L377.5,311.6 L377.6,307.1 L377.7,311.1 L378,309.1 L378.6,312.7 L378.7,309.6 L379.3,313.6 L378.6,310.5 L380.1,314.2 L380.1,312.5 L379.9,314 L380.7,309.8 L381.8,312.6 L381.1,308.5 L381,310.4 L381.9,306.3 L382.3,308.6 L383.3,304.5 L383.1,306.7 L383,302.4 L383.1,304.4 L384.1,300.6 L384.3,303.1 L384.5,298.4 L385.7,300.5 L385.2,296.5 L386.1,299 L386.9,295.3 L386.1,297.5 L386.7,292.8 L386.9,296.6 L388.2,294.8 L387.5,298.7 L388.7,297.4 L389,300.9 L389.7,299.6 L388.9,303 L389.7,301 L389.1,305.4" fill="none" stroke="#000080" stroke-width="6.2" stroke-linejoin="round" stroke-linecap="round"/>
<path d="M7.5,369.6 L8,365.3 L8.7,367 L7.8,363 L8.4,365.1 L10,361.4 L9.9,363.3 L9.7,359.7 L9.9,361.7 L10,356.9 L10.4,358.7 L10.8,355 L10.2,356.6 L11.4,353.1 L11.4,355.5 L11.6,350.5 L11.2,353.4 L11.5,348.5 L12.5,350.5 L11.4,347.2 L13.1,348.8 L12.7,345.1 L12.7,346.7 L12.6,342.7 L13.2,345.3 L13.6,340.2 L14.2,343.3 L14,339 L14.6,341.2 L14.9,336.5 L14.7,338.3 L15.2,334.5 L14.4,336 L15.6,331.9 L14.5,336.9 L15.4,335 L15.4,339 L16.7,337.2 L16.5,340.3 L17,339 L17.5,343.4 L17.1,340.3 L17,344.5 L17.8,343.5 L17.4,347 L18.4,345.5 L17.6,349.6 L18.3,346.7 L19.7,351.2 L19.1,349.3 L19.7,353.5 L19.8,351.3 L20.8,355.5 L20.1,353.2 L19.9,357.3 L21.4,355.5 L20.8,359 L20.7,357.5 L20.2,361.8 L21.5,360.1 L21.7,363.7 L21.9,361.8 L22.2,366 L21.1,364.2 L22.5,368.3 L21.9,365.8 L22.7,369.6 L22.4,368 L22.6,372 L22.7,370 L23.7,373.4 L23.5,371.6 L23.2,375.6 L24.3,374.2 L23.3,377.9 L24.4,376.4 L23.9,379.9 L25,378.1 L25.3,381.7 L24.5,379.9 L25.7,384.1 L24.7,382.6 L25.4,385.8 L26.1,383.8 L25.1,388 L26.4,386 L26.6,390.1 L25.6,388.5 L26.9,392.1 L26.3,390.4 L26.6,394.3 L27.7,392.7 L26.2,396.9 L28,393.8 L27.3,399 L28.4,396.8 L28.3,400.9 L28.3,398.5 L27.8,400.3 L27.8,396.9 L28.6,398.1 L29.2,394.8 L29.5,396.5 L29.7,391.7 L29.8,394.2 L28.4,389.8 L28.8,391.8 L29.9,387.9 L29.6,390.5 L30.1,386 L29.6,388.3 L30.2,383.4 L30.1,385.4 L30.6,381.3 L30.1,384 L31.6,379.2 L31.6,381 L31.6,379.1 L30.9,383.4 L31.7,381.7 L32.3,385.9 L33.3,384.5 L32.4,387.6 L32.9,386.6 L34.8,390.7 L33.5,388.3 L34.3,392.2 L34.7,390.3 L35.3,392.3 L34.7,388.6 L34.7,390.5 L35.9,386.5 L34.8,388 L35.5,384.1 L36.3,386.1 L36.5,382 L36,384 L36.2,379.8 L36.2,382.3 L36.4,378.3 L36.6,380.2 L35.9,376 L36.7,378.4 L37.7,374 L37.8,376.2 L36.7,371.8 L36.6,374.1 L37.7,369.2 L38,371.9 L38.1,367.5 L37,369.7 L37,365.9 L38.5,367 L37.6,365.5 L39.4,368.3 L38.2,365.8 L38.7,370.2 L40.1,366.9 L41,371 L41,369 L41.3,372.1 L41.6,370.1 L42,373.7 L41.1,371 L42.4,374.8 L42.2,372.3 L42.5,375.7 L43.6,371.6 L43,373.4 L43,369.5 L42.7,371.4 L44.4,367.5 L44.1,369 L44.1,365 L44.1,367.4 L43.9,363.1 L44.7,364.9 L43.4,361 L45,363.3 L44.2,359 L43.9,361 L44,357.1 L44.3,358.9 L45.1,354.6 L44.5,357.4 L44.8,352.7 L45.2,354.8 L44.6,351.6 L45.2,352.9 L44.8,349.2 L45.1,351.3 L44.9,346.4 L45.6,349.1 L45.7,344.5 L46.4,347 L45.9,342.6 L46.7,344.8 L46.6,340.3 L46.2,342.6 L45.9,338.6 L46.8,341.4 L47.2,337.1 L46.1,338.5 L46.2,334.5 L47.5,337.2 L46.5,332.3 L46.7,334.6 L47.6,331.1 L46.6,333.1 L47,328.8 L47.6,330.8 L46.7,326.7 L47.6,328.6 L47.3,324.4 L48.7,326.4 L48.1,322.9 L47.9,325.1 L48,320.8 L49.8,323.3 L50.2,320.2 L50.2,322.8 L49.7,318.7 L50.7,321.7 L50.4,317.4 L52,320.3 L51.6,316.9 L51.8,318.8 L52.6,315.1 L52.7,317.4 L53.2,313.9 L52.7,317 L53.9,313.3 L54.7,314.9 L54,311.4 L54.8,314.2 L55.3,310.5 L55,313.9 L54.9,311.8 L56.5,316 L56.8,313.8 L56.3,317.4 L57.8,315.8 L57.5,318.8 L58.3,317 L57.8,320.6 L58.6,318.2 L58.6,322.7 L58.5,320.3 L58.8,323.5 L60.4,321.4 L59.7,325.2 L60.4,323 L61.5,327.4 L61.5,325.3 L61.5,328.4 L62,326.4 L61.6,328.2 L62.7,324.9 L62.9,326.9 L63.3,322.5 L62.7,324.4 L62.9,319.7 L63.1,322 L63.5,318.2 L63.2,320.5 L62.2,315.8 L63.5,318.1 L63.4,314.1 L62.9,316.1 L62.7,312 L63.9,313.9 L63.9,309.4 L64.6,311.5 L64.5,307.7 L63.3,309.7 L63.7,306.2 L64.4,308.2 L64.1,303.2 L64.9,305.2 L65.3,301.5 L65.5,303.8 L65.3,299.7 L65.6,302 L66,298.5 L66.2,301.3 L65.3,298.7 L65.6,300.8 L66.1,298 L67.5,301 L67.3,297.6 L67.4,300.7 L68.6,297.7 L67.9,301 L69.2,297.5 L69,300.4 L69.7,297.5 L69,299.8 L70.8,297.4 L70.5,299.6 L70.4,297.2 L71.1,299.3 L70.8,297 L71.4,299.5 L71.3,298.1 L72.1,301.5 L72.7,300.1 L72.2,303.5 L71.6,301.1 L72.1,305.2 L72.6,304.1 L73,307.6 L72.2,306.3 L73.4,309.6 L73.6,307.9 L73.9,311.7 L72.8,310.2 L73.9,314.1 L73.2,312.4 L73.9,316.6 L73.8,314.6 L72.9,317.6 L73.2,316.6 L73.1,320.3 L74.8,318.5 L75,322.2 L74.8,319.7 L75.1,323.8 L74.1,322.2 L75.3,325.9 L74.2,323.9 L74,328.3 L74.5,326.2 L75.7,330.1 L75.4,328.2 L75.8,330.6 L76.1,326.6 L75.3,328.1 L76.1,324.4 L75.4,326 L76.4,322.2 L76.5,324.2 L76.3,320.6 L76.8,321.7 L76.6,317.9 L77.1,319.7 L76.5,315.7 L77.4,318.5 L77.9,314.1 L78.1,316.3 L77.3,312.1 L77,313.9 L78.7,310.4 L78.2,311.5 L77.5,307.7 L77.9,309.3 L77.9,305.6 L78.9,307.2 L78.4,303.2 L78.5,305.8 L79,301.3 L79.5,304 L79.6,299.9 L79.1,301.1 L80.4,298 L79.1,300.1 L79.7,295 L79.7,297.4 L80.1,292.9 L81,295.5 L81.5,290.8 L81,293.3 L81.4,289.6 L82.3,291.2 L82.5,287.3 L82.2,289 L82.7,285.4 L82.2,286.9 L82,282.7 L83.4,284.7 L83.4,280.6 L82.9,282.5 L84.5,278.8 L83.7,280.1 L83.5,276.9 L85.1,280.3 L85.4,276.9 L85.3,281.5 L85.5,278.6 L86.6,282.5 L86.9,279.5 L86.9,282.9 L87.7,280 L86.8,284.5 L86.9,281.9 L88.3,284.8 L88.2,282.3 L87.7,286.3 L88.5,283.6 L89,287.3 L90,284.7 L89.2,287.8 L90.1,286 L90,289.3 L91.4,285.9 L92,291 L91,288.9 L91,292.6 L91.4,290.5 L91.2,295.1 L91.2,292.7 L92.4,297 L91.4,295 L92.4,298.2 L91.3,296.7 L92.1,300.4 L91.4,299.1 L92.8,302.8 L93.2,300.5 L93.3,304.4 L92,303.4 L92.5,306.8 L91.9,304.9 L92.1,308.8 L92.5,306.6 L92.9,310.8 L92.3,309.1 L93.5,313.3 L94.1,310.7 L93,314.7 L94,312.8 L93.7,317.6 L93.8,315.4 L93.2,318.7 L94.2,316.8 L94.8,321.2 L94.4,318.8 L94.8,323.4 L94.2,321.3 L93.8,325 L94.8,322.8 L94.7,327.3 L94.4,325.5 L95.4,329.4 L95.7,327.9 L94.7,331.5 L95,329.1 L95.9,334.1 L95.7,332.1 L95.8,335.7 L95.8,333.8 L96.3,338.1 L95.4,335.4 L96,339.7 L97.1,337.1 L96.8,341.4 L97.5,340.1 L96.7,344.2 L96.7,342 L98,346.3 L97,343.9 L97.1,347.5 L97.2,345.3 L97,349.6 L97.4,348.4 L98.2,352.2 L98.9,349.8 L99,353.4 L98.2,351.5 L98,355.8 L98.9,354.3 L99.1,357.6 L98.7,355.5 L98.7,360.6 L98.9,357.6 L100,362.4 L99.2,360.7 L100.4,363.9 L99.6,361.8 L101,365.8 L101.3,364.2 L100.4,367.9 L100.6,365.7 L100.5,369.9 L100.4,368.8 L101,372.9 L100.6,370.7 L102.3,375 L102.6,372.7 L101.6,377 L102,374.2 L102,375.9 L102.3,372.1 L103.4,374.5 L103.1,370.3 L103.3,372.4 L104.3,368.6 L104.2,370.8 L104.9,366.6 L105.4,368.6 L104.3,364.4 L104.7,365.7 L106.3,362.2 L106.4,363.7 L105.2,359.6 L106.9,362.6 L107,357.9 L107.4,359.5 L107.3,356 L106.9,358 L107.5,353.8 L107.9,355.6 L108.1,351.7 L109.5,354.3 L109.6,349.3 L108.9,352.3 L109.1,348.1 L109.8,349.9 L109.8,345.4 L110,348.1 L110.6,343.5 L111.1,346 L112,343.5 L111.1,347.7 L110.6,345.7 L112.1,350 L110.8,347.2 L111.5,352.3 L111.6,350 L112.1,354.2 L112,351.3 L112.6,355.7 L112,353.8 L112.3,357.7 L112.8,355.4 L112.8,359.5 L112.3,358.1 L113.1,361.6 L112.3,360.2 L112.8,363.5 L113.4,361.6 L113.5,366.4 L114.1,363.7 L114.4,368.1 L114.1,366.6 L114.6,370.1 L114,367.8 L113.8,372 L114.9,370.2 L113.6,373.8 L114.2,372.9 L115.2,376.1 L114.4,374.5 L114.9,378.4 L115.2,376.3 L115.2,378 L116.5,374.1 L115.1,376.3 L116.6,371.7 L115.7,373.7 L116.7,370.2 L117.8,372.5 L117,368.1 L117.8,370.4 L117.4,366 L117.5,368 L117.7,363.3 L118.9,365.8 L118.4,362 L119.4,364.1 L119.8,359.8 L120.9,361.7 L120.2,359.9 L119.9,364.1 L119.7,361.6 L120.7,365.5 L121,363.2 L121.3,368 L120.2,366.2 L120.8,369.6 L120.4,367.4 L120.6,372.3 L122,370.3 L122.1,373.8 L120.9,372.3 L120.7,376 L121.5,373.6 L122.4,377.6 L121.7,376.2 L121.4,379.9 L121.7,378 L121.9,381.8 L121.8,380.3 L122.6,384 L122.9,382.7 L123,386.5 L122.2,384.1 L122.7,388.5 L123.2,386.3 L123,390 L123.7,388.1 L123.3,392.7 L123,390.2 L123.9,394.4 L124.2,392.1 L123.5,397.4 L123.9,395.1 L124.4,398.7 L124.5,396.8 L123.5,401 L125,398.9 L124.5,403.4 L124.5,401 L124.8,405.5 L124.2,403.5 L125.4,407.2 L124.6,404.7 L125.8,409.3 L126.1,406.8 L125.8,411.1 L124.6,409.1 L126,413.2 L125.6,411.3 L125.3,415.7 L126,413.6 L125.3,417.6 L126,413.4 L126.1,415.9 L126.5,412.3 L127.5,414 L126.9,410.7 L127.5,412.9 L127.8,409.6 L128.8,411.9 L129.8,407.5 L129.3,409.3 L129.4,406.2 L130.9,407.8 L131.3,404.5 L130.7,406.5 L132,403.3 L131.7,405.2 L131.3,401.7 L133.1,404 L133,399.4 L132.2,402.4 L133.7,398.6 L133.5,401.1 L133.6,396.5 L133.7,399.3 L134.2,395.2 L134.8,398 L135.6,395.5 L135.7,399.5 L136.2,397.8 L135.9,401.7 L135.8,400.1 L135.6,403.8 L135.9,401.4 L136.6,406.3 L137.5,403.4 L136.8,407.3 L137.4,405.5 L138.2,409.5 L137.1,407.3 L138.3,411.9 L138.5,410.3 L138.4,414.1 L138.7,412.3 L138,416.1 L139.6,414.4 L138.2,417.6 L139.8,416.1 L139.4,420.7 L139.9,418.3 L140.3,421.6 L139.7,419.9 L139.7,423.6 L140.6,422.4 L141.6,425.8 L141.5,424.3 L141.7,428.2 L141.7,426.5 L141.1,430.3 L142.3,428.5 L141.5,432.3 L141.5,430.6 L142.5,434.5 L142.8,432.7 L141.9,435.9 L142.7,434.8 L143.2,436.2 L143.7,432.3 L143.6,434.7 L143.5,430.4 L143.2,431.8 L144.2,428.3 L143.1,430.8 L144,426 L143.9,427.8 L145,424.5 L144,426.7 L143.7,422 L144.4,423.7 L145.3,420.1 L143.8,421.9 L143.9,417.6 L145.6,420.4 L144.2,415.6 L144.8,417.8 L144.9,414 L144.7,415.9 L144.7,411.1 L144.7,414.2 L145.1,410.1 L146.2,411.6 L146.4,407.5 L146.2,409 L146.4,405.4 L147.1,406.9 L145.6,403.2 L147.2,405.3 L146.9,401.2 L146.5,403.3 L147,399.8 L146.5,401.5 L146.6,397.2 L146.7,399 L147.5,394.8 L148.2,397.1 L146.9,393.2 L146.8,394.7 L147.8,390.8 L147.3,392.6 L147.2,389.2 L148,390.6 L148.8,386.7 L147.9,388.7 L147.5,384.4 L148.9,386.6 L149,382.9 L148.2,384.3 L148.2,380.4 L149.1,382.8 L148.3,378.2 L149.2,380.4 L149.4,376.5 L149.1,378.3 L150.1,374.1 L150.7,376.1 L150.9,372 L150.8,374.9 L149.9,370 L151.5,371.9 L151.2,367.7 L150.8,370.7 L152.1,366.3 L151,367.9 L152.4,364.3 L151.7,366.1 L153,362.4 L151.5,364.7 L152.3,360.2 L153.7,361.8 L152.3,357.6 L152.7,359.7 L154.2,356.3 L154.3,357.8 L153.4,354.3 L154.1,356 L154,351.9 L154,354.3 L155.4,349.6 L155.4,351.4 L154.6,348.2 L154.6,350.4 L156.1,345.3 L155.7,347.3 L155.7,344.2 L156.7,345.5 L155.8,341.2 L155.9,344.2 L156.3,339.4 L156.1,342.1 L156.8,337.8 L157.5,339.7 L157,336 L157.7,337 L158.5,333.7 L157.4,335.3 L157.5,333.7 L158.6,337.5 L158.4,335.8 L158.9,340 L159.1,337.4 L159.4,341.3 L159.1,339.4 L159.9,343.7 L160.2,341.4 L160.2,345.8 L160.4,344.5 L161,348 L161.1,346.1 L161.3,350.3 L161,347.5 L161.1,352.6 L161.5,349.8 L161.9,353.8 L162.6,351.8 L163.4,356.8 L163.9,354.8 L163.1,357.9 L164,356.5 L164.2,360.8 L164.9,358.3 L165,360.8 L164,356.4 L164.3,358.6 L166,355.4 L166.1,356.9 L165.6,353.3 L165.6,355.8 L167.6,352.2 L167.5,354.4 L167.7,349.9 L168.2,351.9 L167.7,348.6 L169.4,350.5 L169.1,347.4 L169.9,349.1 L169.7,345.1 L169.3,347.8 L170.8,345.1 L170.1,349.3 L170.1,347.2 L170.8,351.6 L171.2,349.5 L171.1,353.7 L172.1,351.6 L171.5,355.5 L172.9,353.7 L172.5,358 L173.4,356.2 L172.3,359.8 L172.8,358.1 L173.1,362.9 L173.8,360.4 L174.1,364.6 L174.2,362.5 L174.2,364.5 L174.9,360.8 L174.9,362.2 L175.2,358.9 L174.6,360.3 L175.2,356.7 L174.5,357.9 L175.2,354.2 L174.3,355.9 L174.8,351.7 L175.4,354.3 L175.2,350 L176.3,352.4 L175,348.2 L176,349.6 L176.7,346.3 L175.9,348.2 L176.6,344 L177.2,346 L176.4,342.4 L176.9,343.8 L177,340.1 L176.2,341.4 L176.6,338.3 L178,339.9 L177,335.5 L177.9,337.3 L178.2,334 L178.8,335.3 L177.7,332 L178.8,334.1 L178.5,330 L178.3,331.9 L177.8,327.1 L179.3,330.1 L179.2,325.4 L179.9,327.3 L179,323.9 L179.1,325.9 L179.3,321.2 L180.2,324 L181.2,319.3 L181.7,321 L181,317.6 L181.7,319.7 L182.8,315.2 L183.3,317.7 L182.6,313.5 L183.6,315.9 L183.3,311.6 L184.1,313.2 L184.9,310.1 L184.9,311.5 L184.4,307.4 L185.3,310.1 L186.3,305.4 L186.7,308 L185.6,303 L187.1,306 L187.2,301.4 L186.4,303.5 L186.7,298.9 L187.5,301.5 L187.4,297.3 L188.6,299.2 L187.9,294.9 L188.2,297.1 L188.6,293.1 L189.7,295.3 L189.5,291 L188.7,293 L190.1,288.4 L189.2,290.8 L190,286.6 L190.5,288.4 L190.9,284 L191.9,285.7 L191.5,281.5 L191.9,284.1 L192.6,280.4 L192.9,281.9 L192.8,277.8 L193.2,279.1 L193.4,277.8 L194.4,282 L193.9,279.4 L194,283.9 L193.9,281.4 L195.3,286.3 L194.4,283.6 L194.6,288.2 L195.7,286.7 L195.9,290.7 L196.6,288.5 L197.3,292.3 L197.7,290.6 L196.3,293 L196.4,288.7 L197.7,290 L197.4,285.9 L197.6,288.2 L198,283.9 L197.7,286.5 L197.4,282.4 L198.7,284.8 L197,280.5 L197.4,282.5 L197.5,278.5 L198.6,279.8 L199.1,276.1 L199,278.5 L197.8,273.7 L198.3,275.7 L197.7,271.7 L198.7,273.8 L199.3,270.3 L198.7,271.4 L198.6,267.4 L199,269.5 L198.6,265.6 L198.7,268.3 L198.4,263.3 L199.5,266.1 L199.1,262.2 L198.9,263.8 L198.7,260.1 L200.2,262.1 L200.4,257.2 L199.9,260 L200.3,255.4 L199.9,257 L199.5,255.8 L200.3,259.1 L201.5,257.5 L201.3,262.1 L200.5,259.2 L202.1,263.4 L200.8,261.3 L202.3,266.1 L201.7,263.6 L201.4,267.5 L202.1,265.5 L201.7,270.4 L201.8,267.3 L202.4,272.3 L203.6,269.4 L203.2,274.2 L203.1,271.6 L203,276.5 L204.1,274.5 L204.9,277.9 L203.5,276.4 L203.6,277.8 L205,273.4 L205,276.4 L205.5,271.7 L204.9,273.6 L204.7,269.8 L204.9,272.1 L205.3,267.6 L205.9,269.9 L205.3,265.9 L206.4,267.3 L206.6,263 L206.2,266.1 L206.8,260.9 L206.8,263.7" fill="none" stroke="#000080" stroke-width="5.4" stroke-linejoin="round" stroke-linecap="round"/>
<path d="M1300,182.1 L1301.2,182.8 L1301.2,179.4 L1301,181.8 L1301.9,177.9 L1302.2,180 L1301.6,175.9 L1301.8,178.3 L1303.4,174.9 L1304.1,176.9 L1303.2,172.8 L1304.6,176.2 L1303.5,171.4 L1305.3,173.5 L1305.7,169.9 L1305.9,171.9 L1305.3,168 L1306.8,169.9 L1306,165.9 L1307,167.8 L1307.6,163.7 L1306.4,166 L1307.4,161.3 L1308.1,163.8 L1307.5,160.1 L1309.4,161.9 L1309.8,157.3 L1309.7,160.1 L1309.6,155.2 L1309.8,157.1 L1310.7,153.4 L1310.5,156.4 L1310.5,152.2 L1311.5,154.3 L1312,150 L1312.5,152.9 L1312.5,148.4 L1312.8,150.8 L1312.4,147.3 L1313,149 L1314,145.1 L1314.3,148 L1314.1,144.6 L1314.3,145.7 L1315.9,142.6 L1316,144.2 L1316.4,140.9 L1316.7,144.9 L1317.6,143.1 L1317.7,146 L1318.2,144.4 L1317.9,148.4 L1318.9,146.2 L1318.8,149.8 L1319,147.8 L1319.6,151.9 L1318.9,150 L1320.1,153.6 L1319.8,151.8 L1320.9,155.3 L1321.7,153.7 L1322.1,157.6 L1321.9,154.5 L1322.9,158.5 L1323.2,157.1 L1323.3,160.7 L1322.8,159 L1323,162.4 L1324.5,159.8 L1324.6,162.2 L1324.6,158 L1325,160.7 L1324.2,156.6 L1324.3,157.9 L1325.1,154 L1325.6,155.6 L1324.8,152 L1325.1,153.6 L1325.6,150.2 L1324.9,151.5 L1325.6,148.5 L1325.8,149.5 L1325.3,146 L1325.5,147.9 L1327.1,143.8 L1325.9,145.8 L1326.5,141.4 L1326,143.5 L1327.4,141.6 L1328.1,145.7 L1327.6,144.2 L1327.2,148.2 L1328.1,145.9 L1327.6,150 L1327.9,147.9 L1329.8,151.9 L1328.4,150.1 L1330,154.3 L1330.5,152.4 L1329.7,155.9 L1329.6,154.5 L1330.9,158.4 L1330.9,156.7 L1332.1,160.8 L1332,158.7 L1332.7,162.6 L1332.7,160.6 L1332.4,165 L1332.2,162.8 L1333.5,167.3 L1332.9,165.5 L1332.9,168.8 L1334,166 L1334.6,168.4 L1334.6,163.8 L1334.6,165.9 L1334.6,162.8 L1336,165.3 L1336.1,160.8 L1336.4,163.8 L1336.4,160.2 L1336.7,162.5 L1337.1,158.3 L1337.8,160.7 L1338,156.7 L1338.3,159.1 L1339.3,155.4 L1338.8,157.5 L1338.8,154.3 L1339.5,156.8 L1340.4,152.2 L1340.3,155.1 L1341.5,151.5 L1340.9,153.8 L1342.5,150.7 L1342,154 L1342.4,151 L1343.1,154.4 L1343.1,151.9 L1343,155.6 L1343.4,152.1 L1344.7,155.8 L1344.4,152.8 L1344.2,156.3 L1345.3,153.5 L1346,156.7 L1346.1,154.1 L1346.6,157.9 L1346.2,154.6 L1346.1,158.1 L1346.5,155 L1347.6,158.9 L1347.9,156 L1348.7,159.1 L1348.1,156.7 L1348.6,160 L1350,156.5 L1349.6,159.4 L1349.2,155.5 L1351.1,158.3 L1350.2,155.3 L1350.7,158.1 L1351.2,155.3 L1351.3,158 L1352.8,154.9 L1352,157.4 L1353,154.2 L1352.7,157 L1354.4,153.6 L1354.3,155.7 L1355,153.1 L1354.7,155.8 L1355.7,152 L1354.6,154.3 L1355.5,150.3 L1355.8,152.8 L1355.6,148.7 L1356.7,150 L1357.2,146.3 L1357.1,148.7 L1357.6,144.2 L1357.4,146.3 L1357,142.6 L1356.7,143.7 L1358.4,140.4 L1357.6,141.8 L1358.9,138.4 L1358.5,140.4 L1359.4,136.1 L1358,138.3 L1359.9,135.5 L1359.3,137.5 L1360.1,135.1 L1360.3,138.3 L1360.8,135.1 L1360.8,137.5 L1361.4,134.4 L1362.2,138 L1362.3,135.5 L1361.8,138 L1363.4,135.3 L1362.7,138.3 L1363.7,135.5 L1364.4,138.5 L1363.8,135.3 L1363.9,137.8 L1364.4,135.5 L1364.8,137.8 L1365.8,134.8 L1365.2,137.5 L1365.6,134.9 L1366.6,137.7 L1366.4,135.7 L1367,139.8 L1368.4,137.7 L1367.7,141.9 L1367.6,139.6 L1368.1,144.1 L1368.8,141.8 L1369.6,145.6 L1370.1,143.2 L1369.4,147.3 L1369.6,144.7 L1371.2,149.2 L1372,146.9 L1371.8,150.5 L1372.1,148.3 L1371.3,152.5 L1372.4,150.2 L1373.6,153.8 L1373.9,151 L1374.3,153.6 L1374,151.2 L1374.7,154.4 L1374.8,151.3 L1375.2,153.8 L1376.1,151.6 L1376.2,153.9 L1376.6,151.8 L1376.1,155.2 L1376.7,152.3 L1377.8,154.6 L1377.4,152.2 L1378,155.6 L1378.3,151.7 L1379.1,155.7 L1378.2,152.1 L1379,155.3 L1379.1,153.3 L1379.9,158 L1379.2,155.3 L1380.2,159.6 L1380.7,157.2 L1380.8,161.9 L1380.9,159.5 L1380.3,163.5 L1380.1,161.8 L1381.8,166.2 L1380.5,163.5 L1381,168 L1380.9,165.8 L1382.3,170.4 L1381.6,168.5 L1382.7,171.7 L1382,170.2 L1381.7,172.1 L1383.3,168.9 L1383.3,171.2 L1384.3,167.3 L1383.7,169.5 L1385,165.2 L1384.1,167.4 L1384.8,163.8 L1385.1,165.5 L1386.3,161.6 L1385.1,164.1 L1385.7,160.3 L1387.1,162.6 L1386.1,158.8 L1387,160.6 L1387.3,157.4 L1388,159.9 L1387.7,157.9 L1388.6,162.1 L1388.5,159.7 L1388.2,163.3 L1389.1,161.7 L1389.9,165.7 L1388.9,164.2 L1389.9,168.3 L1389.1,165.7 L1389.9,170.5 L1389.6,167.9 L1389.5,171.8 L1390.4,170.6 L1390.6,174.6 L1391.2,172.5 L1390.8,176 L1391.3,174.8 L1392.1,178.9 L1391,176.2 L1392.1,180.9 L1391.2,178.5 L1391.4,182.2 L1392.8,180.4 L1392.6,185.1 L1392.2,182.1 L1393.6,186.5 L1392.4,182.4 L1393,184.6 L1393.4,180 L1394.7,182.7 L1393.8,178.1 L1394.8,180.9 L1394.7,175.7 L1394.4,178.3 L1394.7,174 L1394.6,176.1 L1395,171.5 L1395.8,174.3 L1396.4,170.2 L1395.6,172.3 L1396.1,167.6 L1397.1,170.2 L1397.5,165.5 L1397.6,167.6 L1397.4,163.1 L1397.7,165.8 L1397.5,161.6 L1397.6,162.9 L1398.1,161.1 L1398.8,165.7 L1398.7,162.9 L1399.2,167.2 L1399.1,165.2 L1398.8,169.9 L1400.4,167 L1400.6,171.4 L1400.1,169 L1400.9,173.1 L1401.5,171.9 L1401.3,175.7 L1401.1,173.3 L1401,177.2 L1402.2,175.1 L1402,179.2 L1403.2,177.6 L1402.9,182 L1403,179.4 L1403.8,183.9 L1402.8,182 L1404.7,186.2 L1404.3,183.5 L1404.3,187.9 L1404.2,185.8 L1405.3,190.4 L1405.1,187.6 L1406,192.1 L1405.7,189.7 L1405.6,194.5 L1406.8,191.9 L1407.1,196 L1407.5,194.4 L1407.1,198.3 L1407.4,196.4 L1408.1,200.2 L1408.8,198 L1408.4,202.3 L1407.9,197.8 L1409.4,200.7 L1408.2,196.4 L1409.8,197.7 L1409.8,194.2 L1408.7,195.8 L1409.6,192.4 L1409,193.9 L1410.5,190.3 L1410.8,191.9 L1409.5,187.6 L1410.5,189.7 L1409.9,186 L1410.1,187.5 L1410.7,183.6 L1410.4,185.5 L1411.9,181 L1411.4,183.7 L1412.4,179.2 L1412,181.6 L1411.2,177 L1412.3,179.2 L1412.2,174.7 L1413.1,177 L1412.4,174.8 L1412.5,177.6 L1413.1,175.1 L1414.1,179.1 L1413.8,175.9 L1415.1,179.7 L1415.4,176.3 L1415.5,180.1 L1415.4,178.2 L1415.4,181.5 L1416.8,178.3 L1417.3,182.5 L1417.5,179.4 L1418,183.2 L1417.2,179.8 L1417.1,184.1 L1418.7,181.5 L1418.8,184.6 L1419,181.6 L1419.8,183.3 L1419.6,179.2 L1420.2,181.9 L1419.5,177.3 L1420.5,179.8 L1420.2,175.3 L1419.5,177 L1421,173.1 L1420.3,175.5 L1421.4,171.8 L1420.2,173 L1421.7,169.2 L1421.4,171 L1421.7,167.1 L1421.3,169 L1422,165.4 L1421.4,166.4 L1421.6,162.5 L1421.3,164.9 L1422.2,160.7 L1422.4,162.5 L1422.2,158.4 L1422.3,160 L1422.2,156 L1422.7,159.4 L1422.8,155.4 L1423.4,158.2 L1424.3,154.5 L1425.2,157.7 L1425,153.3 L1425.1,156.6 L1425.3,152.8 L1426.7,155.6 L1427.3,152.7 L1427.3,154.7 L1427.8,151.6 L1427.2,153.5 L1427.2,150.6 L1428.2,152.6 L1429.1,149.8 L1428.7,152.3 L1429.8,148.1 L1429.3,151.3 L1430.1,147.9 L1430.7,150.6 L1431.3,147.2 L1431.6,149.9 L1431.6,147.4 L1432.2,151.2 L1432.3,149.9 L1432.6,153.8 L1432.4,151.6 L1433.6,155.2 L1432.8,153.8 L1434.4,157.3 L1433.9,155 L1435.2,159.7 L1435,157.9 L1434.9,161.4 L1435.4,159.3 L1434.9,163.9 L1436.2,159 L1436.3,160.9 L1436.7,157.5 L1436.4,159.1 L1437.2,155.1 L1436.6,157.6 L1436.6,153.1 L1437.3,154.8 L1437.5,151 L1438.4,153.2 L1437.5,148.4 L1437.4,150.4 L1438,146.3 L1438.9,148.8 L1439.5,145.1 L1439.4,146.2 L1439,142.2 L1439.1,143.9 L1439.2,140.6 L1439.6,141.8 L1439.5,138.5 L1439.7,140.3 L1439.3,136.2 L1440.8,137.9 L1440.9,133.5 L1441,135.6 L1441.5,133.5 L1440.8,136.5 L1441.6,133 L1442.5,136.3 L1442.3,133.9 L1442.4,136.3 L1444,134 L1443.5,136.8 L1443.8,133.9 L1444.6,136.7 L1445.1,134 L1445.7,136.9 L1444.6,133.9 L1445,137 L1446.1,134 L1445.7,137.9 L1446.4,134.4 L1447.1,137.5 L1446.9,134.7 L1447.8,137.6 L1447.3,135.3 L1447.6,137.4 L1448.3,135.5 L1449.6,138.4 L1448.8,136.1 L1450.5,139.8 L1451,136.8 L1449.8,141 L1451.2,137.7 L1451.1,141.2 L1452.4,138.6 L1452,142.8 L1452.5,139.8 L1452.7,143.7 L1453.5,140.5 L1452.4,144.2 L1454.2,141.5 L1453.1,145.5 L1454,142.2 L1454.2,146.4 L1454.7,142.4 L1455.8,145.7 L1455,142.8 L1456.7,146.3 L1456.2,143.2 L1456.6,146.5 L1456.3,143.9 L1457.4,147 L1457,143.4 L1458.4,146.6 L1458,143.5 L1458.8,147.4 L1458.5,144.1 L1458.8,146.9 L1459.2,143.8 L1460.6,147.2 L1460.6,144.6 L1461.2,147.5 L1462.1,144.5 L1461,147.3 L1461.3,144.7 L1463.2,146.9 L1461.9,143.4 L1462.6,145 L1463.4,141.1 L1463.1,143.6 L1464.1,140 L1464.7,142.7 L1465,138.3 L1465,141.1 L1465.8,136.4 L1465.2,139.4 L1466.7,135.5 L1466.6,137.2 L1466.1,133.9 L1467.9,135.2 L1467.6,131.6 L1468.3,133.9 L1467.9,130 L1469.1,132.3 L1468.4,128.9 L1470.2,130.7 L1469.2,126.8 L1470,129.6 L1470.7,125.9 L1470,127.4 L1471.8,124.2 L1471.4,125.7 L1472.3,122.5 L1471.5,124.2 L1472.3,120.4 L1472.5,123.3 L1473.2,118.6 L1473.9,121.1 L1473.6,117.7 L1474.5,119.7 L1474.5,115.2 L1475.7,117.5 L1476,113.8 L1475.5,115.8 L1476.8,111 L1475.8,113.2 L1477.4,109.5 L1476.9,111.8 L1477.2,107.8 L1477.5,108.7 L1477.3,104.9 L1479.2,107 L1478.7,103.1 L1479,104.8 L1480.3,100.6 L1480.2,102.6 L1481.1,98.5 L1480.4,100.5 L1481.5,99.2 L1481.4,103.3 L1481.3,100.6 L1481.9,105.2 L1483,103.2 L1482.3,106.7 L1481.8,105.2 L1483.5,108.8 L1483.8,107.7 L1483.9,111.4 L1483.9,109.8 L1483.5,112.9 L1484.5,111.5 L1485.7,115 L1485.6,113.5 L1486.1,117.2 L1485.9,115.2 L1485.5,119.1 L1486,118 L1487.1,120 L1487.3,114.9 L1486.6,117.7 L1487.6,113.3 L1488.7,114.8 L1489,111.4 L1487.8,113.6 L1489.5,109.2 L1489.9,110.6 L1489.9,106.7 L1489.3,108.8 L1490.7,105.5 L1490.6,107.1 L1490.8,103.5 L1491.2,105 L1491.7,100.5 L1491.7,103.6 L1492.8,99.6 L1493,101.7 L1493.1,98.1 L1493,99.7 L1493.1,95.7 L1493.5,98.5 L1494.3,93.9 L1494.5,96.5 L1495.4,92.4 L1495.6,94.9 L1496.2,91.2 L1496.2,93 L1496.4,88.7 L1496.4,90.9 L1496.8,88.8 L1496.7,93.2 L1498,90.7 L1497.9,95 L1498,93.6 L1497.4,97.1 L1498.4,96 L1497.9,99.7 L1497.4,98 L1498.3,101.4 L1499.1,100.1 L1499.4,104.1 L1498.6,101.6 L1499.3,105.8 L1499,104.1 L1498.4,107.8 L1499.3,106.1 L1498.4,110 L1498.6,107.9 L1498.9,111.8 L1499.8,109.8 L1500.1,114.3 L1500.2,112.1 L1499.4,115.6 L1500.6,114.1 L1500.5,117.6 L1499.6,116.8 L1500.6,120.6 L1499.8,118.8 L1501.3,121.9 L1500.2,119.8 L1501.5,124.9 L1501.4,121.4 L1502.5,125.6 L1501.7,122.1 L1502.6,126.2 L1503.2,123.2 L1502.2,125.6 L1503.3,123.1 L1503.7,126.9 L1504.1,123.5 L1504.7,127.8 L1505.5,124.8 L1505.7,128.5 L1505,124.9 L1506.3,128 L1506.4,126.3 L1506,128.6 L1507.2,126 L1507.1,130.1 L1507.1,127.2 L1508.3,130.7 L1507.8,125.8 L1509.1,127.9 L1509.4,124 L1510.1,126.3 L1509.1,121.8 L1510.2,124.7 L1510.6,119.9 L1511,122.5 L1510.6,118.3 L1512.1,119.9 L1512.4,116.6 L1512.2,118.4 L1511.9,115 L1512.2,116.3 L1513.8,114.2 L1513,118.2 L1513.3,116.7 L1513.3,120.1 L1513.7,117.6 L1514.9,122.1 L1514.7,119.2 L1515.9,124.2 L1515.3,121.6 L1517.1,125 L1517,123.9 L1517.4,127.9 L1518,125.9 L1518,129.2 L1518,127.2 L1517.7,131.6 L1519.2,129.6 L1519.9,134 L1518.9,132.3 L1519.1,136.5 L1519.6,134.4 L1521,137.4 L1521.6,134.3 L1521.6,136.1 L1522.1,132.5 L1521.8,135.5 L1521.8,131 L1522.8,133.4 L1523.3,129.4 L1523.5,130.6" fill="none" stroke="#000080" stroke-width="5.4" stroke-linejoin="round" stroke-linecap="round"/>
<path d="M153.2,653.5 L153.7,649.2 L153.7,651.5 L152.8,647.5 L154.4,649.1 L154.6,645.6 L154,646.5 L154.3,643 L153.7,644.3 L154.3,640.5 L155.2,642.1 L155.5,639.1 L155.3,642.1 L154.5,640.6 L155,644.5 L156.3,642.9 L155.4,647.5 L155.9,645.4 L155.5,649.7 L156.4,645.2 L156.8,647 L156,643.9 L155.7,644.8 L156.1,641.5 L155.7,643.3 L156.3,639.7 L157.1,641.1 L156.4,637.5 L157.1,638.6 L157.6,635.9 L157.3,637.3 L156.2,633 L156.9,635 L156.4,631.7 L156.7,633.3 L156.8,629 L158.1,631.2 L157.2,627.3 L157.6,629 L157,624.8 L158.2,629.1 L157.1,626.7 L157.3,630.7 L158.2,628.9 L157.9,633.4 L158.3,631.6 L158.1,634.7 L157.8,633.8 L158.9,637.6 L158.1,636 L159.6,639.2 L158.7,637.9 L159.2,641.6 L159,637.7 L158.4,639.6 L158.5,635.5 L159.8,636.7 L159.7,632.9 L159.6,635.2 L158.9,631.3 L159,633.1 L159.3,629.1 L160.5,630.9 L160.5,627 L159.8,628.7 L159.9,625 L159.8,626 L160.2,623.2 L161.4,626.3 L161,623.7 L160.7,625.9 L161.9,624.2 L161.3,628.6 L162.1,626.6 L162,630.7 L161.6,628.7 L161.5,632.6 L162.4,630.9 L161.7,635.2 L162.3,633.2 L161.4,637 L161.9,635.3 L162.3,639.4 L162.7,637.3 L162.3,641.4 L163.2,637.2 L162.8,639.4 L163.9,635.1 L164.4,637.3 L163.8,635.3 L163.4,639.3 L164.7,637.5 L164.5,641.4 L164.7,640 L164.9,643.5 L164.9,642 L165,645.9 L165.1,643.9 L164.3,647.5 L165.1,646.1 L164.9,648 L165.6,644.6 L165.5,645.5 L164.9,642.5 L165.4,643.3 L165.4,640.5 L165.9,641.4 L166.2,637.8 L165.8,639.9 L165.5,635.9 L166,637.3 L165.9,633.4 L166.7,634.6 L167.5,631.6 L167.8,632.4 L168.3,628.2 L168.8,632.3 L168.9,630.7 L168.3,634.2 L168.7,632.9 L169.4,637.1 L168.9,635.3 L169.5,638.3 L168.3,637.2 L169.2,640.6 L169.3,639 L169,643 L168.9,641.8 L170.2,645.1 L170.2,643.3 L169.8,645 L170.6,641.6 L169.8,643 L170.8,639.5 L169.9,641 L169.7,637.3 L170.4,638.8 L171.1,635 L170,636.9 L170.6,632.8 L171.5,634.5 L170.8,631.4 L172,634.6 L171.5,633.3 L171.6,637 L171.8,635.8 L171.9,638.9 L171.5,637.7 L171.2,641.2 L171.5,639.8 L172,643.4 L170.9,642 L171.6,645.9 L172.4,643.9 L171,647.9 L171.7,646 L172.2,649.9 L171.9,647.8 L171.8,651.8 L172.7,648.5 L172,650.1 L171.8,645.8 L173,647.6 L172.5,643.8 L173.7,645.3 L173.1,641.9 L173.3,643.3 L172.9,639.8 L174.2,641 L173.4,637.4 L174.5,639.5 L173.6,637.5 L175.5,641.8 L175.4,640.1 L176,643 L176,641.2 L176.4,642.8 L175.9,639.1 L175.9,641.1 L176.5,637.6 L177.1,638.4 L176.5,635.2 L176.7,636.2 L177.7,632.7 L178.4,634 L177.9,630.9 L178.5,633.6 L179.5,631.5 L178.4,634.5 L179,631.9 L179.9,635.4 L180.4,632.6 L180.1,634.3 L180.3,630.3 L181,631.7 L180.7,628.5 L181.8,629.6 L181.9,626 L181.1,627.9 L181.4,626.6 L182.4,629.7 L183.1,628.5 L182.5,632.5 L182.2,630.5 L182.4,631.9 L183.9,628.4 L182.8,629.7 L184,626.2 L183.8,627.5 L183.6,624.4 L183,625.6 L183.7,622.2 L183.4,623.2 L184.2,619.7 L184.2,621.4 L184.4,617.7 L184,619.3 L184.3,615.7 L183.4,616.6 L183.7,616.1 L185,619.3 L185,618.3 L184.7,621.9 L185.1,620.1 L185,623.4 L184.7,622.6 L185.3,625.9 L186.2,624.8 L185.4,628 L185.5,626.9 L185.9,628.8 L186,625.4 L186.9,628.4 L187.8,624.7 L187.8,627.5 L187.6,623.8 L188.3,626.3 L189,622.8 L188.3,623.5 L188.4,620.7 L188.7,622.3 L188.8,618.3 L189,619.5 L189.5,615.8 L188.7,617.3 L189.6,613.5 L189.6,615.4 L190.2,612.3 L188.8,613.6 L189.7,610.9 L190.3,613.4 L190.6,610.2 L190.3,612.1 L191.8,608.7 L192.2,609.7 L191.4,606.7 L191.9,607.3 L192,604 L192.4,606.5 L192.4,604.4 L192.9,607.9 L193.6,605.7 L193.5,608.7 L193.9,606.7 L195.6,608.3 L195.9,604.8 L195,606 L196.2,602.2 L196.1,606.1 L196.7,604 L196.1,608 L197,606.7 L195.9,609.9 L196,608.2 L197.2,612 L196.2,611 L196.4,613.8 L196.8,612.6 L196.6,615.9 L197.7,615.1 L197.3,618 L197.9,616.9 L198.4,619.9 L199.1,616.4 L199.5,618.1 L199.5,614.2 L199.2,616.1 L199.7,611.6 L200.1,613.8 L199.5,609.6 L199.9,611.1 L199.6,608.1 L200.1,609.5 L200.5,607.8 L201.6,610.6 L200.8,609.1 L201.3,611.7 L202.9,609.5 L202.6,611.2 L202.4,607.9 L202.4,608.9 L202.9,605.4 L203.2,606.9 L203,603.9 L203.4,605.1 L203.9,601.2 L202.7,602.9 L204.1,599.5 L203.5,600.9 L204.1,596.9 L203.9,599.4 L204.3,595.5 L204.9,596.4 L204,592.2 L204.3,594.1 L205.3,589.8 L205.2,591.5 L205.1,588.4 L205.6,589.5 L206,586.3 L205.4,587.3 L206.5,583.6 L206.4,585.6 L205.8,582.2 L206.5,583.4 L205.3,580.1 L205.5,581.5 L206.9,578 L206.8,579.1 L206.7,575.2 L206.6,577.5 L206.3,574 L206.6,575.2 L206.2,571.5 L206.5,572.5 L206.5,569.5 L206.9,571.1 L207,568.9 L207.9,573.5 L207.9,571.4 L207.9,575.5 L207.9,573.6 L208.6,577.4 L208.2,576.3 L208.1,579.4 L209.2,577.8 L209.6,581.6 L210.2,580.5 L210.1,583.5 L210.4,582.2 L210.9,586.5 L210.7,582.1 L211,584.1 L210.3,580.2 L211.6,581.5 L212,578 L211.2,579.1 L211.4,576.2 L212,577.9 L212.7,573.7 L212,574.9 L212.7,571.5 L212.9,573 L213.4,569.7 L212.7,570.7 L213.4,566.9 L212.9,568.9 L214.1,565.4 L213.2,566.7 L214.6,562.6 L214.7,564.4 L214.5,560.7 L215.5,562.1 L214.7,558.5 L216,559.8 L214.8,556.8 L215.9,558.1 L215.5,554.6 L216.4,555.9 L216.8,551.9 L216,553.6 L217.4,549.5 L216.8,551.8 L217.5,547.3 L217,549.5 L218.1,545.6 L217.1,546.8 L217.4,543.8 L217.6,545.1 L217.7,541 L218.9,543.1 L219.4,540 L220,543.3 L219.9,539.7 L219.5,542.4 L219.8,540.5 L220.4,543.8 L221,542.1 L220.1,545.9 L220.9,544.5 L220.3,548.1 L220.8,546.3 L221.1,550.6 L221.9,549 L221.7,552.5 L221,551.1 L221.4,554.2 L221.9,552.4 L221.4,556.2 L221.6,554.7 L222.2,558.6 L221.5,557.1 L222.4,560.6 L221.3,559.1 L221.6,562.9 L221.5,561.4 L221.6,564.8 L223.1,563.2 L222.2,567.3 L221.8,565.5 L223,568.5 L223.1,567.6 L221.9,570.9 L222.7,569.7 L222.9,572.8 L222.5,571.2 L222.9,575.3 L222.5,574 L223.9,577.6 L223.6,574.5 L223.7,576.2 L224.2,572.5 L225.3,574.7 L225.2,571.6 L224.6,573.3 L225.6,569.4 L226.6,572 L226.2,567.8 L226.9,572.3 L226.1,570.1 L226.7,574.5 L227.7,572.7 L226.9,575.9 L227.1,574.7 L227.6,577.8 L226.9,576.7 L226.9,580.1 L228.3,578.3 L227.3,581.9 L228.5,580.3 L228.2,584.1 L227.8,582.4 L229,586 L227.9,585 L228.2,588.8 L228.5,586.7 L228.3,590.7 L229.7,588.9 L228.4,592.4 L229.4,591.3 L229.1,594.8 L229.6,592.8 L229.2,597 L229.3,593.2 L230.2,594.5 L229.9,591 L229.3,593 L230,589.1 L230.5,590.9 L229.7,587 L229.8,588.4 L230.4,585.4 L230.4,586.4 L231.1,582.4 L230.8,584.4 L231.4,580.3 L231.9,582.8 L231,579 L232.1,579.8 L231.5,576.3 L231.7,578 L232.4,574.6 L232,576.3 L231.4,572.5 L232.1,574 L231.7,570.3 L231.6,571.4 L232.2,568.5 L233.3,569.5 L232.3,565.8 L233.2,567.4 L233.4,563.9 L233.1,567 L233.2,564.7 L234.6,567.3 L235,565.3 L234.1,567.4 L235.4,565.4 L234.6,567.9 L236.3,566 L236.7,568.3 L236.4,567.7 L236.9,571.1 L236.9,569.7 L237.6,572.7 L236.4,571.4 L236.7,574.9 L237.5,573.6 L238.4,577.7 L237.3,575.8 L238.7,579.2 L238.8,578.3 L238.3,581.3 L239.2,580.2 L239.6,583.9 L238.6,582.7 L239,586.5 L239.2,582.8 L239.7,583.5 L240.1,580.1 L240.7,581.4 L240.2,578.1 L241.3,579.6 L241.4,575.5 L241,577.2 L241.8,573.7 L242.7,575.3 L242.6,571.7 L243.1,573.4 L242.6,571.4 L242.9,573.9 L244.3,572.2 L244.3,575.2 L245.2,573.3 L245.2,575.8 L244.5,573.7 L246.1,577 L245.2,574.3 L245.8,578.6 L246.4,577.1 L246,580.3 L245.6,579.4 L246.6,582.5 L246.9,581.4 L246.1,584.3 L247.2,582.8 L247.2,586.7 L246,585.2 L246.3,588.3 L246.9,587.4 L246.3,590.8 L247.7,588.8 L247,592.5 L247.5,591.7 L247.3,594.6 L248.1,593.4 L247.2,596.8 L247.5,595 L247.4,598.8 L247.6,597.1 L247.5,601.3 L248.4,599.8 L248.3,603.3 L247.3,602.1 L248.7,605.3 L247.9,603.3 L248.2,607.4 L247.8,605.6 L247.9,609.4 L248.8,607.8 L247.8,611.2 L248.8,609.7 L247.9,614.1 L248.1,612.3 L248.1,615.6 L249,613.7 L248.3,617.9 L248.3,616 L248.6,619.6 L248.4,618 L248.8,620 L249.5,615.9 L250.3,617.5 L251,613.4 L250.4,615.2 L251.7,612 L251.3,613.1 L252.5,609.8 L252.3,611.2 L252.8,607.8 L253.2,610.8 L253.2,609.2 L252.7,613.4 L253.2,611.6 L253.4,615.1 L253.5,613.4 L253.8,616.8 L253.4,616.1 L254,619.5 L254.2,618.1 L253.9,621.3 L253.3,620.1 L254.8,623.8 L253.8,621.5 L254.6,625.4 L254.7,624.2 L254.2,627.1 L255,625.9 L255.2,629.7 L254.9,628.3 L255.5,631.6 L255.4,629.9 L255.3,634 L254.8,632.5 L256.1,635.6 L255,634.8 L256.2,637.6 L255.8,636.5 L256.5,640 L256.1,639 L256.6,642.4 L256.4,640.2 L256.5,644.4 L257,642.5 L255.7,646.7 L257.4,645 L256,648.2 L256.2,646.9 L256.2,650.2 L256.2,648.9 L256.7,652.7 L257,651.3 L258,655 L257.6,653.3 L257.3,656.6 L257.4,655.6 L257.5,659 L258,656.8 L258.1,661.1 L258.5,658.8 L258.5,662.8 L258.3,661.2 L258.8,665.2 L258.2,663.7 L258.1,666.8 L258.7,665.2 L258,669.1 L259.2,667.7 L258.1,671.3 L258.6,670 L258.6,672.8 L258.4,671.8 L258.5,674.8 L259.3,673.3 L259.8,677.2 L260,676.2 L258.9,679 L258.8,677.8 L260,681.5 L260.2,680 L260.5,683.7 L260,682.4 L259.9,685.6 L260.6,682.3 L259.9,683.9 L259.6,680 L259.9,681.7 L260.6,678.3 L260.9,679.4 L260.4,675.5 L261.2,677.2 L261.1,674.2 L261,674.9 L261.3,671.3 L261.3,672.8 L261.2,669.7 L261.2,670.9 L261,667.6 L260.8,669.3 L261.2,665.7 L261,666.9 L262.5,663.6 L261.2,664.9 L262.7,661.8 L261.8,662.7 L262.4,659.3 L261.6,661.2 L262.1,657 L262.4,659.2 L261.8,655.4 L262.3,656.5 L263.2,653.1 L262.6,654.7 L263.5,650.9 L262.9,652.7 L263.3,649 L263.1,650.2 L263.2,646.5 L263.1,648.3 L263.6,644.7 L263,646.3 L264,643.2 L263.1,644.6 L264.5,641.1 L263.3,642.4 L263.7,638.4 L263.4,640.1 L263.7,636.7 L264.6,638.1 L265.2,636.2 L265.1,640.6 L264.7,638.8 L265.3,642.5 L265.3,640.5 L266,644.9 L267.2,642.6 L266.7,647.1 L268,645.6 L267.9,649.1 L267.5,647.5 L267.1,650.9 L268.4,649.5 L267.3,653.1 L267.7,651.3 L267.8,654.9 L267.2,653.2 L268.2,656.9 L268,655.5 L268.1,659.6 L268.6,657.8 L267.9,661.3 L267.7,659.2 L267.6,663.3 L268,661.7 L267.7,665.1 L269.3,663.5 L268.1,667.3 L267.9,666.2 L268.2,669.9 L268.4,668.1 L268.1,671.1 L269.6,669.7 L269.6,673.9 L269.4,672.2 L268.5,675.4 L268.4,674.3 L269.5,677.6 L268.4,676.3 L269.8,680 L269.7,677.9 L270,681.8 L269.2,680.1 L269.1,683.3 L269.1,682.3 L269,685.4 L269.2,684.4 L270.4,687.9 L270.3,684 L270,685.7 L269.8,682.4 L270.3,684.1 L270.6,680.4 L269.7,681.2 L270.4,678.4 L269.6,679.5 L270,676.3 L270.8,677.7 L270.3,673.8 L270.3,676 L270.2,671.8 L271.2,673.7 L271,669.5 L271.3,671.6 L270.5,668.1 L271.2,669.4 L270.7,665.5 L271.2,667.3 L271.5,663.4 L271.2,667.4 L271.8,665.6 L271.3,669.2 L271.7,667.8 L272,671.1 L271.7,669.9 L271.4,673.2 L272.6,672.5 L271.9,675.5 L271.2,674.3 L271.5,677.6 L272.8,676.6 L271.9,680 L272.4,678.7 L271.8,681.7 L272.9,680.4 L272,684 L272.4,682.8 L272.7,686.3 L272.5,684.5 L273,688.6 L272.8,687 L272.7,690.4 L272.4,688.5 L272.5,692.4 L273,690.6 L273.5,694.6 L273.2,692.6 L272.5,696.6 L273.2,695.3 L273.5,698.3 L273.1,697 L273.5,700.9 L273.1,698.6 L273.2,702.8 L274.1,701.3 L273.7,705.2 L272.7,702.9 L273.7,706.9 L274,704.9 L273,708.9 L273.8,707.2 L274.4,711.3 L274.2,709.9 L273.6,713.5 L274.5,711.3 L273.6,715.5 L274,713.4 L274.2,717.6 L274.3,715.2 L274.4,718.6 L275,716.3 L274.4,719.8 L275.2,717.1 L275.1,719.7 L276.9,718 L275.9,719.7 L275.9,715.6 L276.5,717.7 L276.4,713.8 L276.1,715.1 L275.7,712 L276,713 L277,709.1 L276.4,710.9 L276.4,707.4 L276.7,708.7 L276.9,705.7 L276.3,707.3 L276.3,703.4 L277.4,705 L277.6,701.5 L277.8,702.4 L277.8,699.3 L276.4,700.6 L278,697 L277.7,699.1 L276.6,695.3 L277.3,697.1 L278.1,693.4 L278.3,694.7 L277.2,691.4 L277.5,692.6 L277.6,689.1 L278.4,690.5 L277.5,686.6 L277.4,688.4 L277.2,685.1 L278.7,686.5 L278,682.6 L278.3,684.3 L277.9,681 L277.4,681.9 L278,679.1 L278.5,680 L277.9,676.7 L278.3,677.8 L279,674.5 L277.9,677.7 L279.3,676.5 L278.5,680.5 L278.3,678.3 L279.9,682.5 L278.6,680.9 L280,684.6 L279.2,683.2 L279.1,686.6 L279.5,685.1 L280.8,689.1 L280.3,686.8 L279.8,691.2 L281.2,689.2 L281.4,692.7 L281.7,691.5 L281.7,695.3 L281.9,693.2 L280.7,696.9 L281.8,695.1 L282,698.7 L281.6,697.8 L281.5,701 L282.4,698 L282.4,699.6 L283.8,696.1 L283.9,698.5 L283.1,694.2 L283.5,696.1 L284.9,692.7 L285.1,694.7 L285.6,691.4 L285.1,692.8 L285.4,690.2 L287.1,693.7 L286.5,691.6 L286.7,695.3 L287.4,693.7 L288.4,697.3 L287.4,695.2 L288,698.9 L288.6,697.2 L288.8,700.7 L289.5,698.9 L290.1,702.4 L290.9,700.8 L290.9,704.8 L290.9,702.8 L291.4,706.8 L290.6,705.1 L290.8,708.2 L291.9,707.4 L291.4,710.4 L291.3,709.2 L292.1,713 L292.8,711.1 L293.1,714.9 L293.8,714 L293.5,717 L293.4,714.4 L294.2,718.2 L293.8,715.6 L294.4,719.2 L295.5,717.3 L295,720.1 L296.5,718 L296.1,721.4 L296.7,719.6 L296.1,722.1 L297.1,720.9 L297.8,724.7 L297.7,722.6 L297.3,726.6 L297.4,725.3 L298,728.9 L297.1,726.8 L297.8,731.2 L298,729.3 L298.2,732.7 L297.6,731.3 L298.1,734.8 L298.9,733.4 L299,737.2 L298.1,735.5 L298.3,739.6 L299.2,738.1 L298.3,741.6 L299.6,739.9 L300.1,743.3 L299.8,740 L299.8,741.2 L299.4,737.7 L300.1,739.7 L300.3,735.6 L300.6,737.2 L300.3,733.7 L300.9,734.8 L300.1,731.6 L300.8,733 L301.4,729.1 L301.8,730.5 L301.3,726.7 L301.9,728.4 L302.5,725.2 L302.1,726.7 L302.9,722.9 L303,724.2 L303.5,720.6 L303.3,722.1 L304.1,718.5 L303.5,719.5 L304.2,716.6 L304.7,717.3 L303.9,713.5 L304.7,715.8 L304.7,712.1 L305,713.8 L305,709.3 L306.4,711.4 L305.7,707.3 L306.9,709.1 L306.1,705.2 L307.5,706.9 L306.5,703.4 L307.5,704.2 L306.7,701 L307.4,702.4 L307.3,698.6 L308.7,700.7 L308.9,697.9 L309.6,700.2 L309.7,697.1 L310.4,699 L309.6,696 L311.2,698.1 L311.6,695.5 L311.9,698.7 L311.5,696.7 L312.5,699.4 L312.3,697.2 L312.5,700.3 L313,697.9 L314.2,701.1 L313.3,698.6 L314.5,701.2 L314.4,698.8 L314.5,702 L314.7,700 L315.6,702.6 L316.5,700.7 L316.9,703.1 L316.1,702.2 L316.2,705.9 L316.4,703.6 L317.6,707.8 L316.4,706.2 L316.6,709.6 L317,708.6 L317.7,712 L317.2,710.7 L317.1,713.8 L317.8,713 L318,716.1 L318.7,715.1 L319.1,719 L319.5,717.4 L319.8,720.8 L320,719.4 L319.8,722.8 L320.4,721.7 L320.9,725.6 L320.6,724.4 L320.6,727.7 L321.1,726.2 L320.9,730.1 L322.6,728.2 L322.7,732.1 L322.9,729.5 L323.6,733.2 L323.5,730.8 L323.9,734.6 L323.9,732.4 L324.5,736.3 L325.7,733.4 L326,736.7 L324.8,735.7 L326.2,739.3 L325.5,738.2 L325.7,741.1 L325.8,739.7 L326.1,743.3 L326.9,742.5 L327.5,746 L327.8,744.1 L327.7,747.8 L327.5,746.6 L327.6,750.6 L327.9,748.4 L328.6,752 L328.3,750.9 L329.5,754.5 L329,753.4 L329.7,756.9 L330.8,755.4 L330.1,759.2 L330.6,755.9 L330.6,756.7 L331.1,753.1 L331.6,755.1 L330.9,751.2 L331.3,752.5 L331.4,749.1 L331,750.6 L332.2,746.8 L331.5,748.2 L332.1,744.7 L331.7,746.3 L332,744.6 L332.9,748.3 L332.5,746.8 L332.8,750.3 L332.3,748.6 L332.3,752.8 L332.6,751.1 L333.1,754.5 L332.8,752.8 L332.7,756.5 L333.9,755.5 L333.2,759.3 L334.6,757.7 L334.3,761 L334.9,759.5 L334.9,763.4 L333.8,761.8 L335,762.9 L334.3,759 L335.9,761.2 L334.7,757.1 L336.5,759.1 L336.3,755.2 L336.4,757 L336.5,753.3 L336.2,754.9 L337.3,750.3 L336.8,753.2 L338,751.4 L338,753.9 L338.8,751.6 L339.1,754.7 L339.1,752.6 L339.4,755.2 L339.7,752.6 L340.6,755.6 L340.7,753.4 L340.6,757 L341.7,755.5 L341.3,758.6 L341.2,757.1 L342,760.9 L342.2,759.5 L342.2,762.8 L341.4,761 L342.2,764.7 L342.8,763.5 L342.6,767.6 L342.3,765.5 L342.8,769 L342.9,767.2 L343.3,771.1 L343.7,769 L343.5,772.3 L343.9,769.7 L344.3,773.4 L344.6,771.2 L345,773.6 L346.2,771.3 L345.9,774.5 L346.9,772.9 L346.1,776.7 L346.8,775.7 L346.6,778.9 L346.8,777.8 L347.8,780.9 L348.6,779.1 L348.5,782.9 L348.9,781.8 L349.3,785.2 L349.3,783.4 L349.7,787.5 L349.4,785.9 L349.8,789.5 L349.7,787.6 L350.4,790.9 L351.7,789.6 L350.8,792.3 L351.5,790.9 L352.1,794.8 L352.5,793.1 L352.5,794.1 L353.5,790.7 L352.3,792.2 L353.5,788.9 L353.6,790.7 L352.8,786.5 L353,788.1 L354,784.5 L353.5,786.3 L354.3,783 L354,784.9 L353.6,780.3 L355,782.8 L354.1,779 L354.8,780.5 L355.9,777.6 L356.2,779.7 L356,776.2 L355.8,778.4 L357.1,775 L357.1,777.1 L357.2,772.9 L357.3,774.6 L356.6,771.2 L357.8,772.6 L356.5,768.8 L358.2,770.6 L357.5,766.9 L357.8,768.6 L357.7,764.4 L358.5,766.7 L358.4,762.6 L357.6,764.4 L357.9,761 L359.1,762.1 L359,758.4 L358.5,759.8 L358.2,756.4 L359.2,757.9 L359.2,754.7 L359.4,756.2 L359.7,752.2 L359.5,753.3 L359.2,750.2 L359,751.2 L360.5,747.7 L360,749.6 L360.6,745.6 L360.1,747.2 L361.1,743.1 L360.1,747.1 L361.2,744.9 L361.7,747.8 L362.1,745.9 L362.2,748.7 L363.1,746.7 L363.2,750.1 L363.5,748.7 L363.6,751.4 L363.8,749.7 L363.5,752.6 L364.1,750.5 L364.6,752.5 L364.5,749.9 L364.9,753.4 L365.8,750.9 L366.2,753.2 L365.9,750.7 L366.2,753.2 L367.7,750.5 L367.2,753.5 L368.7,751.2 L367.7,753.5 L369.3,751.4 L369.3,754.4 L369.6,751.7 L369.7,753.9 L370.1,751.4 L371.2,754.4 L370.8,751.4 L371.1,754 L371.7,752 L371.3,754.4 L372.1,752.4 L372.3,755.1 L372.8,752.2 L373.1,755 L373.5,752.3 L374,754.7 L374.5,752.4 L374.9,754.9 L375.1,752.8 L375.2,755.2 L374.8,753 L375.8,755.6 L376.7,753 L377.1,757 L376.5,754.9 L376.7,758 L377.1,755.9 L377.4,759.3 L377.9,757.2 L378.8,760.4 L378.3,758.1 L379.4,761.4 L379.7,759.1 L380.6,762.9 L380.1,761 L380.7,763.3 L381.3,761.8 L381.8,764.1 L382.2,760.4 L381.9,762.9 L382.7,759.7 L383.5,761.4 L383.3,758.5 L384.1,760.2 L384.3,756.7 L384.3,759.2 L384.6,756.1 L385.5,758.3 L384.6,755.4 L385.6,756.8 L385.9,754.5 L386,756.9 L386.9,753.2 L386.6,755.8 L387.6,752.7 L387.6,755 L387.9,752.3 L389.2,754.8 L389.3,751.3 L389,754 L390,750.8 L389.7,753 L390.5,750.6 L390.1,752.4 L391.2,749.5 L391.9,752.1 L391.5,748.7 L391.3,751.4 L393,748.5 L392,750.3 L392.2,747.5 L393.1,750.3 L394.1,747.5 L393.6,749.1 L393.9,746.9 L394.3,749.2 L394.9,747.1 L396.1,749.7 L395.1,747.4 L395.7,750.8 L396.1,748.1 L397.4,751.5 L396.4,749.3 L397.7,752.2 L397.4,750 L397.4,752.7 L399,750.7 L398.7,753.2 L399.4,749.9 L399.1,751.7 L399.1,748.2 L399.9,749.6 L399.2,745.9 L400.8,747.3 L400.2,744 L400.2,745.3 L401.5,741.5 L401.8,743.1 L400.6,739.7 L401.3,740.7 L401,737.1 L402.7,739.6 L401.7,736.8 L402.2,739.6 L402.7,737.4 L402.7,739.6 L404.2,737.3 L404.1,739 L405,736.3 L405.4,739.2 L404.6,736.3 L404.9,739.3 L405.6,735.9 L405.9,739 L406.6,736.4 L406.9,738.5 L406.7,735.8 L407.7,738.6 L407.7,735.6 L407.9,738.2 L408.3,735.2 L408.6,737.8 L408.7,735.5 L409.8,737.5 L409.5,734.7 L410.1,737.3 L410.6,734.6 L411.5,737.8 L411.6,734.9 L411.9,736.8 L412.5,734.2 L413.2,737.7 L413.1,734.7 L412.9,738 L413,735.1 L414,738.1 L415.1,736 L414.2,739.3 L415.2,736.5 L415.9,739.3 L415.3,737.1 L415.5,740.2 L416.3,738 L416.1,740.2 L417.2,737.8 L417.9,741.4 L417.9,738.4 L417.8,741.5 L419,738.2 L418.9,739.6 L418.3,735.8 L419.8,737.8 L419.5,733.4 L419.2,735.7 L420.5,731.3 L420.4,733.3 L421.3,729.8 L420.6,731.4 L422.1,729.7 L421.9,733 L421.9,731 L422.2,735.2 L422.7,733.7 L424,736.5 L422.9,735.7 L423.7,738.4 L423.7,736.7 L424.2,741 L424.5,739.6 L424.5,742.3 L426.4,741.1 L425.6,744.2 L426.6,743.1 L426.2,746.5 L427.4,745.1 L427.5,747.1 L427.9,745.2 L428.8,747.7 L428.6,744.6 L428.7,747.3 L429.3,744.2 L429.4,746.8 L430.2,744.5 L430,746.5 L430.1,743.7 L430.6,746.8 L430.5,743.4 L431.6,746.6 L431.3,743.6 L432.8,746 L432,743.6 L433.4,746.3 L432.7,743.8 L434.4,746.3 L433.4,743.8 L434.9,747 L435.1,744.5 L435.7,747.3 L435.8,744.8 L436.3,748.1 L436,745.3 L437.3,749 L436.9,745.9 L437.8,749.2 L437,746.7 L437.4,749.5 L438.4,747.4 L438.9,750.6 L439.7,748.1 L440.1,750.2 L439.5,747.5 L440.8,750.2 L440.9,747.2 L440.5,750.2 L441.8,747.8 L440.9,750.3 L441.9,747.3 L442.6,749.7 L442,747.2 L443.3,749.7 L443.2,747.3 L444.4,748.9 L443.6,746.4 L445,749.4 L444.5,746.2 L445.3,749.1 L445.8,747.1 L445.8,750.4 L446.5,749.2 L445.7,752.3 L446,750 L446.6,753.8 L447,752 L448,755.1 L448.2,753.1 L447.9,756.7 L448.3,755.6 L448.4,759.1 L450.2,757.3 L450.4,759.8 L449.7,757.1 L449.9,760.6 L451.2,758 L450.8,760.8 L451.8,759.1 L452.1,762.1 L451.5,759.3 L453.4,762.4 L453.1,760.4 L453.9,762.9 L453,760.9 L453.9,764 L453.9,760.2 L454.8,762.5 L455.5,759.8 L456.1,761.7 L455.4,758.2 L455.4,760.4 L457.2,756.7 L457.6,758.8 L457.8,755.2 L458.2,757.5 L457.9,754.7 L459,755.8 L458.7,752.9 L458.4,754.8 L459,752.2 L459.5,753.6 L460.3,750.2 L461.1,752.8 L460.3,749.1 L461.4,751.4 L460.8,748.1 L461.9,750.1 L462.8,747.5 L462.8,749.3 L463.4,746.4 L463.9,749 L464.1,745.8 L463.2,748.2 L464.5,745.3 L463.8,748.5 L465.2,745.3 L464.7,747.6 L465.6,745 L466.6,747.3 L465.8,744.1 L466.9,747 L467.8,743.3 L466.7,745.9 L467.2,743.9 L467.4,747.7 L468.6,745.4 L469.5,749.2 L469.5,746.8 L469.6,750.3 L469.1,748.6 L470.5,751.6 L470.4,749.4 L470.7,753.3 L471.7,750.8 L471.1,754.6 L471.9,752.5 L471.6,755.6 L472.2,753.7 L473.4,757.2 L473.5,755.5 L473.7,758.3 L473.8,756 L475,759.2 L474.1,757.1 L475,760.8 L475.6,758.4 L476.4,761.3 L476.7,759.8 L475.8,762.5 L476.9,760.3 L477.3,764.2 L477,761.8 L478,764.9 L478.6,762.7 L478,766.1 L479.4,764.2 L479.8,766.4 L479.9,764.3 L479.7,766.7 L479.9,764.5 L480.7,767.7 L480.5,764.8 L481,767.1 L481.2,765.5 L481.5,767.4 L483.1,765.5 L483.1,768 L483.1,765.8 L484.1,768 L484.5,765.5 L484.7,768.1 L485.2,765.9 L484.9,768.8 L485,765.8 L486.2,769.4 L485.2,766.5 L486.5,768.9 L487.1,766.5 L486.2,769.2 L487.5,766.6 L488.3,769.5 L488.4,767.1 L488,769.6 L487.9,767.3 L488.8,768.6 L488.8,766.1 L489,767.8 L489.6,764.6 L490.2,767.4 L490.7,763.8 L491.5,766.8 L492,763.1 L492.3,765.3 L492.3,762.6 L493.1,764.4 L493.6,761.8 L492.9,764 L493.6,761 L493.3,763.2 L493.7,759.8 L495.1,762.2 L494.9,759.8 L496,762.1 L495.9,759.3 L496.3,761.6 L495.8,759.1 L497.1,761.8 L497,758.5 L498.1,761.3 L498.5,758.6 L498.7,761.1 L498.5,758 L498.2,760.1 L498.4,757.4 L499.3,760.4 L499.7,757.1 L500.6,759.9 L500.8,757.5 L501.6,759.4 L501.9,756.9 L501,759.9 L501.5,756.7 L501.9,759.2 L503.1,756.6 L503.6,759.8 L503.6,757.4 L504.5,759.6 L504.2,757.7 L504.1,759.9 L504.7,757.4 L504.9,759.5 L505.6,757.6 L505.1,760 L506.4,757.3 L506.3,759.8 L507,757.6 L507.1,760.8 L507.3,757.8 L507.1,760.1 L507.7,758.2 L508,760.2 L509.5,757.9 L509.2,760.7 L509.2,757.8 L510.3,760.7 L509.5,758.7 L509.9,761.1 L510.2,758.2 L511.3,760.5 L511.3,757.4 L512.7,760.5 L512.4,757.1 L513,759.7 L512.4,757.5 L512.7,759.5 L513.9,757.2 L513.4,759.2 L514.3,756.2 L515.4,759.3 L514.7,755.9 L515.1,758.8 L515.9,756.2 L516.2,758.2 L517,755.9 L517.3,757.8 L516.4,755.4 L518.1,757.9 L517.5,755 L518,757.6 L518.2,755 L519.7,756.7 L518.7,754.5 L519.3,756.9 L519.9,754.4 L520.8,756.7 L520.1,754.6 L520.4,757.2 L521.6,754.7 L521.3,758.3 L522.7,755.7 L521.8,758.3 L523.1,756.8 L523.3,759.5 L522.7,757.4 L523.4,759.9 L524.7,757.4 L524.3,760.2 L524.9,758.7 L524.8,761.8 L525.2,759.2 L526.1,762.1 L525.5,758.9 L526.8,761.2 L526.2,759 L527,761.6 L528.3,758.6 L527.8,761.8 L528.9,758.7 L528.5,761.2 L528.3,758.4 L529.6,761 L529.8,758 L530.2,761.1 L530.9,758 L530.6,761.3 L531.7,758.6 L532.1,760.4 L532.3,757.9 L532.5,760.4 L532,758.2 L532.1,760.1 L532.5,757.5 L533.5,760.7 L534.5,757.7 L533.6,760.6 L533.8,757.5 L535.3,759.7 L534.7,757.3 L534.8,760.4 L536.2,757.3 L536.6,759.5 L537.1,757.2 L536.7,760.1 L537.1,757.5 L537.8,759.2 L538,757.3 L538.1,759.4 L538.9,756.7 L538.7,759.1 L539.7,758 L539.7,761.2 L540.1,759.7 L539.6,762.8 L541.1,760.7 L541.8,764.4 L541.2,762 L541.2,765.5 L541.8,764.5 L542.5,767.5 L542.2,765.6 L543,769.3 L543.9,767 L544,769.9 L544.2,767.8 L544,770.8 L544.8,768.9 L544.5,771.4 L545.4,769.1 L546.6,772.7 L546.9,769.6 L546.6,773.1 L546.2,770.5 L547.8,773.6 L547.8,771.9 L548.7,774.3 L548.3,772.4 L549.3,775.6 L548.9,772.8 L549.1,776 L550,773.5 L549.4,777.1 L551.3,775.5 L551.1,778.2 L550.6,776.5 L552.3,779.3 L551.9,777.2 L551.7,780.3 L552.9,778.7 L552.3,782.4 L553.9,780 L553.4,783.7 L553.7,779.4 L554.6,782.1 L554.9,778.2 L555.9,780.1 L555.3,776.3 L556.7,778.2 L556.8,774.9 L556.2,776.7 L556.3,773.3 L556.7,775.8 L558.2,771.5 L557.4,774.2 L557.7,770.8 L559.3,771.9 L559.5,768.4 L559.4,770.6 L560.4,767.2 L560.9,769.9 L560.4,767.3 L561.5,769.6 L560.6,766.3 L561.2,768.8 L561.3,766.5 L562.2,768.7 L562.9,765.3 L563.6,768.3 L562.9,765 L564,767.3 L563.2,764.5 L563.8,767.7 L565.4,764.6 L565,766.5 L564.7,763.7 L565.9,766.3 L565.5,764.1 L566.8,765.9 L566,763 L566.8,765.4 L567.5,763 L567.8,765.3 L568.2,762.7 L568.5,765.4 L568.4,762.2 L569.1,764.5 L569.3,761.6 L570.5,763.8 L570.1,760.8 L569.7,764.2 L570.7,761.4 L571.6,763.9 L570.9,761.4 L572.7,764.2 L572.9,761.7 L572.9,764.5 L573.4,761.7 L573.6,764.7 L573.2,761.6 L574.1,764.7 L574.5,762.3 L574.2,765.2 L574.5,762.4 L575.5,764.9 L575,762.6 L576.4,764.7 L576.3,762.9 L576,765.7 L576.9,762.7 L576.7,765 L577.7,762.4 L578.7,765.7 L578.4,763.8 L579.3,766.1 L578.8,764.5 L579.8,767.5 L579.7,765 L580.8,767.4 L580.9,765.7 L581.5,768.3 L581.8,765.9 L581.2,768.9 L582.1,767.4 L582.3,769.7 L582.8,767.6 L583.2,769.6 L583.4,766.9 L583.1,769.5 L584.3,766.9 L584.9,769.1 L584.5,767.1 L585.6,769.5 L585,767.2 L585.6,769.2 L585.2,766.6 L587,769.2 L586.6,766.3 L587.8,769.7 L587.8,766.9 L587.5,768.9 L588.6,766.2 L588.9,768.7 L588.3,765.9 L588.9,769 L589.4,766 L589,769.1 L590.8,766 L590.3,768.9 L590.4,765.8 L591.7,768.7 L592,765.8 L592.3,768.9 L592.7,765.4 L592.9,768 L592.5,765.1 L592.6,768.2 L594,765.4 L594.6,767.6 L593.9,764.6 L595,766.9 L595.2,763.6 L595.1,766.6 L596.5,763.1 L596,765.5 L596.5,763 L597.1,764.8 L596.9,762.8 L596.9,764.5 L598,761.5 L598,764.6 L598.6,760.8 L598.7,763.3 L598.8,760.2 L599.8,763.1 L600,759.3 L599.8,762.2 L600,759.1 L601.8,760.5 L602.2,757.4 L601.1,760 L602.6,756.6 L602.5,759.6 L602.7,756 L602.5,758.6 L603.1,755.1 L603.5,757.1 L604.2,754.8 L604.6,756.2 L604.8,753.9 L605.1,756 L606,752.8 L605.9,754.8 L606.5,752 L606.3,754.3 L607.4,752.2 L607.8,754.5 L607.1,751.8 L608.8,754.4 L608.7,750.9 L609.6,754.1 L609.7,751 L610.1,753.3 L610.5,750.3 L610.7,753.7 L610.8,750.3 L610.2,753.1 L610.5,749.7 L612,753 L612.3,750.1 L612.4,752.3 L613.2,749.4 L612.8,752.2 L613.7,749.1 L613.4,751.9 L614.1,749.3 L614,751.1 L614.7,749 L615.4,751.2 L614.8,748.1 L616.2,750.3 L616.4,748.1 L617,750.9 L616.9,746.8 L616.6,749.1 L617.8,745.2 L617.7,747 L618,744.2 L618.8,745.9 L619.1,742 L618.9,744.2 L620.1,740.6 L619.4,742.3 L620,739.3 L620.9,740.8 L620.5,737.1 L621.5,741.3 L621.6,739.4 L621.4,742.7 L621.7,740.9 L623,743.7 L622.5,742.1 L623.7,745 L623.7,743.7 L624.3,747.2 L624.8,744.7 L625.5,747.8 L624.8,746.1 L625.8,748.5 L626.7,745.9 L626.5,748.2 L627.2,745.3 L626.9,747.5 L627.8,744.2 L628.7,746.4 L629,743.6 L628.9,746.8 L628.3,745.2 L629.5,748.7 L629.5,747.3 L630.3,751.3 L630.8,748.7 L630.5,752.3 L630.6,750.8 L630.9,754.9 L632.7,752.8 L632.2,756.3 L633.1,755.3 L632.1,758.5 L633.9,756.4 L633.6,760 L633.9,758.9 L634.5,762.3 L634.5,760 L635.5,763.3 L635.4,761.9 L635.7,764.2 L636.2,762.7 L637,765.8 L636.2,763.4 L636.9,766 L637.7,763.2 L637.8,764.9 L637.8,762.9 L638.4,764.7 L638.3,762 L638.3,764.6 L640,761.4 L640.6,763.7 L640.1,760.8 L640.8,763.2 L641.3,760 L641.7,762 L642,758.8 L641.1,761.3 L642.4,758.5 L641.9,760.5 L643.5,757.6 L643.9,759.9 L643.9,757.5 L643.7,759.5 L644.6,756.9 L644,758.7 L644.2,756.3 L645.6,758.3 L646.3,754.6 L646.6,757 L646.3,753.5 L646.9,755.4 L647.1,752.5 L647.4,754.4 L647.7,751.1 L647.8,752.8 L649.2,749.7 L648.4,752.2 L649.6,748.8 L649.1,750.4 L649.1,747.7 L650.8,749.9 L650.8,745.7 L650.2,748.2 L652,745.2 L650.8,747.3 L652.1,743.9 L651.6,747.2 L652.8,743.9 L652.7,746.4 L653.5,744.5 L653.1,746.6 L653.4,744.2 L654.8,746.5 L654.2,744 L654.7,747 L654.9,744 L655.9,746.5 L655.8,744.1 L656,746.5 L656.6,744.8 L656.4,746.5 L657.2,744 L658.5,746.8 L658.6,744 L659.3,746.6 L659.2,743.9 L659.6,746.5 L660.1,744 L660.1,746.5 L659.6,744.8 L660.7,747 L660.3,744 L661.2,746.5 L661.8,744.5 L661.5,746.6 L662.8,745.7 L662.3,748.5 L663.3,747.1 L663.3,750.5 L663,748.8 L664.3,752.4 L664.7,750.9 L664.4,755.3 L664.6,753.3 L665.4,757.3 L665.9,755 L666.6,758.6 L666.5,757.2 L666.7,760.5 L666.8,758.7 L668.3,760.6 L668.8,757.6 L668.8,759.1 L668.7,755.8 L668.4,757.5 L669.1,753.5 L670.1,755.5 L670.8,752.1 L670.8,754.2 L671.3,750.7 L671.9,752.4 L672.1,748.5 L671.6,752.3 L672.8,749.3 L672.4,752.7 L673.7,750.3 L673.8,753.6 L673.5,751.8 L673.4,754.9 L674.6,752.5 L675.2,756.5 L674.8,753.6 L675.1,756.9 L676.2,755.3 L675.5,758.4 L675.9,756 L676.4,759.3 L678,757.2 L677.2,760.7 L678.7,757.4 L678.8,759.4 L678,757 L679.2,759.2 L678.8,756.4 L679.4,758 L679.8,755.1 L680.2,757.9 L681,754.3 L681.3,757.4 L681.2,753.9 L681.3,756 L681.9,753 L683.1,755.6 L682.6,752.8 L683.3,754.9 L684.3,751.8 L683.6,754.3 L684.1,750.8 L684,753.9 L684.5,750.7 L684.5,752.7 L685.1,749.5 L685.8,750.4 L685.5,747.1 L686.1,748.7 L685.7,745.2 L686.9,747 L686.1,743.2 L687.5,744.9 L686.9,740.2 L687.4,742.6 L686.8,739 L688.3,740.1 L687.3,736.2 L687.3,737.7 L688.7,734.1 L688.6,735.9 L688.9,732.4 L688.7,733.8 L688.8,729.7 L690.1,731.7 L689.1,728.1 L690.1,730.2 L690.1,727.8 L690.5,729.6 L690.4,726.4 L691.8,729.6 L691.3,726.1 L692.4,728.4 L692.6,725.6 L692.9,728.2 L692.7,725.5 L693.2,727.6 L693.7,725 L693.5,727.6 L694.3,723.8 L695.5,726.2 L694.7,723.9 L694.8,725.7 L696.1,724.1 L695.8,727.8 L696.9,725.9 L697.3,729.8 L696.7,728.2 L698,731.3 L698.4,729.4 L698.8,733.4 L698.6,731 L699.3,734.9 L699.9,733.4 L699.5,736.8 L700.9,735.3 L700.1,738.1 L701,736.8 L701.1,738.2 L701.3,734.6 L701.4,736.3 L701.7,732.6 L702.6,734.1 L702.7,730.3 L703,732.2 L704.5,728.6 L704,730.2 L704.5,726.1 L705.5,728.3 L705.2,725.6 L705.5,727.9 L705.4,725 L705.8,726.9 L706.2,724.2 L707.6,726.3 L706.9,723.6 L707.8,725.5 L708,722.8 L708.4,724.8 L708.7,721.4 L708.7,723.6 L708.9,720.5 L710,723 L710,720.1 L711.1,721.7 L710.7,719.3 L711.5,721.8 L711.5,718.1 L711.2,721 L711.9,717.1 L711.6,720.4 L713,718.7 L712.3,721.3 L713.7,719 L713.2,722.5 L714.7,720 L714.6,723.3 L714.3,721.3 L715.2,724 L715.8,722.3 L716,724.8 L716.5,722.6 L717.1,725.9 L717.5,723.8 L717,725.8 L717.4,723.8 L717.6,726.1 L718.6,723.4 L719.2,726.2 L719.3,723.1 L719,726.3 L719.6,723.6 L720.2,726.2 L719.5,723.2 L721.3,725.5 L721.7,723.5 L722,725.9 L721.6,723.2 L721.7,725.7 L722.6,723.6 L721.9,725.8 L723.6,723.2 L722.8,726 L723.8,723.7 L724.5,726.5 L724.6,723.1 L724.6,725.8 L725.3,723 L725.8,725.7 L726.5,722.7 L726.4,725 L725.9,722.7 L727.2,724.7 L727.9,722 L727.3,723.7 L728.4,720.7 L728.5,723.3 L728.1,720.4 L728.2,722.8 L729.4,719.6 L730.1,721.5 L730.1,719.3 L729.9,721.4 L730.6,717.9 L730.5,720.4 L731.1,717.8 L731.9,719.7 L731.8,716.6 L731.6,719.3 L732.7,716.3 L732.9,718.1 L732.8,715.3 L733.4,717.5 L733.6,714.7 L734.7,717.2 L734,715.1 L735,717.8 L735.8,716.2 L736.3,719.2 L735.7,716.7 L735.8,720.1 L736.6,718.5 L737.4,721.1 L738.2,718.8 L737.1,722 L738.5,720 L738.1,723.2 L739.7,720.9 L739,724.6 L740.4,722.2 L739.8,725.9 L740.4,723.2 L741.3,725.5 L740.4,723.7 L741,726.3 L742,723.4 L742.2,725.7 L742.3,723.3 L743.4,725.9 L742.3,722.9 L744.1,725.5 L743.1,723.4 L744.1,725.4 L744.5,722.7 L744.7,725.6 L745.3,722.7 L745.5,725.1 L745.4,722.5 L746.8,724.9 L745.8,722.7 L747.5,725.6 L746.7,722.4 L746.8,725.4 L747.2,722 L748,724.8 L748.3,722.7 L748.6,724.6 L748.5,722.3 L750.1,725.1 L750,722.6 L750.2,724.5 L750.5,721.7 L750.4,724.7 L751.2,722.1 L750.9,725 L752.6,722.2 L752.9,724.5 L753.2,722 L752.3,724.8 L753.1,722.1 L753.2,724 L754.5,721 L754,723.6 L754.1,720.8 L755,723.5 L755.1,721.1 L755.9,723.7 L756.5,721 L756.9,723.7 L756.9,721.2 L756.8,723.1 L758,720.3 L758.1,723.4 L757.5,721 L757.7,723 L758.4,719.8 L758.5,723 L759.1,720.5 L760.3,723 L760.1,720 L759.8,722.6 L761.2,719.4 L761.7,722.7 L761,719.2 L761.2,721.9 L762.2,719.3 L762.7,722.1 L763.2,719.4 L762.4,721.6 L763.6,718.9 L763.7,721.7 L764.8,718.9 L764.5,721.8 L764.3,719.6 L766,722.4 L765.6,719.9 L765.5,722.8 L765.9,720.5 L766.7,723.7 L767.4,721.2 L768.2,724 L767.6,721.9 L767.3,724.3 L768.6,722.3 L768.2,724.9 L768.5,722.9 L769.5,725.7 L769.6,723 L769.9,725.6 L771,722.8 L771.2,725.4 L771.3,722.6 L771,724.4 L772.2,721.8 L772.7,723.9 L772.8,720.1 L773,722.9 L772.6,719.6 L774.1,722.1 L774.7,718.9 L773.7,721.3 L775.6,717.5 L775.7,719.7 L775.8,716.7 L775.5,719.5 L776.3,716.4 L777.2,718.1 L776.4,715.2 L777.7,717.7 L778.2,715 L777.5,716.4 L778.8,714 L778.8,716 L779.1,713.2 L778.7,716 L779.6,713.3 L780.1,715.4 L780.8,713.5 L780.4,715.8 L780.3,713.3 L781.7,716.5 L781.7,713.3 L781.9,716.4 L782.9,714 L782.7,716.4 L782.4,713.6 L784,717 L783,713.8 L783.5,717.3 L784.3,714.8 L785.2,716.6 L785.7,714.9 L786,716.8 L785.3,714.5 L786.4,717.6 L785.9,714.8 L787.4,717.9 L787.8,714.9 L788.1,717.8 L787.9,715.1 L788.8,717.6 L788.2,715.1 L788.5,717.7 L789.8,715.1 L789,717.8 L790,715.7 L790.6,718.5 L790.6,716.3 L790.8,718.6 L792.1,716.4 L791.9,719.6 L792.2,717 L791.7,719.9 L792.2,718.1 L792.7,721.4 L792.7,719.3 L794.1,721.4 L793.3,719.9 L794.2,722.7 L794.9,720.2 L795.8,723.2 L795.4,721.4 L795.3,724.3 L796.7,722.3 L795.9,724.7 L796.6,722.4 L797.4,725.5 L798.2,724 L797.7,726.8 L798.9,724.1 L798.3,728 L799,724.6 L798.9,727.7 L799.9,724.5 L800.4,727.8 L799.5,724.9 L800,728.2 L801.6,724.8 L800.6,727.9 L801.8,725 L802.5,727.5 L801.8,725.8 L803.4,728 L803.1,725 L802.8,727.9 L803.9,725.6 L804.4,728 L804.5,725.5 L804.5,728.7 L805.5,725.8 L805.5,728.4 L805.3,726 L805.9,728.4 L806.9,725.7 L806.7,728.4 L806.4,726 L807.9,728.6 L807.1,725.5 L808.7,728.9 L808.9,726.2 L808.4,728.5 L809,726.5 L809,728.9 L810.4,726.6 L809.7,728.6 L811,726.3 L810.5,729 L811.6,726.2 L811.7,729.3 L812,726.3 L812.1,728.8 L813.3,725.3 L813.1,727.8 L812.6,724.4 L813.3,726.4 L814.4,723.1 L814.4,725.5 L814.4,721.9 L815.4,724.1 L815.7,721.5 L815.8,723.3 L816.3,720.3 L816.4,722.1 L817,718.4 L816.4,720.6 L817.6,718.2 L817.6,719.4 L818.2,716.5 L817.7,718.4 L818.5,715.8 L819,717.7 L819.1,715 L819,717.2 L819.6,713.5 L820.3,715.9 L820.9,713.8 L820.7,715.8 L821.2,713.2 L822,714.8 L822.9,712.5 L821.9,714.3 L823.3,711.2 L823.7,713.7 L823.3,711 L823.9,713.8 L824.6,710.5 L824,713.3 L825.7,709.6 L825.6,712.4 L826.3,709.1 L826,711.7 L826.4,709.2 L826.8,710.7 L827.5,708.5 L826.9,710.7 L827.1,707.9 L827.9,710.3 L829.1,707.4 L827.9,709.5 L829.5,707.4 L829.9,710.4 L829.5,707.7 L829.8,711.2 L830.5,708.9 L829.9,711.4 L830.8,708.6 L830.6,711.9 L832.1,709.7 L832.3,712.3 L831.9,710.5 L832.9,713.1 L833.1,710.8 L832.8,713.1 L834.3,711.2 L834.2,713.6 L834,712.1 L835.5,714.3 L835,712.5 L835.3,715.5 L835.6,713.1 L836,715.6 L836.2,713.6 L837.1,716 L837.8,713.2 L837.7,716.8 L838.2,714.6 L838.3,717.3 L839,714.6 L839.2,717.9 L839.7,715.5 L840.3,718.5 L839.2,715.9 L839.5,718.6 L840,715.7 L840.7,717.9 L840.9,715.2 L840.8,717.5 L841.7,713.9 L841.6,715.9 L842.7,713.2 L843.6,715.3 L843.9,712.1 L843.4,714.9 L843.3,711.6 L844.8,714.3 L844.8,711.2 L844.4,713.2 L845.6,710.7 L845.4,712.8 L846.2,709.1 L845.8,711.7 L846.3,708.6 L847.8,711.1 L848.1,707.7 L847.3,710.5 L848.4,707 L849.1,709.1 L849.2,706.1 L848.3,708.8 L849.5,705.7 L849.5,707.5 L850.2,704.6 L851,706.7 L851,704.3 L851.8,706.7 L851.4,703.6 L851.1,705.5 L851.7,702.4 L852.6,704.9 L852.3,702.2 L852.8,703.8 L853,701.3 L854,703.8 L854.1,701.3 L853.9,703.9 L855.2,702 L855.6,704.6 L856.4,701.2 L855.7,704.2 L855.7,702.3 L856.9,704.6 L856.3,701.9 L857.9,704.9 L857.5,702.5 L857.3,704.8 L859.2,702.1 L858.2,705.6 L858.3,703 L859.2,705.1 L860.2,702.6 L860.5,705.7 L860.6,702.7 L861.2,706 L861.9,703.8 L861.3,706 L862.2,703.9 L862,706.2 L862.7,703.4 L862.8,706.9 L862.6,703.5 L863.6,706.9 L864.5,703.8 L864.8,706.7 L864,704.4 L864.8,707 L865.5,704.1 L864.8,706.8 L865.5,704.8 L866,706.9 L866.1,705.2 L867,707.4 L867.8,705.6 L867.9,707.7 L868.4,705.6 L868.9,707.7 L868,705.1 L869.2,708.2 L869.2,704.7 L870.3,707.8 L870.5,704.2 L869.8,707.4 L870.2,704.1 L870.7,706.5 L871.1,704.2 L871.8,706.6 L871.9,703.7 L873,705.6 L872.2,703.4 L873.5,705.8 L873.8,702.5 L874.2,705.2 L875,702 L874,705 L875.2,701.8 L875.9,704.5 L875.5,701.4 L875.4,704.1 L876.7,701.6 L876.3,705.2 L877.8,702.6 L877.3,705.7 L878,704.6 L878,707.3 L879.2,705.1 L878.2,708.6 L879.4,706.9 L879.7,709.4 L880.3,707.7 L880.9,711.5 L880.3,709.5 L881.2,712.5 L881.7,710.5 L881.5,713.8 L882.2,711.7 L881.7,714.5 L882.4,711.5 L883.6,714.7 L882.9,712.8 L883.8,715.4 L883.4,712.9 L884.2,715.6 L885,713.3 L885.5,715.8 L885.9,713.7 L886,716.6 L886.8,713.7 L885.8,717.2 L887,714.4 L886.8,717.4 L887.5,715.1 L888.6,717.7 L888.2,715.9 L888.4,718 L888.8,716.2 L889,718.6 L889.6,716.4 L890.3,719.3 L890.4,716.9 L890.8,719.8 L890.9,716.7 L891.9,720.4 L891.2,717.9 L892.3,720.9 L892.4,717.8 L893,720.5 L894,718.1 L893.4,721.7 L893.4,718.9 L894.5,721.7 L895.2,719.8 L894.5,722.3 L895.7,720.3 L896,722.4 L896.1,720.3 L896.8,723 L897.2,720.9 L897.8,723.4 L897,721.3 L898.6,724.1 L897.9,721.9 L898.9,724.6 L898.3,722.1 L899.8,724.9 L900.4,722.3 L899.5,725.2 L900.7,722.5 L900.4,725.6 L901.6,723.5 L900.8,726.7 L902.4,724.5 L902.1,727.1 L903.2,725.3 L902.8,728 L903.8,726.1 L903.7,729.3 L904.3,726.7 L904.6,729.9 L904.2,727.5 L904.9,730.5 L905.4,728.3 L906,731.6 L905.3,728.7 L905.6,731.8 L906.9,730.2 L907.6,732.4 L907.7,730.4 L907.6,733.9 L907.6,730.8 L908.6,734.2 L908.5,731.1 L908.2,733.5 L909,730.7 L910.3,733.4 L909.4,730.1 L911.1,733.1 L910.3,729.7 L910.4,732.4 L911.7,729.4 L911.4,731.9 L912.3,729 L912.1,731.1 L913.5,728.1 L912.5,730.6 L913.6,727.7 L914,730.9 L913.9,727.7 L914,730.2 L914.5,727.4 L915.9,729.8 L915.3,727.5 L915.6,730.6 L916.9,728.3 L916.4,731.9 L917.2,729.2 L917.6,732.1 L918,730.6 L918.6,732.8 L917.9,731 L919.3,733.9 L919,732.2 L919.8,734.6 L919.5,733.1 L919.8,735.3 L919.9,733.7 L921.4,736.4 L921.9,734.1 L921.6,737.3 L922.3,734.5 L921.9,736.6 L922.9,733.5 L922.9,736.1 L922.8,733.2 L923.9,735.4 L923.8,731.7 L924,734.1 L925,731.3 L924.3,733.3 L924.8,730.9 L925,733.2 L926.3,729.9 L926.1,731.9 L927.5,729.3 L926.8,732 L927.6,729.1 L927.9,732 L927.5,729.4 L929,732.6 L928.4,729.5 L929.2,732.8 L928.8,730.1 L930.3,733.2 L930.7,730.4 L930.1,733.4 L931.5,730.1 L931.3,733.7 L930.8,730.4 L931.4,733.2 L932.1,730.8 L932.2,733.4 L933.5,731.1 L933.2,734.2 L933.9,731 L933.8,733.8 L933.6,731.4 L934.4,733.6 L935,731.1 L936,733.5 L935.4,730.5 L936.3,733 L936.2,730.9 L937.1,733.2 L937,730.7 L937.4,732.4 L937.8,730.1 L937.4,732.7 L938.7,729.2 L939,731.5 L939.9,729.4 L938.7,731.4 L939.2,728.9 L940.5,731.2 L940.5,728 L940.8,731.3 L941.5,728.2 L942.1,730.3 L941.4,727.4 L942,730.2 L942.9,727 L943,730.3 L943.6,726.9 L943.8,729.3 L944.6,727 L945,729.4 L944.5,726.7 L945.5,729 L945.9,726.3 L945.2,728.1 L946.1,725.4 L946.2,727.7 L946.7,725.4 L947.6,728.2 L947.5,725.2 L947.3,726.9 L947.4,724.9 L948.1,727 L949.4,723.9 L949.8,726.8 L950.3,723.7 L949.5,726.8 L951,723.9 L950.4,726.8 L951.4,725 L952.1,726.9 L952.1,724.6 L951.9,727.8 L951.9,724.7 L952.3,727.9 L953.2,724.9 L953.9,727.7 L954,724.9 L954.8,728.1 L953.7,725.4 L955.4,728.3 L954.6,725.3 L955.9,727.9 L955.3,725.7 L955.8,728 L957.1,725.5 L957.6,728.4 L958,726.5 L958,728.7 L958,725.8 L958.7,728.9 L959,726.6 L959.1,728.7 L960.1,727.1 L958.9,729.1 L960.4,726.6 L959.8,729.3 L960.8,726.6 L960.7,729.4 L961.2,727.2 L962.5,729.8 L961.4,726.4 L962.2,728.6 L963.4,726.4 L962.4,728.4 L964,726.2 L964.6,728.4 L964.7,725.2 L964.9,728.2 L964.3,724.8 L964.5,727.5 L966.3,724.6 L965.5,727.7 L966.5,724.9 L966.7,726.8 L967.6,724.6 L967.3,726.3 L967.8,724.2 L967.4,726.6 L968.4,723.5 L967.9,725.5 L969.1,723.3 L969.9,725.3 L970.3,722.3 L969.2,725.2 L970.3,722.1 L971.4,724.1 L971.7,721.6 L971.2,724 L971.5,721.3 L971.4,722.7 L973.2,720.5 L973.2,722.4 L973.8,719.8 L973,721.4 L973.8,719.2 L974.1,721 L974.8,717.8 L975.5,720.1 L975.8,716.9 L976.3,719.4 L976.3,717 L976.9,719.3 L976.4,717 L977.8,718.9 L976.8,716.3 L978.3,718.8 L978.5,716.3 L979,718.9 L979.4,717.1 L978.6,719.2 L980,716.7 L980.4,718.8 L980.8,716.5 L981.2,719 L980.3,716.7 L980.7,719.5 L981.8,716.2 L981.5,719.4 L983,716.5 L982.2,719.7 L982.8,716.5 L983,719.5 L984.4,716.3 L984.1,719.1 L983.8,716.6 L984.3,719.7 L984.6,716.8 L985.2,719.7 L985.8,717.1 L985.3,719 L986.5,716.6 L986.8,719.5 L986.8,716.7 L988.2,719.7 L988.3,716.9 L988.9,719.8 L987.7,717.1 L988.4,719.7 L989.1,716.6 L989.1,718.9 L990.1,716.2 L990.5,719.2 L989.8,716.3 L991.7,718.9 L991.4,715.7 L992.2,717.8 L992.9,715.1 L992.7,717.7 L993,714.5 L993.1,717.4 L993.3,714.2 L993.8,716.9 L993.8,714.2 L995.3,717.7 L994.8,715.4 L994.6,717.6 L995.8,715.5 L996.6,718.2 L997,715.7 L997.1,719.1 L996.6,716.6 L997.8,719.3 L998.2,716.7 L998.3,719.6 L998.5,718 L998.1,720 L998.5,718.1 L998.9,720.7 L999.6,718.8 L999.5,721.8 L999.9,718.5 L1000.6,721.9 L1001.6,719.8 L1002,722.3 L1001.1,719.5 L1002.6,721.5 L1003,718.3 L1003.4,721 L1003.6,717.7 L1004.1,720.6 L1003.1,716.8 L1005,719.4 L1004.8,716.2 L1005.4,718.4 L1005.8,716.1 L1006,717.9 L1006.5,715.3 L1005.7,717.3 L1006.5,714.8 L1007.8,717.1 L1007.7,713.4 L1008,716.6 L1008.1,714.8 L1007.7,717.7 L1009,715.1 L1009.1,718.4 L1010.1,715.8 L1010.4,719.2 L1010.9,716.3 L1010.7,719.5 L1011.5,717.6 L1010.8,720 L1012.5,718.7 L1012.8,720.6 L1013.2,717.9 L1012.8,720.1 L1012.8,717.3 L1013.3,719.8 L1013.2,716.7 L1013.4,719.6 L1014.1,717 L1014.9,719.4 L1015.2,716.6 L1015.4,718.8 L1016.7,716.1 L1016.3,717.7 L1016.5,715 L1017.1,717.9 L1017.1,714.7 L1017.8,717.4 L1018.6,714.5 L1018,716.7 L1018.4,713.7 L1018.8,716.1 L1020,713.4 L1020.2,716.7 L1020.6,714.5 L1020.9,716.5 L1021.4,714.8 L1020.5,717.4 L1021.7,714.6 L1021.8,718.2 L1021.7,715.9 L1022.1,718 L1022.9,715.4 L1023.7,718.7 L1022.8,716.2 L1024.2,719.3 L1023.5,717 L1024.7,719.6 L1025.6,716.7 L1025.7,719.9 L1026,717.6 L1025.5,720.5 L1026.5,718.2 L1026.1,720.7 L1027.3,717.8 L1026.7,720.1 L1027.2,718.1 L1028,720.3 L1028,717.5 L1029,720.2 L1029.1,717.6 L1029.3,720.2 L1029.6,717.9 L1029.5,719.5 L1031.1,717.1 L1031.1,719.6 L1031.4,717 L1031.3,719.2 L1031.3,717 L1032.7,719.5 L1032.1,716.8 L1032.4,718.9 L1034.2,715.9 L1033.8,718.1 L1033.7,715.1 L1034.3,717 L1034.7,714.1 L1034.8,716.6 L1036.1,713.4 L1036.2,716.1 L1036.6,712.4 L1037.1,714.7 L1036.1,712.2 L1037.9,713.7 L1037.1,711.3 L1037.3,712.8 L1038.3,710.1 L1038.9,712.7 L1038.7,709.5 L1039,711.6 L1039.4,708.1 L1040,710.5 L1040.8,707.6 L1040.6,709.9 L1040.7,707.5 L1041.8,710.2 L1040.8,707.6 L1041.6,709.6 L1041.9,706.6 L1043.2,709.2 L1042.4,707 L1042.8,708.9 L1042.9,706.1 L1043.8,709.2 L1044.9,705.9 L1045,708.8 L1045,706.4 L1045.1,709 L1045,705.4 L1045.6,708.6 L1046.2,705.2 L1046.5,708.2 L1046.5,705.4 L1046.8,708.1 L1047.9,705.6 L1047.4,708 L1048.6,705.3 L1048,707.2 L1049.8,705 L1050,707.6 L1049.1,704.6 L1049.6,706.7 L1051,704.5 L1050,706.8 L1050.9,704.2 L1052,706.9 L1051.6,704.5 L1052,706.7 L1052.6,704.6 L1053.3,706.4 L1054,704.2 L1053.5,706.7 L1053.4,704.4 L1053.5,706.4 L1053.9,704 L1055.2,706.1 L1055.6,704.1 L1056.3,706.5 L1055.7,704.3 L1056.7,706.2 L1056.6,704.2 L1057.2,705.9 L1056.7,704.2 L1057.3,706.4 L1057.7,704 L1059.1,706.3 L1059.1,703.3 L1058.4,706.5 L1059.8,703.2 L1059.5,705.9 L1060.7,703.5 L1061.1,706.1 L1060.6,703.5 L1061.3,706.1 L1061.4,703.4 L1061.7,705.6 L1062.7,702.6 L1062.6,705.1 L1063.3,702.3 L1062.5,704.3 L1063.3,701.7 L1064.2,704.7 L1065.1,702.6 L1065.2,705.9 L1065.6,703.5 L1065.4,707.4 L1066.3,705.5 L1066.8,708.6 L1065.8,707 L1066.5,710.1 L1066.9,707.4 L1066.7,711.4 L1067.8,709.2 L1068.3,712.4 L1068.2,711 L1068.7,713.3 L1068.6,710.2 L1069.7,712.7 L1069.5,710.9 L1070.5,712.9 L1070.4,710.5 L1070.3,713.3 L1070.6,710.5 L1071.7,713.2 L1071.2,710.1 L1072.6,712.9 L1073,709.9 L1073.6,712.7 L1072.9,709.7 L1073,712.4 L1073.4,710.2 L1074.5,712.7 L1074.3,710 L1075.3,712.3 L1075.5,709.4 L1074.9,712 L1076.8,709.6 L1077,711.7 L1076.2,709.6 L1077,712.2 L1077.8,708.9 L1077.9,711.7 L1078.7,708.4 L1077.9,709.8 L1078.5,707.4 L1079.2,708.9 L1079.7,706.5 L1079.5,708 L1080.7,704.9 L1081.3,707.3 L1081.6,704 L1080.8,705.8 L1082.4,702.7 L1082.1,705.3 L1082.8,702.3 L1082.1,703.5 L1082.9,701.2 L1083.7,702.8 L1084.2,699.9 L1083.8,702.8 L1084.4,700 L1084.6,701.5 L1084.8,698.8 L1084.7,701.8 L1086.5,698.6 L1086.5,701.1 L1086.5,698.4 L1087.4,700.6 L1086.9,697.1 L1087.9,699.5 L1087.4,696.7 L1088.6,699.2 L1088.2,696.6 L1088.6,698.9 L1088.8,696.4 L1088.9,698.6 L1090,695.9 L1090.2,697.6 L1090.4,694.8 L1090.8,697.7 L1091.4,694.4 L1092.5,696.9 L1092.8,694.3 L1092.7,696.6 L1092,693.3 L1093,696 L1093.7,692.8 L1093.1,695.4 L1094.8,693.5 L1094.4,696.9 L1094.6,695.6 L1094.5,699.1 L1095,696.6 L1095.5,700.3 L1095.9,698.2 L1097.3,702.1 L1097.3,700 L1097.5,703.5 L1097.3,701.2 L1097.5,704.9 L1097.8,703 L1098,705.7 L1098.9,702.3 L1099.7,705.4 L1099.8,702.4 L1100.4,704.3 L1099.7,701.8 L1100.6,703.9 L1101.8,701 L1102.2,703.4 L1101.5,700.3 L1102.8,702.1 L1103.2,700.1 L1103.4,702 L1103.6,698.7 L1103.7,701.6 L1104,698.5 L1104.6,700.7 L1104.4,698 L1105,700.5 L1105.4,697.7 L1104.9,699.6 L1106,697.1 L1105.7,698.6 L1106.3,696.3 L1107.3,698.5 L1106.7,695.7 L1107.6,697.9 L1107.9,695 L1107.6,696.8 L1109,694 L1109.4,696.7 L1109.8,694.2 L1110.2,695.8 L1110.2,693.5 L1110.3,696 L1111.2,692.9 L1111.2,695 L1110.8,693.1 L1111.6,694.8 L1111.6,692.4 L1111.8,694.2 L1112.8,691.3 L1113.4,694.4 L1112.7,691.3 L1114.6,694.1 L1113.5,691.1 L1114.1,692.9 L1114.3,690.7 L1114.6,692.7 L1116.3,689.6 L1116.3,692.8 L1115.8,689.5 L1116.2,691.8 L1116.2,688.9 L1117.1,691.3 L1117.6,688.9 L1117.5,691.6 L1118.5,688.6 L1118.1,691 L1119.8,688.2 L1119.4,690.1 L1119.1,687.3 L1119.7,690 L1120.5,686.9 L1120.6,689 L1121.8,686.8 L1120.9,688.3 L1122.5,685.3 L1121.9,687 L1122.1,684.2 L1123.7,686.9 L1123.9,682.9 L1123.3,685 L1124.3,682.9 L1124.4,684.8 L1124.4,681.7 L1124.7,683.6 L1125.6,681.8 L1126.3,684.9 L1126,683.4 L1126.4,686.1 L1126.3,684 L1127.7,687.4 L1127,685.4 L1127.9,689.4 L1128.9,686.9 L1128.3,690.4 L1129.1,688.1 L1128.9,691.6 L1129.4,689.5 L1129.6,691.8 L1129.5,688.5 L1130.1,691.4 L1130.3,688.3 L1131.1,689.8 L1132.4,686.4 L1131.5,688.9 L1132,685.7 L1132.3,687.7 L1133.1,684.5 L1134.2,687.1 L1134.2,684.1 L1134.1,686 L1134.1,683.2 L1134.1,685.1 L1135.3,681.9 L1135.8,684.2 L1135.6,680.7 L1136.8,682.7 L1137.2,680.2 L1136.6,681.8 L1137.5,679.6 L1137.7,682.5 L1137.5,679.5 L1137.7,681.9 L1139.4,680.1 L1139.5,683 L1139.7,679.7 L1140.6,682.9 L1140.7,680 L1141.1,682.7 L1141.2,680.2 L1141.8,682.7 L1141.4,680.1 L1142.4,683.5 L1142.2,680.4 L1142.4,683.1 L1142.4,680.8 L1142.6,683.3 L1143.1,679.8 L1144.4,680.9 L1144.7,678.2 L1145,680.3 L1144.9,676.4 L1145.5,679 L1145.3,675.3 L1146.9,677.3 L1146.5,674.2 L1146.6,675.5 L1147.1,672.5 L1147.1,673.9 L1148.1,671 L1148.1,672.6 L1148,669.9 L1149.6,671.2 L1148.7,670 L1149,672.8 L1150.1,670.4 L1150.9,673.6 L1150.6,671.6 L1151,675.1 L1150.7,673.4 L1151.5,675.8 L1152,674.4 L1152.6,677 L1152.3,674.9 L1153.7,678.5 L1153.3,676.4 L1154.4,678.8 L1153.9,675.6 L1154.2,678.1 L1154.1,675.7 L1155.5,677.9 L1156.3,675.7 L1156.7,678.3 L1155.9,674.5 L1155.9,677.3 L1156.9,674.5 L1157.4,676.7 L1157.8,674.5 L1158.4,676.7 L1159,673.5 L1158.8,676.4 L1158.8,673.8 L1159.7,676.1 L1160,673.5 L1160,676 L1160.3,673.2 L1160.7,675.5 L1161.3,672.9 L1160.8,675 L1162.3,672.5 L1162.6,674.5 L1162.7,672.1 L1161.9,674.3 L1163.7,670.6 L1164,672 L1163.9,669.1 L1163.6,670.6 L1164.3,667.7 L1164.7,669.7 L1164.5,666.6 L1165.7,668.4 L1165.6,664.8 L1165.5,666.5 L1166.3,664.2 L1167,666.1 L1167.6,663.6 L1167.7,666.3 L1168.4,663.2 L1167.8,666.4 L1168.7,664.3 L1169.5,666.3 L1169.3,664.3 L1169.4,666.6 L1170,665 L1171.1,667.1 L1170.2,664.9 L1171.1,668.1 L1171,664.9 L1172.1,667.9 L1172.4,665.2 L1173.2,668.7 L1172.8,666.5 L1172.8,667.4 L1174.1,664.4 L1174.3,666.1 L1174.2,662.2 L1175.2,664.2 L1175,660.3 L1175.7,662.4 L1176.3,658.4 L1175.9,661 L1176.4,656.8 L1176.8,660.1 L1176.5,656.8 L1177,660.2 L1178.4,657.7 L1177.9,659.5 L1178.8,657.2 L1178.3,660.1 L1179.2,657.8 L1179.5,660.6 L1179.5,658 L1180.6,660.1 L1180.8,658.2 L1181.4,660.6 L1181.4,657.4 L1182.4,660.9 L1182.8,657.6 L1181.7,660.9 L1183.4,657.6 L1182.7,661.2 L1184.1,658.1 L1184,660.8 L1183.9,658.5 L1184.9,661.2 L1184.6,658.3 L1185.5,660.8 L1185,658.2 L1185.3,660.9 L1186.6,659 L1186.9,661.7 L1187,658.7 L1186.8,661.7 L1188,658.9 L1188,661.7 L1188.2,658.9 L1188.7,661.6 L1189.4,659 L1189.3,661.7 L1190,658.2 L1190.4,661.3 L1189.9,658.8 L1191.1,661.2 L1191.1,659.2 L1192,660.9 L1191.8,658.9 L1192.3,660.9 L1191.9,658.6 L1193,660.9 L1193.4,658.4 L1193.9,661.3 L1193.2,658.7 L1194.1,661.2 L1193.9,659.1 L1195,661.3 L1195.4,659 L1195.2,660.9 L1196.5,658.9 L1195.9,662 L1196.1,659.6 L1197.7,662.9 L1196.7,660.5 L1197.4,663.5 L1198.7,661.2 L1198.9,663.9 L1198.3,662 L1199.3,665.1 L1199,662.4 L1200.3,666 L1200.6,663.5 L1200.6,666.6 L1201.1,664.4 L1200.9,667.2 L1201.6,665.6 L1202.5,668.9 L1201.5,665.8 L1202.4,669.7 L1202.3,667 L1204,669.7 L1202.9,667.5 L1203.8,671.2 L1204.6,668.7 L1204,670.9 L1205.7,669 L1205,671.8 L1205.8,668.7 L1205.7,671.2 L1206.5,668.7 L1206.3,671.7 L1207.2,669 L1207.2,672.1 L1207.3,669 L1208.7,671.9 L1208.1,669.5 L1209.1,672.4 L1209.4,669.4 L1209.6,672.3 L1209.1,670.1 L1210.3,672.8 L1211.3,669.9 L1211.1,671.8 L1211.8,668.9 L1212,670.6 L1211.4,667.4 L1211.9,668.9 L1212.9,666.1 L1212.8,668.6 L1214,664.5 L1213.5,667.3 L1214,663.8 L1214.1,666 L1214.4,662.5 L1215.6,663.9 L1216.2,661 L1216,663 L1215.8,659.4 L1216.2,661.8 L1216.6,658.9 L1217.3,660.8 L1217,657.7 L1218.1,658.9 L1218.5,656.2 L1218,658.3 L1218.7,654.6 L1219.9,657.3 L1220.5,654.4 L1220.5,656.3 L1220.3,653.5 L1221.4,655.2 L1221.5,652.2 L1221.9,655.1 L1222.1,651.5 L1221.9,654.3 L1222.4,650.6 L1223.2,653.4 L1224,650.1 L1223.3,652 L1224.3,649 L1224,651.3 L1225.1,649.2 L1224.4,652.2 L1224.8,649.6 L1225,652.7 L1226.2,650.7 L1226.3,653 L1227.5,650.5 L1227.9,654.2 L1227.7,651.2 L1228.7,654.2 L1227.5,652 L1228.4,655.2 L1228.7,652.8 L1229.3,655.2 L1230.2,653.8 L1229.5,656.6 L1229.8,653.3 L1231.5,655.5 L1231,652.8 L1231.8,655 L1232.1,651.8 L1232.3,654.2 L1232,650.4 L1233.5,653.2 L1232.7,649.7 L1234,652.1 L1233.1,648.7 L1234.7,651.2 L1234.1,648.2 L1235.5,650.8 L1236,647.1 L1235.7,649.2 L1235.8,646.9 L1236.4,649.1 L1237.1,645.2 L1236.2,647.9 L1237.6,645.9 L1237,648 L1237.8,645.8 L1238.9,648.5 L1239.4,645.8 L1239.5,648.8 L1240.1,645.6 L1239,648.5 L1240.2,645.4 L1241,648.4 L1240.8,645.6 L1241,648 L1240.7,645.3 L1242.5,647.8 L1242.2,645.5 L1242.8,648.6 L1242.8,645.9 L1243.2,648.8 L1243,645.9 L1243.1,648.1 L1244.9,646.1 L1244.1,648.1 L1245.1,645.9 L1245.5,648 L1245.1,645.4 L1246.5,648.8 L1245.7,645.9 L1246.1,648 L1247.5,645.8 L1247,648.7 L1247.5,645.3 L1247.6,648.2 L1248.4,645.2 L1249.3,648 L1248.5,645 L1249.8,647.6 L1249.5,644 L1249.6,647 L1250.2,643.2 L1250.8,646.3 L1250.6,642.6 L1251.4,645 L1251.6,642.5 L1252.7,645.1 L1252.2,641.8 L1252.1,644 L1253.6,641.5 L1253.5,643.1 L1253.6,640.4 L1254.4,642.7 L1254.5,640.4 L1255.6,642 L1254.9,639.8 L1256.3,642 L1256.5,638.6 L1255.7,641.2 L1256.1,638.1 L1256.9,641 L1257.6,637.3 L1258.1,639.8 L1257.6,637.1 L1258,638.9 L1258.9,635.5 L1258.7,637.8 L1260,634.1 L1260.6,636.3 L1259.5,632.8 L1259.8,635.3 L1261.2,631.5 L1261.3,633.6 L1261.6,630.4 L1261.6,632.7 L1261.6,629.7 L1263,631.3 L1262.8,628 L1263.1,629.7 L1263.5,626.4 L1264.1,629.1 L1264.7,625.6 L1264.9,627.7 L1264.5,624.1 L1266,625.7 L1265.8,622.6 L1266.3,625.3 L1266.6,622 L1267.5,624 L1267.7,620 L1267.6,622.9 L1268.6,619.5 L1268.5,621.8 L1269,618.4 L1268.8,619.8 L1268.9,616.8 L1269.5,619.2 L1270.1,615.4 L1270.3,617.4 L1270.1,614.9 L1270.3,616.4 L1270.7,613.1 L1272.2,615.2 L1272.3,611.6 L1273,614.3 L1272.3,610.8 L1273.3,613.8 L1273,611 L1273.4,612.6 L1274.7,610.3 L1274.4,612.7 L1274.8,609.9 L1275.1,611.3 L1275.8,608.9 L1276.1,611.6 L1276.1,608.4 L1276,611 L1277.3,607.3 L1277.6,609.8 L1277.1,607.2 L1278.3,609.4 L1278.6,606.9 L1278.5,608.8 L1279.3,606.2 L1279.8,608 L1279.6,604.9 L1279.4,607.6 L1280.1,604.9 L1281.1,607.3 L1281.2,604.4 L1280.7,606.5 L1282.1,603.7 L1282.2,605.6 L1282.9,602.3 L1282.4,604.1 L1282.5,601.7 L1282.8,603.7 L1284.5,600 L1284.8,602.1 L1284.2,598.6 L1284.2,600.7 L1284.8,597.2 L1285,599.4 L1285.8,595.5 L1285.7,597.9 L1286.1,594.5 L1286.7,596.8 L1287.2,593.4 L1287.4,595.9 L1287.5,592.2 L1289.1,594.6 L1288.9,592.3 L1289.2,593.9 L1290.1,591.6 L1290,593.3 L1289.4,591 L1291,593.1 L1290.1,589.9 L1290.5,591.8 L1292.3,588.7 L1291.8,591.2 L1291.8,588.2 L1292.6,590.4 L1292.9,587.8 L1293.7,590.3 L1294.3,586.9 L1294.7,589 L1293.7,586.6 L1294.7,588.7 L1294.8,585.8 L1295.8,588.1 L1295.4,585.4 L1295.5,587.2 L1297.1,584.7 L1296.3,586.7 L1296.6,583.8 L1297.8,586.9 L1297.6,585.2 L1297.6,587.8 L1298.2,585.5 L1298.9,588 L1298.4,585.7 L1298.7,588.7 L1299.7,586.8 L1299.6,589 L1300.4,587.2 L1301.4,590 L1300.9,587.8 L1301.2,590.5 L1302.5,587.8 L1301.6,591.5 L1302.1,588.3 L1302.6,591.3 L1303.1,589.6 L1304.3,592.2 L1303.8,590.1 L1304.8,592.8 L1305.4,590.3 L1304.4,593.1 L1305,591.5 L1306.3,593.7 L1306.5,591.3 L1306.3,594.5 L1306.9,591.2 L1306.8,594 L1307.7,590.8 L1308.2,593.3 L1307.6,590.4 L1307.9,593.3 L1308.4,589.8 L1308.6,593.1 L1309.5,589.9 L1309.1,591.9 L1310.5,589.6 L1310,591.8 L1310.5,588.6 L1310.5,591 L1311.2,588 L1311.3,590.4 L1312.8,587.7 L1312.5,589.8 L1313.1,587.6 L1313.1,589.3 L1314.1,587 L1313.3,589.5 L1314.8,587.4 L1314.5,590.1 L1314.6,587.1 L1314.7,589.4 L1315.3,586.7 L1316.9,590 L1317.2,587.1 L1316.1,589.4 L1316.8,587.3 L1317.3,589.4 L1318.2,586.9 L1318.2,589.9 L1317.9,587.2 L1319.4,589.7 L1318.9,587 L1320.1,589.7 L1320,587.6 L1320.8,589.6 L1320.1,587.5 L1320.9,590.1 L1321.2,588 L1321.6,590.4 L1322.1,588.1 L1322,592.1 L1323.3,590 L1322.5,592.7 L1323.5,590.7 L1323.2,593.6 L1324.8,591.3 L1324.3,594.3 L1324.3,592.6 L1325.1,595.6 L1324.8,592.9 L1325.5,596.1 L1326.8,594.3 L1326.5,596.7 L1326.6,595.1 L1326.7,598.4 L1328.1,596 L1327.2,598.3 L1328.9,596.9 L1327.9,599.7 L1329.1,598 L1329.6,600.2 L1330.2,598 L1330.3,601.2 L1331.1,599.4 L1330.2,602.5 L1330.3,600.1 L1331.4,602.9 L1331.7,600.9 L1331.8,603.5 L1333.1,601.3 L1332.9,603.5 L1332.5,600.4 L1332.7,602.4 L1333.2,598.7 L1334.2,601.5 L1334.2,597.5 L1334.5,600.2 L1335.4,596.7 L1335.7,598.8 L1336.6,595.7 L1336.4,597 L1336.2,594.6 L1337.6,596.5 L1336.7,593 L1337.4,595.1 L1338.8,591.8 L1337.8,593.3 L1338.5,590.8 L1339.3,592.6 L1338.8,588.7 L1340.4,591.1 L1339.8,588 L1340.1,589.7 L1341.3,587.2 L1340.9,589.4 L1342,586.8 L1342.3,589.7 L1342.1,586.6 L1342.6,589.2 L1342.5,587.1 L1343.3,589.6 L1343.2,586.6 L1344.5,589.8 L1344.8,587.2 L1344.7,589.6 L1344.3,586.3 L1345.4,589.7 L1346.1,586.2 L1346.2,589.4 L1345.7,586.1 L1347.3,589 L1346.4,586.1 L1347.4,588.8 L1347.9,586.7 L1348.3,589 L1347.7,586.4 L1349.4,588.9 L1349.8,586.1 L1349.2,588.4 L1350.5,585.7 L1349.5,588.5 L1350.2,586.1 L1351.4,588.5 L1351.1,585.4 L1352,588.8 L1351.4,585.4 L1351.9,588.7 L1352.3,585.9 L1352.9,588 L1353.4,585.9 L1354,587.8 L1354,584.7 L1353.8,587.1 L1354.8,583.9 L1354.5,585.7 L1356,582.8 L1356.1,585.1 L1355.8,582.6 L1356.5,584.5 L1357.4,580.9 L1357,583.2 L1357.2,580.1 L1357.2,582.5 L1358.2,579.6 L1358.4,580.8 L1358.1,578.6 L1359,580.4 L1358.7,577.4 L1359.8,579.6 L1359.4,576 L1360.9,578.1 L1360.5,575.6 L1361.6,577.4 L1361.7,574.6 L1362.4,576.8 L1361.9,573.3 L1363.2,575.7 L1363.1,572.5 L1363.2,575.8 L1363.1,573.2 L1363.9,576.9 L1364.1,574.5 L1364.5,577.1 L1364.9,574.8 L1366,578.1 L1366.5,575.9 L1366,579.1 L1367.3,576 L1366.7,578.9 L1367.6,576.9 L1366.9,580.4 L1367.7,578.1 L1367.6,580.6 L1367.9,578.8 L1368.9,581.8 L1369.6,579.4 L1369.3,582.8 L1369.7,580.6 L1370,583.6 L1370.7,581.9 L1370.9,584.9 L1371,582.4 L1371.4,584.9 L1372.4,582.8 L1372.5,585.5 L1372.2,583.1 L1372.7,585.9 L1373.4,584.1 L1373.5,587 L1374,584.8 L1374.7,586.9 L1374.4,584.6 L1374.9,588.1 L1375.7,585.5 L1375.8,588.3 L1376,585.9 L1377.1,589 L1377.3,586.5 L1377,588.8 L1377.1,586.4 L1378.7,589.6 L1378.2,587.1 L1378.9,590.8 L1379,588.4 L1379,591.9 L1379.2,589.7 L1379.8,592.8 L1381.1,590.3 L1381.5,594 L1381.9,591.5 L1381.3,594.8 L1382.1,592.5 L1383,596.5 L1382.9,592.9 L1383.2,595.6 L1383.4,592.8 L1383.7,595.8 L1383.8,593.3 L1385,596.1 L1384.3,593.5 L1385.1,595.2 L1385,593.5 L1386.3,595.7 L1387.1,593.1 L1387,595.2 L1386.3,592.8 L1386.7,595.3 L1388.1,593 L1388.3,595.9 L1388.7,593 L1388.2,594.9 L1389.2,592.8 L1390.1,595.4 L1389.6,592.4 L1390.8,595.1 L1390.6,592.1 L1391.4,595 L1390.6,591.9 L1391.5,595.4 L1392.5,591.8 L1392.2,595 L1392.2,591.6 L1393.6,593.8 L1392.6,590.6 L1394.3,592.1 L1394.1,589.2 L1395,591.3 L1394.4,587.5 L1395.3,589.3 L1395.1,586.3 L1396.2,588.4 L1396.3,585.3 L1396.1,587.2 L1396.7,584.3 L1397.7,586.2 L1398.3,582.4 L1397.8,585.8 L1398.3,583.5 L1398.6,586.5 L1399.6,585.1 L1399.7,587.9 L1399.3,586.5 L1400.6,589.1 L1400.4,587.6 L1401,590.3 L1400.7,588.3 L1401.3,591.8 L1401.9,589.7 L1401.8,593.3 L1402.4,591 L1403.6,593.9 L1403,592.1 L1403.5,595.2 L1404.8,593.1 L1405.2,596 L1405.3,594.1 L1405.4,597 L1406.3,595.9 L1406.2,598.2 L1405.5,597 L1406.4,599.3 L1407,597.7 L1407.2,600.2 L1408.3,598.1 L1408.7,601.3 L1408.2,599.6 L1409,602.4 L1409.3,599.7 L1409.8,603.3 L1409.7,601.3 L1410.4,604.4 L1410.3,601.3 L1411.3,605 L1411.1,602.4 L1412.5,605.4 L1411.3,602.8 L1412.5,604.5 L1413.2,601.2 L1412.3,603.8 L1413.7,600.7 L1414.2,602 L1413.9,599.2 L1413.9,601.5 L1414.7,598 L1414.7,600.4 L1415,597.2 L1415.5,599.1 L1416.8,597.6 L1416.4,600.9 L1416.7,599 L1417.6,601.8 L1417,599.9 L1417.9,603.3 L1419,601.2 L1418.7,605 L1419.3,602.8 L1419,604.5 L1420.5,601.2 L1420.6,602.8 L1420.1,599.2 L1421.5,601.5 L1420.8,597.3 L1421.6,599.6 L1422.4,595.7 L1422.5,597.3 L1423.3,594.5 L1423.7,595.6 L1423.6,592.4 L1424.4,594.5 L1423.8,590.8 L1425.1,593.1 L1425.8,590.5 L1425.4,592.5 L1425.3,588.6 L1426.8,591.1 L1427,587.8 L1427.3,590.1 L1426.9,586.4 L1426.9,589.3 L1428.5,585.8 L1427.8,587.1 L1427.9,583.8 L1428.6,585.2 L1429.2,581.3 L1429,583.1 L1429,578.9 L1430.2,581 L1429.1,577.2 L1429.6,579.1 L1429.7,575.1 L1429.9,578 L1431.3,575.4 L1430.5,578.6 L1432.1,575.6 L1431.9,578.7 L1431.6,576.5 L1432.4,579.6 L1433.1,577.5 L1433,580.1 L1434.2,577.2 L1434,580.6 L1434.3,577.9 L1434.7,581.4 L1434.7,578.7 L1435.4,581.7 L1435.3,579.2 L1436.6,581.2 L1435.9,577.6 L1436.8,578.7 L1437.7,575.8 L1437.9,576.6 L1438,573.2 L1437.6,574.9 L1439.2,571.7 L1438.8,572.8 L1439.2,569.8 L1439.8,570.7 L1440.1,567.7 L1439.8,569.2 L1439.6,564.8 L1440.1,566.6 L1439.4,563.2 L1440.2,564.3 L1440,561 L1439.6,562.8 L1440,559.1 L1440.5,560.4 L1440.1,557.4 L1440.9,560.6 L1440.7,557.9 L1440.7,560.1 L1441.3,557.6 L1441.5,560.1 L1442.7,557.5 L1442.7,559.7 L1442.6,556.9 L1443.8,559.9 L1444,556.9 L1443.8,559.8 L1444.6,556.3 L1445.5,559.3 L1444.5,557 L1445.1,559.8 L1446,558.2 L1445.6,560.6 L1447.4,558.4 L1447.8,562.1 L1447.4,560.4 L1447.2,563.5 L1448.4,561.5 L1447.8,564.6 L1448.6,561.9 L1449.6,565.2 L1449.5,564 L1449.5,566.5 L1450.6,564.2 L1451.2,567.9 L1450.4,565.2 L1451,567.7 L1451.9,565.2 L1451.8,567.3 L1452.2,564.2 L1453.4,566.7 L1453.4,564.6 L1453.1,566.9 L1453.9,563.9 L1454.2,566.5 L1454.7,563.5 L1454.6,565.9 L1455.7,562.9 L1455.1,565.7 L1456.1,562.7 L1456.6,565.6 L1456.4,563.2 L1456.3,565.4 L1457.6,562.3 L1458.2,564.6 L1457.2,561.8 L1458.1,564.7 L1458.5,561.3 L1458.6,564 L1460,560.8 L1460.1,562.7 L1460.2,560.3 L1459.8,562.9 L1461.1,559.5 L1460.8,561.8 L1461.3,559.2 L1462.4,560.9 L1461.4,557.9 L1462.3,560 L1463,557 L1462,558.4 L1462.3,554.6 L1463.4,556.3 L1463.8,552.4 L1464,553.8 L1463.7,550.6 L1463.6,551.7 L1463.2,549.4 L1464.4,551.7 L1464.6,549.1 L1465.8,551.3 L1465.9,549.5 L1465.9,551.4 L1465.4,549 L1466.5,551.6 L1467.1,548.6 L1466.9,551.7 L1467.2,548.9 L1468.6,551.8 L1468.7,549.4 L1468.3,551.9 L1469,549.4 L1469.3,552.7 L1470.1,550.6 L1470.8,553.9 L1470,551.3 L1471.4,554.7 L1471.8,552.3 L1471.4,555.5 L1471.5,553.9 L1472.3,557 L1472.6,553.2 L1472.5,554.6 L1473.4,551.5 L1472.7,553.1 L1474.1,548.9 L1474,550.4 L1473.9,546.6 L1473.6,548.7 L1473.8,544.3 L1473.6,546.4 L1474.9,543.5 L1474.7,546.7 L1475.4,545.2 L1475.5,547.3 L1476.2,545.1 L1476.2,548.5 L1476.4,546.4 L1477.6,548.6 L1478.2,546.6 L1478.5,549.9 L1478.8,547.7 L1478.9,550.2 L1478.8,548.5 L1480,551.1 L1480.1,549.2 L1480.9,551.6 L1481,549.9 L1480.6,552.8 L1481,550.6 L1481.1,553.7 L1481.6,551.8 L1482.5,554.5 L1482.9,552.2 L1482.4,555 L1483,553 L1484.3,555.9 L1484.3,553.6 L1483.5,556.4 L1484.2,554.8 L1484.2,557.2 L1485.2,555.1 L1485.1,558.3 L1485.6,556.2 L1486.7,559.3 L1486.5,556.5 L1486.4,559.8 L1486.7,558.1 L1487.6,559.6 L1488,556.2 L1488.3,558.5 L1488.7,555.2 L1489.8,557.7 L1489.4,554.6 L1490.2,556.3 L1489.7,553.6 L1490.8,556 L1491.6,552.3 L1490.7,555.1 L1491.1,551.7 L1492.8,553.5 L1492.8,550.1 L1492,552.5 L1493,549.1 L1493.6,551.4 L1494.1,547.4 L1494.1,549 L1495.3,546.4 L1495.3,547.9 L1495.3,544.6 L1495.8,546.5 L1495.4,542.6 L1497.2,544.7 L1497.6,541.4 L1497,542.5 L1498.2,541.1 L1498.5,544.7 L1497.9,542.3 L1498.5,545.9 L1498.2,543.5 L1499.9,547.7 L1499.8,545 L1500.5,548.2 L1499.9,546.6 L1501.3,550 L1500.6,548.5 L1501.1,553 L1501.2,551.2 L1501.9,555.3 L1501.1,553.6 L1501.4,557 L1501.2,555.7 L1502.3,559.1 L1502.2,557.6 L1502.5,561.7 L1502.7,559.6 L1502.6,562.6 L1503.4,560 L1503.6,563.6 L1503.5,561.2 L1504.9,563.7 L1504.3,562 L1505.6,564.9 L1505.5,562.8 L1505.4,565.2 L1506.8,563 L1506,566.6 L1506.9,564 L1507.1,566 L1508.1,562.8 L1508.1,564.1 L1508.4,560.6 L1508.2,562.4 L1509,559.3 L1509.8,560.6 L1509.1,557.7 L1510.9,559.9 L1510.3,555.9 L1510.7,557.8 L1510.7,554.8 L1511.5,556.7 L1511.9,554.4 L1511.5,557.3 L1512.1,554.9 L1513.6,557.2 L1513.7,555 L1513.6,557.3 L1513.4,554.7 L1513.9,558.2 L1514.9,555.6 L1515.5,558.3 L1516.1,555.4 L1515.7,558.1 L1515.9,555.8 L1515.6,558.4 L1517.5,556.3 L1516.6,558.8 L1517.7,556.5 L1518.4,558.7 L1517.8,556.1 L1518.1,558.7 L1518.4,556.8 L1519.8,559.4 L1519.5,556 L1520.1,558.1 L1520.6,556.1 L1520.1,557.9 L1520.9,555.4 L1521.4,558 L1521.9,554.6 L1522,557.4 L1523.1,554.8 L1522.7,556.8 L1523,553.9 L1522.8,556.6 L1524.4,553.5 L1524.2,554.6" fill="none" stroke="#000" stroke-width="3.0" stroke-linejoin="round" stroke-linecap="round"/>
<path d="M153.2,653.5 L153.7,649.2 L153.7,651.5 L152.8,647.5 L154.4,649.1 L154.6,645.6 L154,646.5 L154.3,643 L153.7,644.3 L154.3,640.5 L155.2,642.1 L155.5,639.1 L155.3,642.1 L154.5,640.6 L155,644.5 L156.3,642.9 L155.4,647.5 L155.9,645.4 L155.5,649.7 L156.4,645.2 L156.8,647 L156,643.9 L155.7,644.8 L156.1,641.5 L155.7,643.3 L156.3,639.7 L157.1,641.1 L156.4,637.5 L157.1,638.6 L157.6,635.9 L157.3,637.3 L156.2,633 L156.9,635 L156.4,631.7 L156.7,633.3 L156.8,629 L158.1,631.2 L157.2,627.3 L157.6,629 L157,624.8 L158.2,629.1 L157.1,626.7 L157.3,630.7 L158.2,628.9 L157.9,633.4 L158.3,631.6 L158.1,634.7 L157.8,633.8 L158.9,637.6 L158.1,636 L159.6,639.2 L158.7,637.9 L159.2,641.6 L159,637.7 L158.4,639.6 L158.5,635.5 L159.8,636.7 L159.7,632.9 L159.6,635.2 L158.9,631.3 L159,633.1 L159.3,629.1 L160.5,630.9 L160.5,627 L159.8,628.7 L159.9,625 L159.8,626 L160.2,623.2 L161.4,626.3 L161,623.7 L160.7,625.9 L161.9,624.2 L161.3,628.6 L162.1,626.6 L162,630.7 L161.6,628.7 L161.5,632.6 L162.4,630.9 L161.7,635.2 L162.3,633.2 L161.4,637 L161.9,635.3 L162.3,639.4 L162.7,637.3 L162.3,641.4 L163.2,637.2 L162.8,639.4 L163.9,635.1 L164.4,637.3 L163.8,635.3 L163.4,639.3 L164.7,637.5 L164.5,641.4 L164.7,640 L164.9,643.5 L164.9,642 L165,645.9 L165.1,643.9 L164.3,647.5 L165.1,646.1 L164.9,648 L165.6,644.6 L165.5,645.5 L164.9,642.5 L165.4,643.3 L165.4,640.5 L165.9,641.4 L166.2,637.8 L165.8,639.9 L165.5,635.9 L166,637.3 L165.9,633.4 L166.7,634.6 L167.5,631.6 L167.8,632.4 L168.3,628.2 L168.8,632.3 L168.9,630.7 L168.3,634.2 L168.7,632.9 L169.4,637.1 L168.9,635.3 L169.5,638.3 L168.3,637.2 L169.2,640.6 L169.3,639 L169,643 L168.9,641.8 L170.2,645.1 L170.2,643.3 L169.8,645 L170.6,641.6 L169.8,643 L170.8,639.5 L169.9,641 L169.7,637.3 L170.4,638.8 L171.1,635 L170,636.9 L170.6,632.8 L171.5,634.5 L170.8,631.4 L172,634.6 L171.5,633.3 L171.6,637 L171.8,635.8 L171.9,638.9 L171.5,637.7 L171.2,641.2 L171.5,639.8 L172,643.4 L170.9,642 L171.6,645.9 L172.4,643.9 L171,647.9 L171.7,646 L172.2,649.9 L171.9,647.8 L171.8,651.8 L172.7,648.5 L172,650.1 L171.8,645.8 L173,647.6 L172.5,643.8 L173.7,645.3 L173.1,641.9 L173.3,643.3 L172.9,639.8 L174.2,641 L173.4,637.4 L174.5,639.5 L173.6,637.5 L175.5,641.8 L175.4,640.1 L176,643 L176,641.2 L176.4,642.8 L175.9,639.1 L175.9,641.1 L176.5,637.6 L177.1,638.4 L176.5,635.2 L176.7,636.2 L177.7,632.7 L178.4,634 L177.9,630.9 L178.5,633.6 L179.5,631.5 L178.4,634.5 L179,631.9 L179.9,635.4 L180.4,632.6 L180.1,634.3 L180.3,630.3 L181,631.7 L180.7,628.5 L181.8,629.6 L181.9,626 L181.1,627.9 L181.4,626.6 L182.4,629.7 L183.1,628.5 L182.5,632.5 L182.2,630.5 L182.4,631.9 L183.9,628.4 L182.8,629.7 L184,626.2 L183.8,627.5 L183.6,624.4 L183,625.6 L183.7,622.2 L183.4,623.2 L184.2,619.7 L184.2,621.4 L184.4,617.7 L184,619.3 L184.3,615.7 L183.4,616.6 L183.7,616.1 L185,619.3 L185,618.3 L184.7,621.9 L185.1,620.1 L185,623.4 L184.7,622.6 L185.3,625.9 L186.2,624.8 L185.4,628 L185.5,626.9 L185.9,628.8 L186,625.4 L186.9,628.4 L187.8,624.7 L187.8,627.5 L187.6,623.8 L188.3,626.3 L189,622.8 L188.3,623.5 L188.4,620.7 L188.7,622.3 L188.8,618.3 L189,619.5 L189.5,615.8 L188.7,617.3 L189.6,613.5 L189.6,615.4 L190.2,612.3 L188.8,613.6 L189.7,610.9 L190.3,613.4 L190.6,610.2 L190.3,612.1 L191.8,608.7 L192.2,609.7 L191.4,606.7 L191.9,607.3 L192,604 L192.4,606.5 L192.4,604.4 L192.9,607.9 L193.6,605.7 L193.5,608.7 L193.9,606.7 L195.6,608.3 L195.9,604.8 L195,606 L196.2,602.2 L196.1,606.1 L196.7,604 L196.1,608 L197,606.7 L195.9,609.9 L196,608.2 L197.2,612 L196.2,611 L196.4,613.8 L196.8,612.6 L196.6,615.9 L197.7,615.1 L197.3,618 L197.9,616.9 L198.4,619.9 L199.1,616.4 L199.5,618.1 L199.5,614.2 L199.2,616.1 L199.7,611.6 L200.1,613.8 L199.5,609.6 L199.9,611.1 L199.6,608.1 L200.1,609.5 L200.5,607.8 L201.6,610.6 L200.8,609.1 L201.3,611.7 L202.9,609.5 L202.6,611.2 L202.4,607.9 L202.4,608.9 L202.9,605.4 L203.2,606.9 L203,603.9 L203.4,605.1 L203.9,601.2 L202.7,602.9 L204.1,599.5 L203.5,600.9 L204.1,596.9 L203.9,599.4 L204.3,595.5 L204.9,596.4 L204,592.2 L204.3,594.1 L205.3,589.8 L205.2,591.5 L205.1,588.4 L205.6,589.5 L206,586.3 L205.4,587.3 L206.5,583.6 L206.4,585.6 L205.8,582.2 L206.5,583.4 L205.3,580.1 L205.5,581.5 L206.9,578 L206.8,579.1 L206.7,575.2 L206.6,577.5 L206.3,574 L206.6,575.2 L206.2,571.5 L206.5,572.5 L206.5,569.5 L206.9,571.1 L207,568.9 L207.9,573.5 L207.9,571.4 L207.9,575.5 L207.9,573.6 L208.6,577.4 L208.2,576.3 L208.1,579.4 L209.2,577.8 L209.6,581.6 L210.2,580.5 L210.1,583.5 L210.4,582.2 L210.9,586.5 L210.7,582.1 L211,584.1 L210.3,580.2 L211.6,581.5 L212,578 L211.2,579.1 L211.4,576.2 L212,577.9 L212.7,573.7 L212,574.9 L212.7,571.5 L212.9,573 L213.4,569.7 L212.7,570.7 L213.4,566.9 L212.9,568.9 L214.1,565.4 L213.2,566.7 L214.6,562.6 L214.7,564.4 L214.5,560.7 L215.5,562.1 L214.7,558.5 L216,559.8 L214.8,556.8 L215.9,558.1 L215.5,554.6 L216.4,555.9 L216.8,551.9 L216,553.6 L217.4,549.5 L216.8,551.8 L217.5,547.3 L217,549.5 L218.1,545.6 L217.1,546.8 L217.4,543.8 L217.6,545.1 L217.7,541 L218.9,543.1 L219.4,540 L220,543.3 L219.9,539.7 L219.5,542.4 L219.8,540.5 L220.4,543.8 L221,542.1 L220.1,545.9 L220.9,544.5 L220.3,548.1 L220.8,546.3 L221.1,550.6 L221.9,549 L221.7,552.5 L221,551.1 L221.4,554.2 L221.9,552.4 L221.4,556.2 L221.6,554.7 L222.2,558.6 L221.5,557.1 L222.4,560.6 L221.3,559.1 L221.6,562.9 L221.5,561.4 L221.6,564.8 L223.1,563.2 L222.2,567.3 L221.8,565.5 L223,568.5 L223.1,567.6 L221.9,570.9 L222.7,569.7 L222.9,572.8 L222.5,571.2 L222.9,575.3 L222.5,574 L223.9,577.6 L223.6,574.5 L223.7,576.2 L224.2,572.5 L225.3,574.7 L225.2,571.6 L224.6,573.3 L225.6,569.4 L226.6,572 L226.2,567.8 L226.9,572.3 L226.1,570.1 L226.7,574.5 L227.7,572.7 L226.9,575.9 L227.1,574.7 L227.6,577.8 L226.9,576.7 L226.9,580.1 L228.3,578.3 L227.3,581.9 L228.5,580.3 L228.2,584.1 L227.8,582.4 L229,586 L227.9,585 L228.2,588.8 L228.5,586.7 L228.3,590.7 L229.7,588.9 L228.4,592.4 L229.4,591.3 L229.1,594.8 L229.6,592.8 L229.2,597 L229.3,593.2 L230.2,594.5 L229.9,591 L229.3,593 L230,589.1 L230.5,590.9 L229.7,587 L229.8,588.4 L230.4,585.4 L230.4,586.4 L231.1,582.4 L230.8,584.4 L231.4,580.3 L231.9,582.8 L231,579 L232.1,579.8 L231.5,576.3 L231.7,578 L232.4,574.6 L232,576.3 L231.4,572.5 L232.1,574 L231.7,570.3 L231.6,571.4 L232.2,568.5 L233.3,569.5 L232.3,565.8 L233.2,567.4 L233.4,563.9 L233.1,567 L233.2,564.7 L234.6,567.3 L235,565.3 L234.1,567.4 L235.4,565.4 L234.6,567.9 L236.3,566 L236.7,568.3 L236.4,567.7 L236.9,571.1 L236.9,569.7 L237.6,572.7 L236.4,571.4 L236.7,574.9 L237.5,573.6 L238.4,577.7 L237.3,575.8 L238.7,579.2 L238.8,578.3 L238.3,581.3 L239.2,580.2 L239.6,583.9 L238.6,582.7 L239,586.5 L239.2,582.8 L239.7,583.5 L240.1,580.1 L240.7,581.4 L240.2,578.1 L241.3,579.6 L241.4,575.5 L241,577.2 L241.8,573.7 L242.7,575.3 L242.6,571.7 L243.1,573.4 L242.6,571.4 L242.9,573.9 L244.3,572.2 L244.3,575.2 L245.2,573.3 L245.2,575.8 L244.5,573.7 L246.1,577 L245.2,574.3 L245.8,578.6 L246.4,577.1 L246,580.3 L245.6,579.4 L246.6,582.5 L246.9,581.4 L246.1,584.3 L247.2,582.8 L247.2,586.7 L246,585.2 L246.3,588.3 L246.9,587.4 L246.3,590.8 L247.7,588.8 L247,592.5 L247.5,591.7 L247.3,594.6 L248.1,593.4 L247.2,596.8 L247.5,595 L247.4,598.8 L247.6,597.1 L247.5,601.3 L248.4,599.8 L248.3,603.3 L247.3,602.1 L248.7,605.3 L247.9,603.3 L248.2,607.4 L247.8,605.6 L247.9,609.4 L248.8,607.8 L247.8,611.2 L248.8,609.7 L247.9,614.1 L248.1,612.3 L248.1,615.6 L249,613.7 L248.3,617.9 L248.3,616 L248.6,619.6 L248.4,618 L248.8,620 L249.5,615.9 L250.3,617.5 L251,613.4 L250.4,615.2 L251.7,612 L251.3,613.1 L252.5,609.8 L252.3,611.2 L252.8,607.8 L253.2,610.8 L253.2,609.2 L252.7,613.4 L253.2,611.6 L253.4,615.1 L253.5,613.4 L253.8,616.8 L253.4,616.1 L254,619.5 L254.2,618.1 L253.9,621.3 L253.3,620.1 L254.8,623.8 L253.8,621.5 L254.6,625.4 L254.7,624.2 L254.2,627.1 L255,625.9 L255.2,629.7 L254.9,628.3 L255.5,631.6 L255.4,629.9 L255.3,634 L254.8,632.5 L256.1,635.6 L255,634.8 L256.2,637.6 L255.8,636.5 L256.5,640 L256.1,639 L256.6,642.4 L256.4,640.2 L256.5,644.4 L257,642.5 L255.7,646.7 L257.4,645 L256,648.2 L256.2,646.9 L256.2,650.2 L256.2,648.9 L256.7,652.7 L257,651.3 L258,655 L257.6,653.3 L257.3,656.6 L257.4,655.6 L257.5,659 L258,656.8 L258.1,661.1 L258.5,658.8 L258.5,662.8 L258.3,661.2 L258.8,665.2 L258.2,663.7 L258.1,666.8 L258.7,665.2 L258,669.1 L259.2,667.7 L258.1,671.3 L258.6,670 L258.6,672.8 L258.4,671.8 L258.5,674.8 L259.3,673.3 L259.8,677.2 L260,676.2 L258.9,679 L258.8,677.8 L260,681.5 L260.2,680 L260.5,683.7 L260,682.4 L259.9,685.6 L260.6,682.3 L259.9,683.9 L259.6,680 L259.9,681.7 L260.6,678.3 L260.9,679.4 L260.4,675.5 L261.2,677.2 L261.1,674.2 L261,674.9 L261.3,671.3 L261.3,672.8 L261.2,669.7 L261.2,670.9 L261,667.6 L260.8,669.3 L261.2,665.7 L261,666.9 L262.5,663.6 L261.2,664.9 L262.7,661.8 L261.8,662.7 L262.4,659.3 L261.6,661.2 L262.1,657 L262.4,659.2 L261.8,655.4 L262.3,656.5 L263.2,653.1 L262.6,654.7 L263.5,650.9 L262.9,652.7 L263.3,649 L263.1,650.2 L263.2,646.5 L263.1,648.3 L263.6,644.7 L263,646.3 L264,643.2 L263.1,644.6 L264.5,641.1 L263.3,642.4 L263.7,638.4 L263.4,640.1 L263.7,636.7 L264.6,638.1 L265.2,636.2 L265.1,640.6 L264.7,638.8 L265.3,642.5 L265.3,640.5 L266,644.9 L267.2,642.6 L266.7,647.1 L268,645.6 L267.9,649.1 L267.5,647.5 L267.1,650.9 L268.4,649.5 L267.3,653.1 L267.7,651.3 L267.8,654.9 L267.2,653.2 L268.2,656.9 L268,655.5 L268.1,659.6 L268.6,657.8 L267.9,661.3 L267.7,659.2 L267.6,663.3 L268,661.7 L267.7,665.1 L269.3,663.5 L268.1,667.3 L267.9,666.2 L268.2,669.9 L268.4,668.1 L268.1,671.1 L269.6,669.7 L269.6,673.9 L269.4,672.2 L268.5,675.4 L268.4,674.3 L269.5,677.6 L268.4,676.3 L269.8,680 L269.7,677.9 L270,681.8 L269.2,680.1 L269.1,683.3 L269.1,682.3 L269,685.4 L269.2,684.4 L270.4,687.9 L270.3,684 L270,685.7 L269.8,682.4 L270.3,684.1 L270.6,680.4 L269.7,681.2 L270.4,678.4 L269.6,679.5 L270,676.3 L270.8,677.7 L270.3,673.8 L270.3,676 L270.2,671.8 L271.2,673.7 L271,669.5 L271.3,671.6 L270.5,668.1 L271.2,669.4 L270.7,665.5 L271.2,667.3 L271.5,663.4 L271.2,667.4 L271.8,665.6 L271.3,669.2 L271.7,667.8 L272,671.1 L271.7,669.9 L271.4,673.2 L272.6,672.5 L271.9,675.5 L271.2,674.3 L271.5,677.6 L272.8,676.6 L271.9,680 L272.4,678.7 L271.8,681.7 L272.9,680.4 L272,684 L272.4,682.8 L272.7,686.3 L272.5,684.5 L273,688.6 L272.8,687 L272.7,690.4 L272.4,688.5 L272.5,692.4 L273,690.6 L273.5,694.6 L273.2,692.6 L272.5,696.6 L273.2,695.3 L273.5,698.3 L273.1,697 L273.5,700.9 L273.1,698.6 L273.2,702.8 L274.1,701.3 L273.7,705.2 L272.7,702.9 L273.7,706.9 L274,704.9 L273,708.9 L273.8,707.2 L274.4,711.3 L274.2,709.9 L273.6,713.5 L274.5,711.3 L273.6,715.5 L274,713.4 L274.2,717.6 L274.3,715.2 L274.4,718.6 L275,716.3 L274.4,719.8 L275.2,717.1 L275.1,719.7 L276.9,718 L275.9,719.7 L275.9,715.6 L276.5,717.7 L276.4,713.8 L276.1,715.1 L275.7,712 L276,713 L277,709.1 L276.4,710.9 L276.4,707.4 L276.7,708.7 L276.9,705.7 L276.3,707.3 L276.3,703.4 L277.4,705 L277.6,701.5 L277.8,702.4 L277.8,699.3 L276.4,700.6 L278,697 L277.7,699.1 L276.6,695.3 L277.3,697.1 L278.1,693.4 L278.3,694.7 L277.2,691.4 L277.5,692.6 L277.6,689.1 L278.4,690.5 L277.5,686.6 L277.4,688.4 L277.2,685.1 L278.7,686.5 L278,682.6 L278.3,684.3 L277.9,681 L277.4,681.9 L278,679.1 L278.5,680 L277.9,676.7 L278.3,677.8 L279,674.5 L277.9,677.7 L279.3,676.5 L278.5,680.5 L278.3,678.3 L279.9,682.5 L278.6,680.9 L280,684.6 L279.2,683.2 L279.1,686.6 L279.5,685.1 L280.8,689.1 L280.3,686.8 L279.8,691.2 L281.2,689.2 L281.4,692.7 L281.7,691.5 L281.7,695.3 L281.9,693.2 L280.7,696.9 L281.8,695.1 L282,698.7 L281.6,697.8 L281.5,701 L282.4,698 L282.4,699.6 L283.8,696.1 L283.9,698.5 L283.1,694.2 L283.5,696.1 L284.9,692.7 L285.1,694.7 L285.6,691.4 L285.1,692.8 L285.4,690.2 L287.1,693.7 L286.5,691.6 L286.7,695.3 L287.4,693.7 L288.4,697.3 L287.4,695.2 L288,698.9 L288.6,697.2 L288.8,700.7 L289.5,698.9 L290.1,702.4 L290.9,700.8 L290.9,704.8 L290.9,702.8 L291.4,706.8 L290.6,705.1 L290.8,708.2 L291.9,707.4 L291.4,710.4 L291.3,709.2 L292.1,713 L292.8,711.1 L293.1,714.9 L293.8,714 L293.5,717 L293.4,714.4 L294.2,718.2 L293.8,715.6 L294.4,719.2 L295.5,717.3 L295,720.1 L296.5,718 L296.1,721.4 L296.7,719.6 L296.1,722.1 L297.1,720.9 L297.8,724.7 L297.7,722.6 L297.3,726.6 L297.4,725.3 L298,728.9 L297.1,726.8 L297.8,731.2 L298,729.3 L298.2,732.7 L297.6,731.3 L298.1,734.8 L298.9,733.4 L299,737.2 L298.1,735.5 L298.3,739.6 L299.2,738.1 L298.3,741.6 L299.6,739.9 L300.1,743.3 L299.8,740 L299.8,741.2 L299.4,737.7 L300.1,739.7 L300.3,735.6 L300.6,737.2 L300.3,733.7 L300.9,734.8 L300.1,731.6 L300.8,733 L301.4,729.1 L301.8,730.5 L301.3,726.7 L301.9,728.4 L302.5,725.2 L302.1,726.7 L302.9,722.9 L303,724.2 L303.5,720.6 L303.3,722.1 L304.1,718.5 L303.5,719.5 L304.2,716.6 L304.7,717.3 L303.9,713.5 L304.7,715.8 L304.7,712.1 L305,713.8 L305,709.3 L306.4,711.4 L305.7,707.3 L306.9,709.1 L306.1,705.2 L307.5,706.9 L306.5,703.4 L307.5,704.2 L306.7,701 L307.4,702.4 L307.3,698.6 L308.7,700.7 L308.9,697.9 L309.6,700.2 L309.7,697.1 L310.4,699 L309.6,696 L311.2,698.1 L311.6,695.5 L311.9,698.7 L311.5,696.7 L312.5,699.4 L312.3,697.2 L312.5,700.3 L313,697.9 L314.2,701.1 L313.3,698.6 L314.5,701.2 L314.4,698.8 L314.5,702 L314.7,700 L315.6,702.6 L316.5,700.7 L316.9,703.1 L316.1,702.2 L316.2,705.9 L316.4,703.6 L317.6,707.8 L316.4,706.2 L316.6,709.6 L317,708.6 L317.7,712 L317.2,710.7 L317.1,713.8 L317.8,713 L318,716.1 L318.7,715.1 L319.1,719 L319.5,717.4 L319.8,720.8 L320,719.4 L319.8,722.8 L320.4,721.7 L320.9,725.6 L320.6,724.4 L320.6,727.7 L321.1,726.2 L320.9,730.1 L322.6,728.2 L322.7,732.1 L322.9,729.5 L323.6,733.2 L323.5,730.8 L323.9,734.6 L323.9,732.4 L324.5,736.3 L325.7,733.4 L326,736.7 L324.8,735.7 L326.2,739.3 L325.5,738.2 L325.7,741.1 L325.8,739.7 L326.1,743.3 L326.9,742.5 L327.5,746 L327.8,744.1 L327.7,747.8 L327.5,746.6 L327.6,750.6 L327.9,748.4 L328.6,752 L328.3,750.9 L329.5,754.5 L329,753.4 L329.7,756.9 L330.8,755.4 L330.1,759.2 L330.6,755.9 L330.6,756.7 L331.1,753.1 L331.6,755.1 L330.9,751.2 L331.3,752.5 L331.4,749.1 L331,750.6 L332.2,746.8 L331.5,748.2 L332.1,744.7 L331.7,746.3 L332,744.6 L332.9,748.3 L332.5,746.8 L332.8,750.3 L332.3,748.6 L332.3,752.8 L332.6,751.1 L333.1,754.5 L332.8,752.8 L332.7,756.5 L333.9,755.5 L333.2,759.3 L334.6,757.7 L334.3,761 L334.9,759.5 L334.9,763.4 L333.8,761.8 L335,762.9 L334.3,759 L335.9,761.2 L334.7,757.1 L336.5,759.1 L336.3,755.2 L336.4,757 L336.5,753.3 L336.2,754.9 L337.3,750.3 L336.8,753.2 L338,751.4 L338,753.9 L338.8,751.6 L339.1,754.7 L339.1,752.6 L339.4,755.2 L339.7,752.6 L340.6,755.6 L340.7,753.4 L340.6,757 L341.7,755.5 L341.3,758.6 L341.2,757.1 L342,760.9 L342.2,759.5 L342.2,762.8 L341.4,761 L342.2,764.7 L342.8,763.5 L342.6,767.6 L342.3,765.5 L342.8,769 L342.9,767.2 L343.3,771.1 L343.7,769 L343.5,772.3 L343.9,769.7 L344.3,773.4 L344.6,771.2 L345,773.6 L346.2,771.3 L345.9,774.5 L346.9,772.9 L346.1,776.7 L346.8,775.7 L346.6,778.9 L346.8,777.8 L347.8,780.9 L348.6,779.1 L348.5,782.9 L348.9,781.8 L349.3,785.2 L349.3,783.4 L349.7,787.5 L349.4,785.9 L349.8,789.5 L349.7,787.6 L350.4,790.9 L351.7,789.6 L350.8,792.3 L351.5,790.9 L352.1,794.8 L352.5,793.1 L352.5,794.1 L353.5,790.7 L352.3,792.2 L353.5,788.9 L353.6,790.7 L352.8,786.5 L353,788.1 L354,784.5 L353.5,786.3 L354.3,783 L354,784.9 L353.6,780.3 L355,782.8 L354.1,779 L354.8,780.5 L355.9,777.6 L356.2,779.7 L356,776.2 L355.8,778.4 L357.1,775 L357.1,777.1 L357.2,772.9 L357.3,774.6 L356.6,771.2 L357.8,772.6 L356.5,768.8 L358.2,770.6 L357.5,766.9 L357.8,768.6 L357.7,764.4 L358.5,766.7 L358.4,762.6 L357.6,764.4 L357.9,761 L359.1,762.1 L359,758.4 L358.5,759.8 L358.2,756.4 L359.2,757.9 L359.2,754.7 L359.4,756.2 L359.7,752.2 L359.5,753.3 L359.2,750.2 L359,751.2 L360.5,747.7 L360,749.6 L360.6,745.6 L360.1,747.2 L361.1,743.1 L360.1,747.1 L361.2,744.9 L361.7,747.8 L362.1,745.9 L362.2,748.7 L363.1,746.7 L363.2,750.1 L363.5,748.7 L363.6,751.4 L363.8,749.7 L363.5,752.6 L364.1,750.5 L364.6,752.5 L364.5,749.9 L364.9,753.4" fill="none" stroke="#000" stroke-width="4.6" stroke-linejoin="round" stroke-linecap="round"/>
<path d="M1268.6,619.5 L1268.5,621.8 L1269,618.4 L1268.8,619.8 L1268.9,616.8 L1269.5,619.2 L1270.1,615.4 L1270.3,617.4 L1270.1,614.9 L1270.3,616.4 L1270.7,613.1 L1272.2,615.2 L1272.3,611.6 L1273,614.3 L1272.3,610.8 L1273.3,613.8 L1273,611 L1273.4,612.6 L1274.7,610.3 L1274.4,612.7 L1274.8,609.9 L1275.1,611.3 L1275.8,608.9 L1276.1,611.6 L1276.1,608.4 L1276,611 L1277.3,607.3 L1277.6,609.8 L1277.1,607.2 L1278.3,609.4 L1278.6,606.9 L1278.5,608.8 L1279.3,606.2 L1279.8,608 L1279.6,604.9 L1279.4,607.6 L1280.1,604.9 L1281.1,607.3 L1281.2,604.4 L1280.7,606.5 L1282.1,603.7 L1282.2,605.6 L1282.9,602.3 L1282.4,604.1 L1282.5,601.7 L1282.8,603.7 L1284.5,600 L1284.8,602.1 L1284.2,598.6 L1284.2,600.7 L1284.8,597.2 L1285,599.4 L1285.8,595.5 L1285.7,597.9 L1286.1,594.5 L1286.7,596.8 L1287.2,593.4 L1287.4,595.9 L1287.5,592.2 L1289.1,594.6 L1288.9,592.3 L1289.2,593.9 L1290.1,591.6 L1290,593.3 L1289.4,591 L1291,593.1 L1290.1,589.9 L1290.5,591.8 L1292.3,588.7 L1291.8,591.2 L1291.8,588.2 L1292.6,590.4 L1292.9,587.8 L1293.7,590.3 L1294.3,586.9 L1294.7,589 L1293.7,586.6 L1294.7,588.7 L1294.8,585.8 L1295.8,588.1 L1295.4,585.4 L1295.5,587.2 L1297.1,584.7 L1296.3,586.7 L1296.6,583.8 L1297.8,586.9 L1297.6,585.2 L1297.6,587.8 L1298.2,585.5 L1298.9,588 L1298.4,585.7 L1298.7,588.7 L1299.7,586.8 L1299.6,589 L1300.4,587.2 L1301.4,590 L1300.9,587.8 L1301.2,590.5 L1302.5,587.8 L1301.6,591.5 L1302.1,588.3 L1302.6,591.3 L1303.1,589.6 L1304.3,592.2 L1303.8,590.1 L1304.8,592.8 L1305.4,590.3 L1304.4,593.1 L1305,591.5 L1306.3,593.7 L1306.5,591.3 L1306.3,594.5 L1306.9,591.2 L1306.8,594 L1307.7,590.8 L1308.2,593.3 L1307.6,590.4 L1307.9,593.3 L1308.4,589.8 L1308.6,593.1 L1309.5,589.9 L1309.1,591.9 L1310.5,589.6 L1310,591.8 L1310.5,588.6 L1310.5,591 L1311.2,588 L1311.3,590.4 L1312.8,587.7 L1312.5,589.8 L1313.1,587.6 L1313.1,589.3 L1314.1,587 L1313.3,589.5 L1314.8,587.4 L1314.5,590.1 L1314.6,587.1 L1314.7,589.4 L1315.3,586.7 L1316.9,590 L1317.2,587.1 L1316.1,589.4 L1316.8,587.3 L1317.3,589.4 L1318.2,586.9 L1318.2,589.9 L1317.9,587.2 L1319.4,589.7 L1318.9,587 L1320.1,589.7 L1320,587.6 L1320.8,589.6 L1320.1,587.5 L1320.9,590.1 L1321.2,588 L1321.6,590.4 L1322.1,588.1 L1322,592.1 L1323.3,590 L1322.5,592.7 L1323.5,590.7 L1323.2,593.6 L1324.8,591.3 L1324.3,594.3 L1324.3,592.6 L1325.1,595.6 L1324.8,592.9 L1325.5,596.1 L1326.8,594.3 L1326.5,596.7 L1326.6,595.1 L1326.7,598.4 L1328.1,596 L1327.2,598.3 L1328.9,596.9 L1327.9,599.7 L1329.1,598 L1329.6,600.2 L1330.2,598 L1330.3,601.2 L1331.1,599.4 L1330.2,602.5 L1330.3,600.1 L1331.4,602.9 L1331.7,600.9 L1331.8,603.5 L1333.1,601.3 L1332.9,603.5 L1332.5,600.4 L1332.7,602.4 L1333.2,598.7 L1334.2,601.5 L1334.2,597.5 L1334.5,600.2 L1335.4,596.7 L1335.7,598.8 L1336.6,595.7 L1336.4,597 L1336.2,594.6 L1337.6,596.5 L1336.7,593 L1337.4,595.1 L1338.8,591.8 L1337.8,593.3 L1338.5,590.8 L1339.3,592.6 L1338.8,588.7 L1340.4,591.1 L1339.8,588 L1340.1,589.7 L1341.3,587.2 L1340.9,589.4 L1342,586.8 L1342.3,589.7 L1342.1,586.6 L1342.6,589.2 L1342.5,587.1 L1343.3,589.6 L1343.2,586.6 L1344.5,589.8 L1344.8,587.2 L1344.7,589.6 L1344.3,586.3 L1345.4,589.7 L1346.1,586.2 L1346.2,589.4 L1345.7,586.1 L1347.3,589 L1346.4,586.1 L1347.4,588.8 L1347.9,586.7 L1348.3,589 L1347.7,586.4 L1349.4,588.9 L1349.8,586.1 L1349.2,588.4 L1350.5,585.7 L1349.5,588.5 L1350.2,586.1 L1351.4,588.5 L1351.1,585.4 L1352,588.8 L1351.4,585.4 L1351.9,588.7 L1352.3,585.9 L1352.9,588 L1353.4,585.9 L1354,587.8 L1354,584.7 L1353.8,587.1 L1354.8,583.9 L1354.5,585.7 L1356,582.8 L1356.1,585.1 L1355.8,582.6 L1356.5,584.5 L1357.4,580.9 L1357,583.2 L1357.2,580.1 L1357.2,582.5 L1358.2,579.6 L1358.4,580.8 L1358.1,578.6 L1359,580.4 L1358.7,577.4 L1359.8,579.6 L1359.4,576 L1360.9,578.1 L1360.5,575.6 L1361.6,577.4 L1361.7,574.6 L1362.4,576.8 L1361.9,573.3 L1363.2,575.7 L1363.1,572.5 L1363.2,575.8 L1363.1,573.2 L1363.9,576.9 L1364.1,574.5 L1364.5,577.1 L1364.9,574.8 L1366,578.1 L1366.5,575.9 L1366,579.1 L1367.3,576 L1366.7,578.9 L1367.6,576.9 L1366.9,580.4 L1367.7,578.1 L1367.6,580.6 L1367.9,578.8 L1368.9,581.8 L1369.6,579.4 L1369.3,582.8 L1369.7,580.6 L1370,583.6 L1370.7,581.9 L1370.9,584.9 L1371,582.4 L1371.4,584.9 L1372.4,582.8 L1372.5,585.5 L1372.2,583.1 L1372.7,585.9 L1373.4,584.1 L1373.5,587 L1374,584.8 L1374.7,586.9 L1374.4,584.6 L1374.9,588.1 L1375.7,585.5 L1375.8,588.3 L1376,585.9 L1377.1,589 L1377.3,586.5 L1377,588.8 L1377.1,586.4 L1378.7,589.6 L1378.2,587.1 L1378.9,590.8 L1379,588.4 L1379,591.9 L1379.2,589.7 L1379.8,592.8 L1381.1,590.3 L1381.5,594 L1381.9,591.5 L1381.3,594.8 L1382.1,592.5 L1383,596.5 L1382.9,592.9 L1383.2,595.6 L1383.4,592.8 L1383.7,595.8 L1383.8,593.3 L1385,596.1 L1384.3,593.5 L1385.1,595.2 L1385,593.5 L1386.3,595.7 L1387.1,593.1 L1387,595.2 L1386.3,592.8 L1386.7,595.3 L1388.1,593 L1388.3,595.9 L1388.7,593 L1388.2,594.9 L1389.2,592.8 L1390.1,595.4 L1389.6,592.4 L1390.8,595.1 L1390.6,592.1 L1391.4,595 L1390.6,591.9 L1391.5,595.4 L1392.5,591.8 L1392.2,595 L1392.2,591.6 L1393.6,593.8 L1392.6,590.6 L1394.3,592.1 L1394.1,589.2 L1395,591.3 L1394.4,587.5 L1395.3,589.3 L1395.1,586.3 L1396.2,588.4 L1396.3,585.3 L1396.1,587.2 L1396.7,584.3 L1397.7,586.2 L1398.3,582.4 L1397.8,585.8 L1398.3,583.5 L1398.6,586.5 L1399.6,585.1 L1399.7,587.9 L1399.3,586.5 L1400.6,589.1 L1400.4,587.6 L1401,590.3 L1400.7,588.3 L1401.3,591.8 L1401.9,589.7 L1401.8,593.3 L1402.4,591 L1403.6,593.9 L1403,592.1 L1403.5,595.2 L1404.8,593.1 L1405.2,596 L1405.3,594.1 L1405.4,597 L1406.3,595.9 L1406.2,598.2 L1405.5,597 L1406.4,599.3 L1407,597.7 L1407.2,600.2 L1408.3,598.1 L1408.7,601.3 L1408.2,599.6 L1409,602.4 L1409.3,599.7 L1409.8,603.3 L1409.7,601.3 L1410.4,604.4 L1410.3,601.3 L1411.3,605 L1411.1,602.4 L1412.5,605.4 L1411.3,602.8 L1412.5,604.5 L1413.2,601.2 L1412.3,603.8 L1413.7,600.7 L1414.2,602 L1413.9,599.2 L1413.9,601.5 L1414.7,598 L1414.7,600.4 L1415,597.2 L1415.5,599.1 L1416.8,597.6 L1416.4,600.9 L1416.7,599 L1417.6,601.8 L1417,599.9 L1417.9,603.3 L1419,601.2 L1418.7,605 L1419.3,602.8 L1419,604.5 L1420.5,601.2 L1420.6,602.8 L1420.1,599.2 L1421.5,601.5 L1420.8,597.3 L1421.6,599.6 L1422.4,595.7 L1422.5,597.3 L1423.3,594.5 L1423.7,595.6 L1423.6,592.4 L1424.4,594.5 L1423.8,590.8 L1425.1,593.1 L1425.8,590.5 L1425.4,592.5 L1425.3,588.6 L1426.8,591.1 L1427,587.8 L1427.3,590.1 L1426.9,586.4 L1426.9,589.3 L1428.5,585.8 L1427.8,587.1 L1427.9,583.8 L1428.6,585.2 L1429.2,581.3 L1429,583.1 L1429,578.9 L1430.2,581 L1429.1,577.2 L1429.6,579.1 L1429.7,575.1 L1429.9,578 L1431.3,575.4 L1430.5,578.6 L1432.1,575.6 L1431.9,578.7 L1431.6,576.5 L1432.4,579.6 L1433.1,577.5 L1433,580.1 L1434.2,577.2 L1434,580.6 L1434.3,577.9 L1434.7,581.4 L1434.7,578.7 L1435.4,581.7 L1435.3,579.2 L1436.6,581.2 L1435.9,577.6 L1436.8,578.7 L1437.7,575.8 L1437.9,576.6 L1438,573.2 L1437.6,574.9 L1439.2,571.7 L1438.8,572.8 L1439.2,569.8 L1439.8,570.7 L1440.1,567.7 L1439.8,569.2 L1439.6,564.8 L1440.1,566.6 L1439.4,563.2 L1440.2,564.3 L1440,561 L1439.6,562.8 L1440,559.1 L1440.5,560.4 L1440.1,557.4 L1440.9,560.6 L1440.7,557.9 L1440.7,560.1 L1441.3,557.6 L1441.5,560.1 L1442.7,557.5 L1442.7,559.7 L1442.6,556.9 L1443.8,559.9 L1444,556.9 L1443.8,559.8 L1444.6,556.3 L1445.5,559.3 L1444.5,557 L1445.1,559.8 L1446,558.2 L1445.6,560.6 L1447.4,558.4 L1447.8,562.1 L1447.4,560.4 L1447.2,563.5 L1448.4,561.5 L1447.8,564.6 L1448.6,561.9 L1449.6,565.2 L1449.5,564 L1449.5,566.5 L1450.6,564.2 L1451.2,567.9 L1450.4,565.2 L1451,567.7 L1451.9,565.2 L1451.8,567.3 L1452.2,564.2 L1453.4,566.7 L1453.4,564.6 L1453.1,566.9 L1453.9,563.9 L1454.2,566.5 L1454.7,563.5 L1454.6,565.9 L1455.7,562.9 L1455.1,565.7 L1456.1,562.7 L1456.6,565.6 L1456.4,563.2 L1456.3,565.4 L1457.6,562.3 L1458.2,564.6 L1457.2,561.8 L1458.1,564.7 L1458.5,561.3 L1458.6,564 L1460,560.8 L1460.1,562.7 L1460.2,560.3 L1459.8,562.9 L1461.1,559.5 L1460.8,561.8 L1461.3,559.2 L1462.4,560.9 L1461.4,557.9 L1462.3,560 L1463,557 L1462,558.4 L1462.3,554.6 L1463.4,556.3 L1463.8,552.4 L1464,553.8 L1463.7,550.6 L1463.6,551.7 L1463.2,549.4 L1464.4,551.7 L1464.6,549.1 L1465.8,551.3 L1465.9,549.5 L1465.9,551.4 L1465.4,549 L1466.5,551.6 L1467.1,548.6 L1466.9,551.7 L1467.2,548.9 L1468.6,551.8 L1468.7,549.4 L1468.3,551.9 L1469,549.4 L1469.3,552.7 L1470.1,550.6 L1470.8,553.9 L1470,551.3 L1471.4,554.7 L1471.8,552.3 L1471.4,555.5 L1471.5,553.9 L1472.3,557 L1472.6,553.2 L1472.5,554.6 L1473.4,551.5 L1472.7,553.1 L1474.1,548.9 L1474,550.4 L1473.9,546.6 L1473.6,548.7 L1473.8,544.3 L1473.6,546.4 L1474.9,543.5 L1474.7,546.7 L1475.4,545.2 L1475.5,547.3 L1476.2,545.1 L1476.2,548.5 L1476.4,546.4 L1477.6,548.6 L1478.2,546.6 L1478.5,549.9 L1478.8,547.7 L1478.9,550.2 L1478.8,548.5 L1480,551.1 L1480.1,549.2 L1480.9,551.6 L1481,549.9 L1480.6,552.8 L1481,550.6 L1481.1,553.7 L1481.6,551.8 L1482.5,554.5 L1482.9,552.2 L1482.4,555 L1483,553 L1484.3,555.9 L1484.3,553.6 L1483.5,556.4 L1484.2,554.8 L1484.2,557.2 L1485.2,555.1 L1485.1,558.3 L1485.6,556.2 L1486.7,559.3 L1486.5,556.5 L1486.4,559.8 L1486.7,558.1 L1487.6,559.6 L1488,556.2 L1488.3,558.5 L1488.7,555.2 L1489.8,557.7 L1489.4,554.6 L1490.2,556.3 L1489.7,553.6 L1490.8,556 L1491.6,552.3 L1490.7,555.1 L1491.1,551.7 L1492.8,553.5 L1492.8,550.1 L1492,552.5 L1493,549.1 L1493.6,551.4 L1494.1,547.4 L1494.1,549 L1495.3,546.4 L1495.3,547.9 L1495.3,544.6 L1495.8,546.5 L1495.4,542.6 L1497.2,544.7 L1497.6,541.4 L1497,542.5 L1498.2,541.1 L1498.5,544.7 L1497.9,542.3 L1498.5,545.9 L1498.2,543.5 L1499.9,547.7 L1499.8,545 L1500.5,548.2 L1499.9,546.6 L1501.3,550 L1500.6,548.5 L1501.1,553 L1501.2,551.2 L1501.9,555.3 L1501.1,553.6 L1501.4,557 L1501.2,555.7 L1502.3,559.1 L1502.2,557.6 L1502.5,561.7 L1502.7,559.6 L1502.6,562.6 L1503.4,560 L1503.6,563.6 L1503.5,561.2 L1504.9,563.7 L1504.3,562 L1505.6,564.9 L1505.5,562.8 L1505.4,565.2 L1506.8,563 L1506,566.6 L1506.9,564 L1507.1,566 L1508.1,562.8 L1508.1,564.1 L1508.4,560.6 L1508.2,562.4 L1509,559.3 L1509.8,560.6 L1509.1,557.7 L1510.9,559.9 L1510.3,555.9 L1510.7,557.8 L1510.7,554.8 L1511.5,556.7 L1511.9,554.4 L1511.5,557.3 L1512.1,554.9 L1513.6,557.2 L1513.7,555 L1513.6,557.3 L1513.4,554.7 L1513.9,558.2 L1514.9,555.6 L1515.5,558.3 L1516.1,555.4 L1515.7,558.1 L1515.9,555.8 L1515.6,558.4 L1517.5,556.3 L1516.6,558.8 L1517.7,556.5 L1518.4,558.7 L1517.8,556.1 L1518.1,558.7 L1518.4,556.8 L1519.8,559.4 L1519.5,556 L1520.1,558.1 L1520.6,556.1 L1520.1,557.9 L1520.9,555.4 L1521.4,558 L1521.9,554.6 L1522,557.4 L1523.1,554.8 L1522.7,556.8 L1523,553.9 L1522.8,556.6 L1524.4,553.5 L1524.2,554.6" fill="none" stroke="#000" stroke-width="4.4" stroke-linejoin="round" stroke-linecap="round"/>
<rect x="163.5" y="100.5" width="1411" height="9" fill="rgba(120,135,160,0.38)" stroke="rgba(105,120,140,0.45)" stroke-width="1"/>
<rect x="163.5" y="537.5" width="1408" height="9" fill="rgba(120,135,160,0.38)" stroke="rgba(105,120,140,0.45)" stroke-width="1"/>
<path d="M225.69,260.88 L226.68,265.49 L227.88,269.97 L229.28,274.32 L230.88,278.54 L232.66,282.64 L234.61,286.62 L236.73,290.48 L239.00,294.22 L241.41,297.85 L243.96,301.36 L246.64,304.77 L249.43,308.07 L252.33,311.27 L255.32,314.37 L258.40,317.37 L261.56,320.27 L264.81,323.09 L268.12,325.81 L271.52,328.45 L274.98,331.01 L278.50,333.49 L282.09,335.89 L285.74,338.23 L289.44,340.49 L293.20,342.69 L297.00,344.83 L300.85,346.92 L304.74,348.94 L308.67,350.92 L312.63,352.84 L316.63,354.73 L320.65,356.57 L324.70,358.37 L328.76,360.14 L332.85,361.88 L336.94,363.59 L341.05,365.27 L345.17,366.93 L349.29,368.58 L353.42,370.20 L357.55,371.80 L361.69,373.38 L365.84,374.93 L370.00,376.47 L374.16,377.99 L378.33,379.48 L382.50,380.95 L386.68,382.41 L390.86,383.84 L395.06,385.25 L399.25,386.64 L403.46,388.02 L407.66,389.37 L411.88,390.70 L416.10,392.01 L420.32,393.30 L424.55,394.57 L428.79,395.82 L433.02,397.05 L437.27,398.26 L441.52,399.45 L445.77,400.62 L450.03,401.77 L454.30,402.90 L458.56,404.01 L462.84,405.10 L467.11,406.17 L471.39,407.22 L475.68,408.25 L479.97,409.27 L484.26,410.26 L488.56,411.23 L492.86,412.19 L497.16,413.13 L501.47,414.04 L505.78,414.94 L510.10,415.82 L514.42,416.68 L518.74,417.52 L523.06,418.35 L527.39,419.15 L531.72,419.93 L536.05,420.70 L540.39,421.45 L544.73,422.18 L549.07,422.89 L553.42,423.58 L557.76,424.26 L562.11,424.91 L566.46,425.55 L570.81,426.17 L575.17,426.77 L579.53,427.36 L583.89,427.92 L588.25,428.47 L592.61,429.00 L596.97,429.52 L601.34,430.01 L605.71,430.49 L610.08,430.95 L614.44,431.39 L618.82,431.82 L623.19,432.22 L627.56,432.61 L631.93,432.99 L636.31,433.34 L640.68,433.68 L645.06,434.00 L649.44,434.31 L653.81,434.59 L658.19,434.86 L662.57,435.12 L666.95,435.35 L671.32,435.57 L675.70,435.78 L680.08,435.96 L684.46,436.13 L688.84,436.29 L693.22,436.43 L697.60,436.55 L701.98,436.65 L706.36,436.74 L710.74,436.81 L715.12,436.86 L719.50,436.90 L723.88,436.93 L728.26,436.93 L732.64,436.92 L737.02,436.90 L741.40,436.86 L745.78,436.80 L750.16,436.72 L754.54,436.64 L758.92,436.53 L763.30,436.41 L767.68,436.27 L772.06,436.12 L776.44,435.95 L780.82,435.77 L785.20,435.57 L789.58,435.36 L793.95,435.13 L798.33,434.88 L802.71,434.62 L807.09,434.35 L811.46,434.06 L815.84,433.75 L820.21,433.43 L824.59,433.09 L828.96,432.74 L833.34,432.38 L837.71,432.00 L842.09,431.60 L846.46,431.19 L850.83,430.76 L855.20,430.32 L859.57,429.87 L863.94,429.40 L868.31,428.92 L872.68,428.42 L877.05,427.90 L881.42,427.38 L885.78,426.84 L890.15,426.28 L894.51,425.71 L898.88,425.12 L903.24,424.53 L907.60,423.91 L911.96,423.29 L916.33,422.64 L920.68,421.99 L925.04,421.32 L929.40,420.64 L933.76,419.94 L938.11,419.23 L942.47,418.51 L946.82,417.77 L951.17,417.02 L955.52,416.25 L959.87,415.47 L964.22,414.68 L968.57,413.88 L972.92,413.06 L977.26,412.22 L981.61,411.38 L985.95,410.52 L990.29,409.65 L994.63,408.76 L998.97,407.86 L1003.31,406.95 L1007.64,406.03 L1011.98,405.09 L1016.31,404.14 L1020.64,403.18 L1024.97,402.20 L1029.30,401.21 L1033.63,400.20 L1037.95,399.18 L1042.26,398.14 L1046.58,397.09 L1050.88,396.01 L1055.18,394.92 L1059.47,393.80 L1063.76,392.66 L1068.03,391.50 L1072.30,390.32 L1076.55,389.11 L1080.80,387.87 L1085.03,386.61 L1089.25,385.31 L1093.46,383.99 L1097.65,382.64 L1101.83,381.26 L1105.99,379.85 L1110.14,378.40 L1114.27,376.92 L1118.39,375.40 L1122.48,373.85 L1126.56,372.26 L1130.62,370.63 L1134.65,368.96 L1138.67,367.26 L1142.66,365.51 L1146.64,363.72 L1150.59,361.88 L1154.51,360.01 L1158.41,358.08 L1162.29,356.11 L1166.14,354.10 L1169.96,352.03 L1173.75,349.92 L1177.52,347.75 L1181.26,345.54 L1184.97,343.27 L1188.64,340.95 L1192.29,338.57 L1195.91,336.14 L1199.49,333.65 L1203.04,331.11 L1206.55,328.51 L1210.03,325.85 L1213.47,323.12 L1216.87,320.33 L1220.19,317.47 L1223.44,314.53 L1226.60,311.50 L1229.66,308.39 L1232.61,305.18 L1235.43,301.87 L1238.11,298.46 L1240.64,294.93 L1243.00,291.29 L1245.18,287.53 L1247.18,283.64 L1248.97,279.61 L1250.55,275.45 L1251.90,271.14 L1253.00,266.69 L1253.86,262.08" fill="none" stroke="#008000" stroke-width="2"/>
<path d="M219.66,687.11 L220.42,691.63 L221.52,695.93 L222.94,700.04 L224.65,703.95 L226.63,707.68 L228.86,711.24 L231.31,714.64 L233.97,717.89 L236.82,721.01 L239.82,724.00 L242.96,726.88 L246.22,729.65 L249.57,732.33 L253.00,734.93 L256.47,737.46 L259.99,739.91 L263.56,742.31 L267.16,744.63 L270.81,746.90 L274.49,749.10 L278.22,751.25 L281.97,753.34 L285.76,755.38 L289.59,757.36 L293.44,759.30 L297.32,761.18 L301.23,763.02 L305.16,764.82 L309.12,766.58 L313.10,768.29 L317.10,769.97 L321.12,771.61 L325.15,773.22 L329.20,774.80 L333.26,776.35 L337.34,777.86 L341.42,779.36 L345.51,780.83 L349.61,782.28 L353.72,783.71 L357.83,785.11 L361.94,786.50 L366.06,787.87 L370.19,789.22 L374.32,790.55 L378.46,791.86 L382.60,793.15 L386.74,794.42 L390.89,795.67 L395.05,796.90 L399.21,798.11 L403.37,799.31 L407.54,800.48 L411.71,801.64 L415.89,802.78 L420.07,803.90 L424.26,805.00 L428.45,806.08 L432.64,807.14 L436.84,808.19 L441.04,809.21 L445.25,810.22 L449.46,811.21 L453.67,812.19 L457.89,813.14 L462.11,814.08 L466.34,815.00 L470.56,815.90 L474.80,816.79 L479.03,817.66 L483.27,818.51 L487.51,819.34 L491.75,820.16 L496.00,820.96 L500.25,821.74 L504.51,822.50 L508.76,823.25 L513.02,823.98 L517.28,824.70 L521.55,825.40 L525.81,826.08 L530.08,826.75 L534.36,827.40 L538.63,828.04 L542.91,828.65 L547.19,829.26 L551.47,829.85 L555.75,830.42 L560.04,830.97 L564.32,831.51 L568.61,832.04 L572.90,832.55 L577.20,833.04 L581.49,833.52 L585.79,833.99 L590.08,834.44 L594.38,834.87 L598.68,835.29 L602.99,835.70 L607.29,836.09 L611.59,836.47 L615.90,836.83 L620.21,837.18 L624.51,837.51 L628.82,837.83 L633.13,838.14 L637.44,838.43 L641.75,838.71 L646.06,838.97 L650.38,839.22 L654.69,839.46 L659.00,839.68 L663.32,839.89 L667.63,840.09 L671.94,840.27 L676.26,840.44 L680.57,840.60 L684.89,840.74 L689.20,840.87 L693.52,840.99 L697.84,841.09 L702.15,841.18 L706.47,841.26 L710.79,841.32 L715.10,841.37 L719.42,841.40 L723.74,841.42 L728.05,841.43 L732.37,841.43 L736.69,841.41 L741.00,841.38 L745.32,841.33 L749.63,841.27 L753.95,841.20 L758.27,841.12 L762.58,841.02 L766.90,840.90 L771.21,840.78 L775.53,840.64 L779.84,840.49 L784.15,840.32 L788.47,840.14 L792.78,839.95 L797.09,839.74 L801.41,839.52 L805.72,839.29 L810.03,839.04 L814.34,838.78 L818.65,838.51 L822.96,838.22 L827.26,837.92 L831.57,837.61 L835.88,837.28 L840.18,836.94 L844.49,836.59 L848.79,836.22 L853.10,835.84 L857.40,835.44 L861.70,835.04 L866.00,834.62 L870.30,834.18 L874.60,833.73 L878.90,833.27 L883.19,832.80 L887.49,832.31 L891.78,831.81 L896.07,831.30 L900.37,830.77 L904.66,830.23 L908.94,829.67 L913.23,829.10 L917.52,828.52 L921.80,827.93 L926.09,827.32 L930.37,826.70 L934.65,826.06 L938.93,825.42 L943.21,824.76 L947.48,824.08 L951.76,823.39 L956.03,822.69 L960.30,821.98 L964.57,821.25 L968.84,820.51 L973.11,819.75 L977.37,818.99 L981.63,818.20 L985.89,817.41 L990.15,816.60 L994.41,815.78 L998.66,814.95 L1002.92,814.10 L1007.17,813.24 L1011.42,812.36 L1015.66,811.47 L1019.91,810.57 L1024.15,809.66 L1028.39,808.73 L1032.63,807.79 L1036.86,806.83 L1041.09,805.85 L1045.32,804.86 L1049.54,803.85 L1053.75,802.82 L1057.96,801.77 L1062.16,800.70 L1066.36,799.60 L1070.55,798.49 L1074.73,797.35 L1078.90,796.19 L1083.06,795.01 L1087.21,793.80 L1091.36,792.56 L1095.49,791.30 L1099.61,790.01 L1103.72,788.69 L1107.82,787.34 L1111.91,785.96 L1115.98,784.55 L1120.04,783.10 L1124.09,781.63 L1128.13,780.12 L1132.14,778.58 L1136.15,777.00 L1140.13,775.39 L1144.11,773.74 L1148.06,772.05 L1152.00,770.32 L1155.92,768.56 L1159.82,766.75 L1163.70,764.91 L1167.57,763.02 L1171.41,761.09 L1175.24,759.12 L1179.04,757.11 L1182.82,755.05 L1186.58,752.94 L1190.32,750.79 L1194.04,748.59 L1197.74,746.34 L1201.41,744.05 L1205.05,741.70 L1208.68,739.31 L1212.27,736.86 L1215.83,734.36 L1219.33,731.78 L1222.76,729.13 L1226.09,726.38 L1229.30,723.53 L1232.38,720.57 L1235.31,717.49 L1238.06,714.26 L1240.61,710.90 L1242.95,707.37 L1245.07,703.68 L1246.92,699.81 L1248.51,695.75 L1249.81,691.49 L1250.79,687.02" fill="none" stroke="#008000" stroke-width="2"/>
<line x1="158.4" y1="35" x2="205.2" y2="81.3" stroke="#ff0000" stroke-width="2.2"/><polygon points="214.7,90.6 200.2,86.3 210.2,76.3" fill="#ff0000"/>
<line x1="1414.5" y1="37.4" x2="1461.1" y2="82.5" stroke="#ff0000" stroke-width="2.2"/><polygon points="1471.3,91.6 1455.5,88.6 1466.7,76.4" fill="#ff0000"/>
<line x1="165.6" y1="481" x2="205.2" y2="522.5" stroke="#ff0000" stroke-width="2.2"/><polygon points="215,531.7 198.8,527.6 211.6,517.4" fill="#ff0000"/>
<line x1="1421.8" y1="482.4" x2="1461.2" y2="523" stroke="#ff0000" stroke-width="2.2"/><polygon points="1471,532.6 1454.9,528 1467.5,518.1" fill="#ff0000"/>
<line x1="1587" y1="95.4" x2="1611" y2="61.9" stroke="#008000" stroke-width="4.5"/><polygon points="1618.9,50.1 1604.4,58 1617.6,65.7" fill="#008000"/>
<line x1="1584.5" y1="104.4" x2="1608" y2="136.2" stroke="#ff0000" stroke-width="4.5"/><polygon points="1616.3,147.6 1601,140 1615,132.3" fill="#ff0000"/>
<line x1="1585.7" y1="531.9" x2="1608.1" y2="499.6" stroke="#008000" stroke-width="4.5"/><polygon points="1616,486.9 1601.2,495.3 1615,503.8" fill="#008000"/>
<line x1="1583.6" y1="543.2" x2="1606.4" y2="576.9" stroke="#ff0000" stroke-width="4.5"/><polygon points="1615,588.9 1599,581.8 1613.8,572" fill="#ff0000"/>
<text x="220" y="73.8" font-size="19.3" fill="#ff0000" font-family="Liberation Sans, sans-serif" textLength="210" lengthAdjust="spacingAndGlyphs">Dot-Com Bubble Highs</text>
<text x="221.4" y="510" font-size="19.3" fill="#ff0000" font-family="Liberation Sans, sans-serif" textLength="210" lengthAdjust="spacingAndGlyphs">Dot-Com Bubble Highs</text>
<text x="632" y="176.6" font-size="39" fill="#000080" font-family="Liberation Sans, sans-serif" textLength="321" lengthAdjust="spacingAndGlyphs">Semis vs S&amp;P 500</text>
<text x="707.6" y="232.5" font-size="39" fill="#000080" font-family="Liberation Sans, sans-serif" textLength="179" lengthAdjust="spacingAndGlyphs">(SOX/SPX)</text>
<text x="643.3" y="606.6" font-size="39" fill="#000" font-family="Liberation Sans, sans-serif" textLength="296" lengthAdjust="spacingAndGlyphs">Tech vs S&amp;P 500</text>
<text x="710.4" y="662.5" font-size="39" fill="#000" font-family="Liberation Sans, sans-serif" textLength="173" lengthAdjust="spacingAndGlyphs">(XLK/SPX)</text>
<g fill="#e31d3c">
<polygon points="1641.6,759.5 1646.1,760.9 1649.3,757.6 1649.4,762.3 1653.6,764.4 1649.1,765.9 1648.5,770.5 1645.7,766.7 1641.0,767.5 1643.7,763.7"/>
<polygon points="1657.4,746.8 1661.1,749.8 1665.3,747.8 1663.7,752.2 1666.9,755.7 1662.2,755.5 1659.9,759.5 1658.6,755.0 1654.0,754.1 1657.9,751.5"/>
<polygon points="1677.7,740.6 1680.0,744.7 1684.7,744.6 1681.5,748.0 1683.1,752.4 1678.9,750.4 1675.2,753.3 1675.7,748.7 1671.8,746.1 1676.4,745.1"/>
<polygon points="1699.4,743.2 1699.9,747.8 1704.3,749.5 1700.0,751.4 1699.8,756.1 1696.6,752.6 1692.1,753.8 1694.4,749.8 1691.9,745.8 1696.5,746.8"/>
<polygon points="1717.6,754.0 1716.3,758.5 1719.6,761.8 1714.9,761.9 1712.9,766.1 1711.4,761.7 1706.7,761.0 1710.5,758.2 1709.6,753.6 1713.5,756.2"/>
<polygon points="1730.8,770.4 1727.8,774.0 1729.7,778.4 1725.3,776.6 1721.8,779.7 1722.1,775.0 1718.1,772.6 1722.6,771.5 1723.7,766.9 1726.2,770.9"/>
<polygon points="1736.6,791.1 1732.4,793.2 1732.4,797.9 1729.1,794.6 1724.6,796.0 1726.7,791.8 1724.0,788.0 1728.6,788.8 1731.4,785.0 1732.1,789.6"/>
<polygon points="1735.1,809.7 1730.5,810.2 1728.8,814.6 1726.9,810.3 1722.2,810.1 1725.7,807.0 1724.4,802.4 1728.5,804.7 1732.4,802.2 1731.5,806.8"/>
<polygon points="1727.0,821.1 1724.3,820.7 1722.7,822.9 1722.2,820.2 1719.6,819.3 1722.1,818.1 1722.1,815.3 1724.0,817.3 1726.6,816.4 1725.4,818.9"/>
<polygon points="1721.0,829.1 1718.5,828.2 1716.6,829.9 1716.7,827.3 1714.4,826.1 1716.9,825.3 1717.5,822.8 1718.9,825.0 1721.5,824.6 1719.9,826.7"/>
<polygon points="1713.9,835.6 1711.8,834.3 1709.7,835.6 1710.3,833.2 1708.4,831.6 1710.8,831.4 1711.8,829.1 1712.7,831.4 1715.2,831.6 1713.3,833.2"/>
<polygon points="1705.4,840.7 1703.7,839.2 1701.5,840.0 1702.5,837.9 1701.1,836.1 1703.4,836.3 1704.6,834.4 1705.1,836.7 1707.3,837.3 1705.3,838.4"/>
<polygon points="1695.8,844.2 1694.4,842.4 1692.2,842.7 1693.5,840.9 1692.5,838.9 1694.7,839.6 1696.2,838.0 1696.2,840.2 1698.2,841.3 1696.1,842.0"/>
<polygon points="1685.7,845.4 1684.8,843.5 1682.6,843.4 1684.2,841.9 1683.7,839.8 1685.6,840.9 1687.4,839.7 1686.9,841.8 1688.6,843.2 1686.5,843.4"/>
<polygon points="1675.8,844.7 1675.3,842.7 1673.3,842.2 1675.1,841.1 1674.9,839.0 1676.5,840.3 1678.5,839.6 1677.7,841.5 1679.0,843.1 1676.9,842.9"/>
<polygon points="1666.0,842.9 1665.9,840.9 1664.2,840.1 1666.0,839.4 1666.2,837.5 1667.4,839.0 1669.4,838.6 1668.3,840.3 1669.2,842.0 1667.3,841.4"/>
<polygon points="1658.5,839.9 1658.7,838.2 1657.2,837.2 1658.9,836.9 1659.4,835.2 1660.3,836.7 1662.0,836.7 1660.8,837.9 1661.4,839.6 1659.8,838.8"/>
<polygon points="1653.2,836.4 1653.6,834.9 1652.4,833.9 1653.9,833.8 1654.5,832.4 1655.1,833.8 1656.6,833.9 1655.4,834.9 1655.8,836.4 1654.5,835.6"/>
<polygon points="1648.4,832.7 1648.9,831.4 1648.0,830.3 1649.4,830.4 1650.1,829.2 1650.4,830.5 1651.8,830.8 1650.6,831.6 1650.8,833.0 1649.7,832.1"/>
<polygon points="1644.2,828.2 1644.8,827.2 1644.1,826.2 1645.3,826.4 1646.0,825.4 1646.2,826.6 1647.4,827.0 1646.3,827.5 1646.3,828.8 1645.4,827.9"/>
</g>
<text x="1546.2" y="794.7" font-size="25" font-weight="bold" fill="#0f2d52" font-family="Liberation Sans, sans-serif" textLength="152" lengthAdjust="spacing">ALL STAR</text>
<text x="1557.4" y="820.6" font-size="25" font-weight="bold" fill="#0f2d52" font-family="Liberation Sans, sans-serif" textLength="130" lengthAdjust="spacing">CHARTS</text>
<defs><clipPath id="oq"><rect x="1790" y="4" width="21" height="20.8" rx="3.2"/></clipPath></defs>
<rect x="1790" y="4" width="21" height="20.8" rx="3.2" fill="#0b3f78"/>
<g clip-path="url(#oq)"><circle cx="1802.3" cy="18.4" r="7.6" fill="#fff"/><circle cx="1804.6" cy="18.1" r="6.3" fill="#0b3f78"/><path d="M1790,24.8 L1796.5,24.8 Q1793.5,20 1796,15 L1790,15z" fill="#0b3f78"/></g>
<text x="1813.3" y="21.3" font-size="18.5" font-weight="bold" fill="#0b3f78" font-family="Liberation Sans, sans-serif" textLength="57.5" lengthAdjust="spacingAndGlyphs">Optuma</text>
<circle cx="1872.2" cy="10.5" r="1.1" fill="#0b3f78"/>
<rect x="1843.5" y="25" width="27.5" height="26.2" rx="2" fill="#fcfcfc" stroke="#d8d8d8"/><line x1="1845" y1="25.5" x2="1870" y2="25.5" stroke="#f6f6f6"/>
<path d="M1851.6,37 V33.3 a5.4,5.4 0 0 1 10.8,0 V37" fill="none" stroke="#6b6b6b" stroke-width="2.6"/>
<rect x="1848.2" y="36.2" width="17.6" height="10.7" rx="1.4" fill="#6b6b6b"/>
<path d="M1855.9,39.3 h2.2 l-0.6,2.1 l0.9,2.4 h-2.8 l0.9,-2.4z" fill="#f4f4f4"/>
<rect x="1843.5" y="449.5" width="27" height="26.5" rx="2" fill="#fafafa" stroke="#dcdcdc"/>
<path d="M1851.6,462 V458.3 a5.4,5.4 0 0 1 10.2,-2.6" fill="none" stroke="#6b6b6b" stroke-width="2.6"/>
<rect x="1848.2" y="461.5" width="17.6" height="10.2" rx="1.4" fill="#6b6b6b"/>
<path d="M1855.9,464.3 h2.2 l-0.6,2.1 l0.9,2.4 h-2.8 l0.9,-2.4z" fill="#f4f4f4"/>
<rect x="1859.5" y="434.5" width="12" height="28.5" rx="2" fill="#fafafa" stroke="#dcdcdc"/>
<path d="M1868.2,444.6 L1864.4,449 L1868.2,453.4" fill="none" stroke="#6b6b6b" stroke-width="2.8"/>
</svg>
</body></html>
